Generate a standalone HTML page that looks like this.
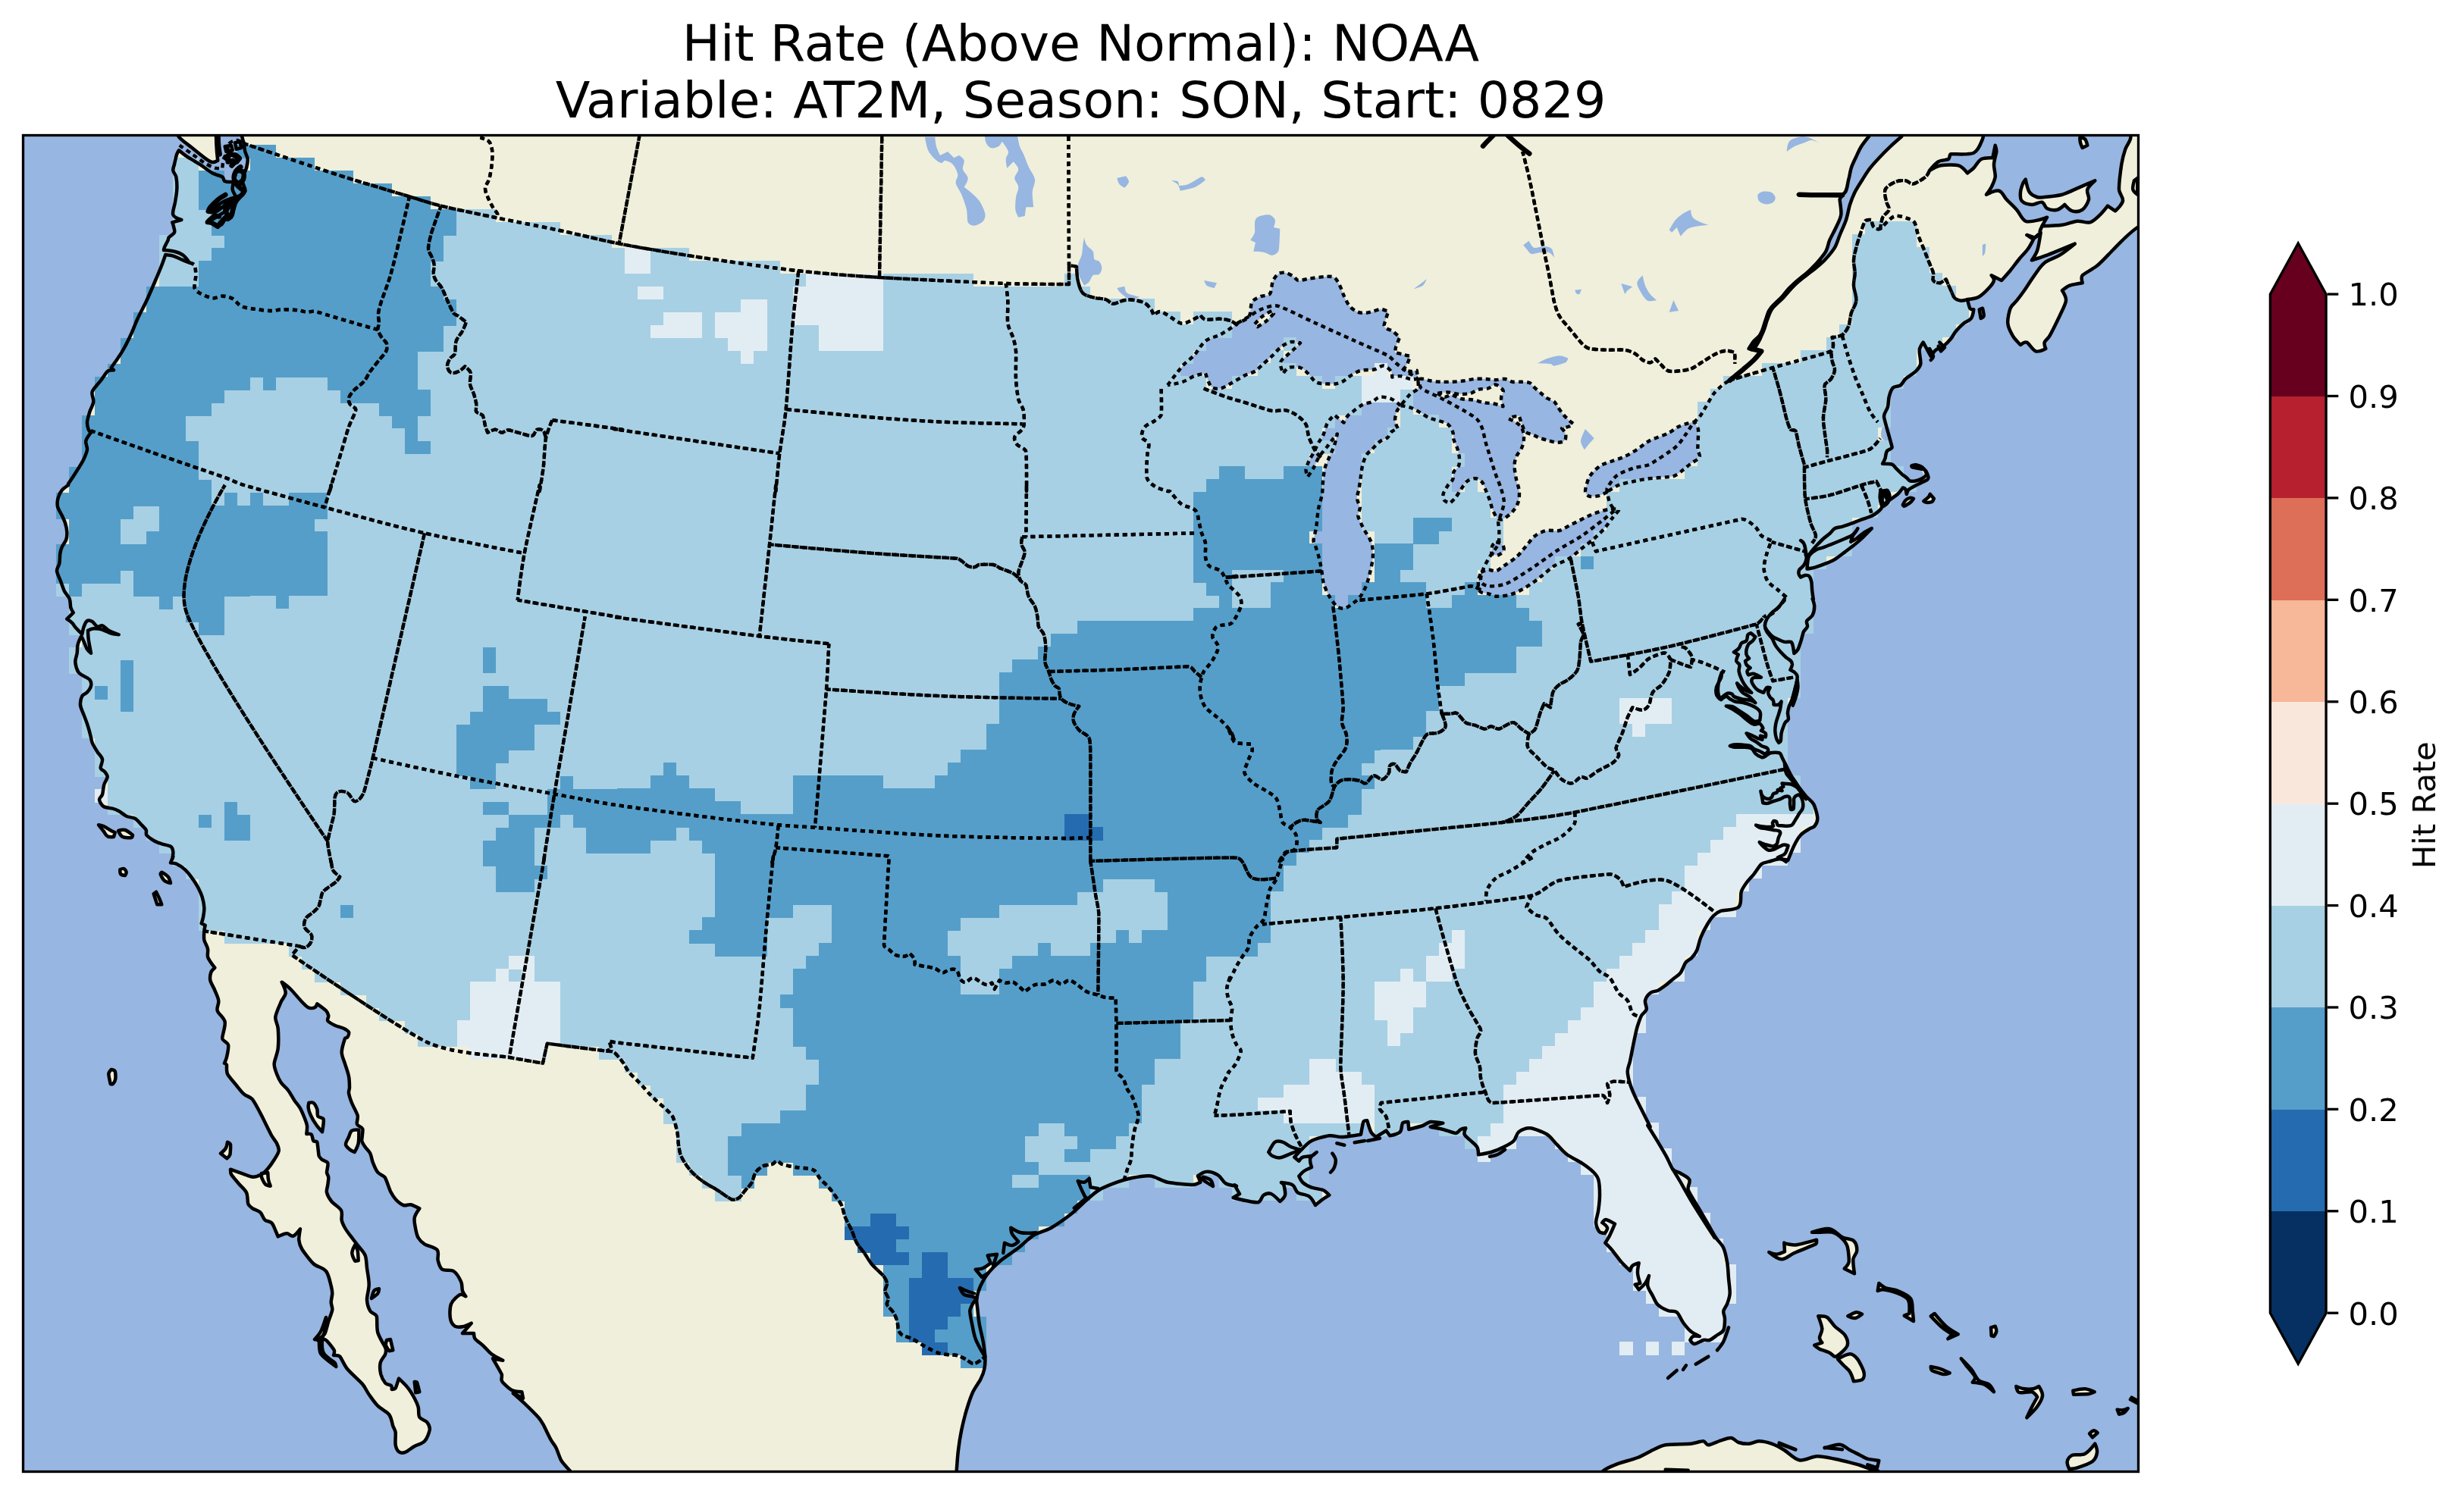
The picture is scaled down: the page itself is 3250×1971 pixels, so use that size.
<!DOCTYPE html>
<html><head><meta charset="utf-8"><title>Hit Rate (Above Normal): NOAA</title>
<style>html,body{margin:0;padding:0;background:#fff}svg{display:block}</style></head>
<body>
<svg xmlns="http://www.w3.org/2000/svg" width="3250" height="1971" viewBox="0 0 3250 1971">
<rect width="3250" height="1971" fill="#fff"/>
<g font-family="'DejaVu Sans','Liberation Sans',sans-serif" font-size="66.667" text-anchor="middle" fill="#000" opacity="0.999"><text x="1425.5" y="80.4">Hit Rate (Above Normal): NOAA</text><text x="1425.5" y="154.6">Variable: AT2M, Season: SON, Start: 0829</text></g>
<clipPath id="axclip"><rect x="30.5" y="178.5" width="2790.0" height="1763.0"/></clipPath>
<g clip-path="url(#axclip)">
<rect x="25.5" y="173.5" width="2800.0" height="1773.0" fill="#97b6e1"/>
<g fill="#efefdb" stroke="none">
<path d="M316.7 170.0C316.7 170.0 319.5 181.3 320.0 183.3C320.5 185.3 321.3 187.3 321.7 189.3C322.1 191.4 322.5 196.6 323.3 200.0C324.2 203.4 326.4 206.5 326.7 210.0C326.9 213.5 325.7 218.8 325.0 221.7C324.3 224.6 322.5 227.1 321.7 230.0C320.9 232.9 319.7 236.7 320.0 240.0C320.3 243.3 323.3 247.5 323.3 250.0C323.3 252.5 321.4 254.6 320.0 256.7C318.6 258.7 313.4 263.6 311.7 266.7C309.9 269.7 309.4 273.3 308.3 276.7C307.2 280.0 306.9 284.4 305.0 286.7C303.1 288.9 298.9 288.3 296.7 290.0C294.4 291.7 293.9 295.6 291.7 296.7C289.4 297.8 285.8 297.5 283.3 296.7C280.8 295.8 276.7 291.7 276.7 291.7C276.7 291.7 286.6 285.5 290.0 283.3C293.4 281.2 297.5 279.4 300.0 276.7C302.5 273.9 305.0 266.7 305.0 266.7L301.7 265.0C301.7 265.0 296.4 270.8 293.3 273.3C290.3 275.8 286.1 279.3 283.3 280.0C280.6 280.7 275.0 278.3 275.0 278.3C275.0 278.3 278.3 276.0 280.0 275.0C281.7 274.0 291.9 267.3 296.7 265.0C301.4 262.7 311.7 260.0 311.7 260.0C311.7 260.0 307.2 253.3 306.7 250.0C306.1 246.7 308.3 240.0 308.3 240.0C308.3 240.0 306.1 240.1 305.0 240.0C303.9 239.9 298.6 240.4 296.7 239.3C294.7 238.2 295.2 234.6 293.3 233.3C291.4 232.1 284.1 230.6 280.0 228.3C275.9 226.0 268.8 220.2 263.3 216.7C257.9 213.1 250.4 209.2 246.7 206.7C242.9 204.2 236.0 198.3 236.0 198.3C236.0 198.3 233.9 201.5 233.3 203.3C232.7 205.1 230.6 213.9 230.0 216.7C229.4 219.4 227.9 222.2 228.3 225.0C228.7 227.8 231.7 230.3 232.3 233.3C232.9 236.4 233.6 244.4 233.3 250.0C233.1 255.6 231.8 261.1 231.0 266.7C230.2 272.2 226.9 279.4 228.3 283.3C229.7 287.2 239.3 290.0 239.3 290.0L227.3 293.3C227.3 293.3 228.9 297.8 229.3 300.0C229.8 302.2 231.0 304.7 230.0 306.7C229.0 308.7 223.4 312.4 222.7 313.3C221.9 314.2 222.1 315.6 221.7 316.7C221.2 317.7 217.1 325.6 216.7 326.7C216.2 327.7 216.0 330.0 216.0 330.0C216.0 330.0 225.9 330.6 230.0 331.7C234.1 332.7 238.3 334.2 241.7 336.7C245.0 339.2 250.0 346.7 250.0 346.7C250.0 346.7 243.3 344.0 240.0 342.7C236.7 341.3 231.6 338.7 228.3 337.7C225.1 336.7 218.3 336.0 218.3 336.0C218.3 336.0 215.1 345.4 213.3 350.0C211.5 354.6 207.8 363.4 205.0 370.0C202.2 376.6 197.0 388.8 193.3 396.7C189.7 404.5 184.7 413.4 181.7 420.0C178.6 426.6 176.3 433.4 173.3 440.0C170.3 446.6 165.9 455.4 163.3 460.0C160.8 464.6 157.7 469.4 155.0 473.3C152.3 477.3 146.7 485.0 146.7 485.0L150.0 488.3C150.0 488.3 143.9 488.2 141.7 490.0C139.5 491.8 136.2 497.8 133.3 501.7C130.5 505.5 123.2 512.4 121.7 516.7C120.2 520.9 123.9 525.6 123.3 530.0C122.8 534.4 119.7 539.0 118.3 543.3C117.0 547.7 115.2 553.3 115.0 556.7C114.8 560.0 116.1 565.0 116.7 566.7C117.3 568.3 120.0 570.7 120.0 570.7C120.0 570.7 114.2 577.9 113.3 581.7C112.5 585.4 115.5 589.4 115.0 593.3C114.5 597.2 112.1 602.4 110.0 606.7C107.9 610.9 103.2 618.3 100.0 623.3C96.8 628.4 90.3 637.9 90.0 638.3C89.7 638.8 90.4 639.6 90.0 640.0C89.6 640.4 83.9 643.9 81.7 646.7C79.4 649.4 77.6 653.1 76.7 656.7C75.7 660.3 75.2 664.5 76.0 668.3C76.8 672.1 80.1 676.7 81.7 680.0C83.2 683.3 84.9 686.5 86.0 690.0C87.1 693.5 88.1 698.3 88.3 701.7C88.5 705.0 88.4 708.5 87.3 711.7C86.3 714.8 82.8 719.0 81.7 721.7C80.5 724.3 79.8 727.1 79.3 730.0C78.9 732.9 79.0 739.9 78.3 743.3C77.7 746.8 74.7 749.8 75.0 753.3C75.3 756.8 78.3 762.2 80.0 766.7C81.7 771.1 83.2 776.4 85.0 780.0C86.8 783.6 90.3 786.4 91.7 790.0C93.1 793.6 92.7 799.3 93.3 801.7C94.0 804.1 96.7 808.3 96.7 808.3L88.3 816.7C88.3 816.7 93.1 819.7 95.0 821.7C96.9 823.6 98.2 826.3 100.0 828.3C101.8 830.4 108.3 836.7 108.3 836.7C108.3 836.7 109.6 829.4 110.7 826.7C111.7 823.9 113.2 820.1 115.0 819.0C116.8 817.9 119.7 818.9 121.7 820.0C123.6 821.1 126.2 825.8 128.3 826.7C130.4 827.5 132.9 824.6 135.0 825.3C137.1 826.0 140.3 830.0 143.3 831.7C146.4 833.4 156.7 837.3 156.7 837.3C156.7 837.3 149.9 836.7 146.7 835.7C143.4 834.7 138.8 831.7 135.0 830.7C131.2 829.6 125.9 829.2 123.3 829.3C120.8 829.5 116.0 831.7 116.0 831.7C116.0 831.7 116.2 839.5 116.7 843.3C117.2 847.2 120.0 861.7 120.0 861.7C120.0 861.7 116.2 858.7 115.0 856.7C113.8 854.6 110.8 846.9 110.0 845.0C109.2 843.1 107.3 839.3 107.3 839.3C107.3 839.3 103.6 846.3 102.7 850.0C101.7 853.7 102.2 857.8 101.7 861.7C101.1 865.5 99.1 869.4 99.3 873.3C99.6 877.3 101.9 884.3 103.3 886.7C104.7 889.1 107.7 890.1 110.0 891.7C112.3 893.2 116.7 894.4 118.3 896.7C120.0 898.9 120.6 902.2 120.0 905.0C119.4 907.8 116.8 911.2 115.0 913.3C113.2 915.4 109.7 915.9 108.3 918.3C107.0 920.8 105.7 926.1 106.0 930.0C106.3 933.9 108.6 937.8 110.0 941.7C111.4 945.5 113.5 950.5 115.0 955.0C116.5 959.5 118.5 966.7 119.3 970.0C120.2 973.3 120.4 976.8 121.7 980.0C123.0 983.2 126.2 988.3 128.3 991.7C130.4 995.1 134.3 998.1 135.0 1001.7C135.7 1005.3 132.2 1010.9 132.7 1013.3C133.2 1015.8 136.8 1016.4 138.3 1018.3C139.8 1020.3 141.8 1022.5 141.7 1025.0C141.5 1027.5 138.3 1031.5 137.3 1035.0C136.3 1038.5 135.8 1045.9 135.0 1048.3C134.2 1050.8 130.7 1052.4 131.0 1055.0C131.3 1057.6 133.8 1062.1 136.7 1064.0C139.6 1065.9 145.5 1065.8 148.3 1066.7C151.2 1067.5 154.0 1068.6 156.7 1070.0C159.3 1071.4 163.1 1075.0 166.7 1076.7C170.3 1078.3 175.0 1078.1 178.3 1080.0C181.7 1081.9 184.6 1086.2 186.7 1088.3C188.7 1090.5 191.7 1093.0 192.7 1095.0C193.7 1097.0 192.0 1099.9 193.3 1101.7C194.7 1103.5 200.2 1107.5 203.3 1109.3C206.4 1111.1 209.9 1112.2 213.3 1113.3C216.7 1114.5 222.9 1115.3 225.0 1116.7C227.1 1118.0 228.0 1120.9 228.3 1123.3C228.7 1125.8 227.3 1133.3 227.3 1133.3L228.3 1130.0L225.0 1138.3C225.0 1138.3 230.8 1138.8 233.3 1140.0C235.9 1141.2 240.4 1144.0 243.3 1146.7C246.3 1149.4 250.3 1154.2 253.3 1158.3C256.4 1162.5 259.7 1167.9 261.7 1171.7C263.7 1175.4 265.4 1179.3 266.7 1183.3C267.9 1187.4 269.1 1192.8 269.3 1196.7C269.6 1200.6 268.9 1204.9 268.3 1208.3C267.8 1211.7 265.7 1218.3 265.7 1218.3L270.7 1220.7C270.7 1220.7 269.5 1225.7 269.3 1228.3C269.2 1230.9 268.6 1236.2 269.3 1240.0C270.1 1243.8 273.2 1247.9 274.0 1251.7C274.8 1255.5 273.0 1259.7 274.3 1263.3C275.7 1267.0 283.3 1276.7 283.3 1276.7C283.3 1276.7 279.2 1280.2 278.3 1282.7C277.5 1285.1 276.7 1289.8 277.3 1293.3C278.0 1296.8 281.0 1301.0 282.7 1305.0C284.3 1309.0 287.7 1315.6 288.3 1320.0C289.0 1324.4 285.4 1329.0 286.7 1333.3C287.9 1337.6 295.6 1342.4 296.7 1348.3C297.7 1354.2 292.8 1366.3 293.3 1370.0C293.9 1373.7 300.1 1374.7 301.0 1378.3C301.9 1382.0 300.0 1390.1 299.3 1393.3C298.7 1396.6 296.0 1402.7 296.0 1402.7C296.0 1402.7 298.7 1403.8 299.0 1405.0C299.3 1406.2 298.3 1413.1 300.0 1416.7C301.7 1420.2 308.4 1427.7 311.7 1431.7C314.9 1435.6 318.4 1440.5 321.7 1443.3C324.9 1446.2 329.9 1446.8 332.7 1450.0C335.5 1453.2 340.9 1464.0 343.3 1468.3C345.7 1472.7 347.8 1477.2 350.0 1481.7C352.2 1486.1 356.4 1494.8 358.3 1498.3C360.3 1501.8 363.5 1505.2 365.0 1508.3C366.5 1511.5 368.2 1514.9 367.7 1518.3C367.1 1521.7 364.0 1526.3 361.7 1530.0C359.4 1533.7 355.8 1538.8 353.3 1541.7C350.9 1544.5 348.3 1547.5 345.0 1549.3C341.7 1551.2 337.4 1552.8 333.3 1552.7C329.3 1552.5 324.4 1549.8 320.0 1548.3C315.6 1546.8 304.0 1542.7 304.0 1542.7C304.0 1542.7 303.9 1547.4 305.0 1549.3C306.1 1551.3 311.7 1557.7 315.0 1561.7C318.3 1565.6 322.9 1568.9 325.0 1573.3C327.1 1577.8 326.3 1585.7 327.3 1588.3C328.4 1591.0 331.0 1592.7 333.3 1594.3C335.7 1595.9 340.7 1596.8 343.3 1599.3C346.0 1601.8 346.9 1607.1 349.3 1609.3C351.7 1611.6 356.0 1611.0 358.3 1613.3C360.7 1615.7 362.1 1620.7 363.3 1623.3C364.5 1626.0 366.7 1631.3 366.7 1631.3C366.7 1631.3 375.3 1627.4 378.3 1627.3C381.3 1627.2 383.8 1631.6 386.7 1630.7C389.5 1629.7 396.0 1621.3 396.0 1621.3C396.0 1621.3 394.0 1632.2 394.3 1636.3C394.7 1640.4 396.2 1644.5 398.3 1648.0C400.5 1651.5 408.6 1662.6 413.3 1667.0C418.1 1671.4 426.1 1672.1 430.0 1677.0C433.9 1681.9 435.7 1693.1 436.7 1696.3C437.6 1699.6 438.3 1703.0 438.3 1706.3C438.3 1709.7 436.7 1714.6 436.7 1718.0C436.7 1721.4 438.8 1724.7 438.3 1728.0C437.9 1731.3 434.9 1738.0 433.3 1743.0C431.7 1748.0 430.1 1756.6 428.3 1759.7C426.6 1762.8 420.0 1766.3 420.0 1766.3C420.0 1766.3 427.3 1766.0 430.0 1768.0C432.7 1770.0 439.7 1779.3 440.7 1781.3C441.7 1783.3 440.0 1788.0 440.0 1788.0C440.0 1788.0 446.3 1787.7 448.3 1789.7C450.3 1791.7 454.2 1801.3 458.3 1806.3C462.4 1811.3 474.9 1822.3 478.3 1826.3C481.7 1830.3 483.6 1835.4 486.7 1839.7C489.7 1843.9 493.9 1850.2 498.3 1854.7C502.8 1859.1 510.2 1862.1 513.3 1866.3C516.5 1870.5 517.3 1878.5 518.3 1881.3C519.3 1884.2 521.3 1886.7 521.7 1889.7C522.1 1892.6 521.0 1902.9 521.7 1906.3C522.3 1909.8 524.4 1914.1 526.7 1915.7C528.9 1917.2 532.4 1916.7 535.0 1915.7C537.6 1914.7 542.6 1910.3 546.7 1908.0C550.7 1905.7 556.7 1904.9 560.0 1901.3C563.3 1897.7 566.2 1889.8 566.7 1886.3C567.1 1882.9 565.5 1879.1 563.3 1876.3C561.1 1873.6 555.3 1873.0 553.3 1869.7C551.4 1866.3 552.8 1860.4 551.7 1856.3C550.6 1852.2 548.7 1848.4 546.7 1844.7C544.7 1840.9 541.6 1835.4 538.3 1831.3C535.1 1827.2 526.0 1818.7 526.0 1818.7C526.0 1818.7 522.6 1829.9 521.7 1831.3C520.7 1832.8 516.7 1833.0 516.7 1833.0C516.7 1833.0 517.2 1829.2 516.0 1828.0C514.8 1826.8 510.2 1826.7 508.3 1824.7C506.5 1822.6 503.4 1817.2 502.3 1813.0C501.3 1808.8 500.7 1802.4 501.7 1798.0C502.6 1793.6 507.5 1789.0 508.3 1786.3C509.2 1783.7 509.3 1780.6 508.3 1778.0C507.4 1775.4 500.3 1764.9 498.3 1758.0C496.4 1751.1 497.9 1739.7 496.7 1736.3C495.5 1733.0 490.1 1732.7 488.3 1729.7C486.5 1726.6 484.2 1719.9 484.0 1714.7C483.8 1709.5 486.7 1701.4 486.7 1694.7C486.7 1687.9 484.7 1678.6 484.0 1673.0C483.3 1667.4 483.4 1660.8 481.7 1656.3C480.0 1651.9 476.2 1648.5 473.3 1644.7C470.5 1640.8 464.0 1632.8 461.7 1629.7C459.3 1626.5 456.8 1623.2 455.0 1620.0C453.2 1616.8 451.4 1613.6 450.7 1610.0C449.9 1606.4 452.1 1600.6 450.0 1596.7C447.9 1592.7 440.1 1588.4 437.3 1585.0C434.5 1581.6 431.8 1576.6 431.0 1573.3C430.2 1570.1 431.9 1566.7 432.3 1563.3C432.7 1560.0 433.5 1555.7 433.3 1553.3C433.1 1551.0 431.1 1549.0 431.0 1546.7C430.9 1544.3 433.3 1537.0 432.3 1534.3C431.4 1531.7 426.7 1531.4 425.0 1530.0C423.3 1528.6 421.3 1527.1 420.7 1525.0C420.1 1522.9 418.9 1508.3 418.3 1506.7C417.7 1505.0 414.4 1506.4 413.3 1505.0C412.3 1503.6 412.2 1498.2 410.7 1496.7C409.2 1495.2 404.3 1496.0 404.3 1496.0C404.3 1496.0 405.4 1488.5 405.0 1485.0C404.6 1481.5 403.0 1478.3 401.7 1475.0C400.4 1471.7 397.7 1465.3 395.7 1461.7C393.6 1458.1 390.6 1455.1 388.3 1451.7C386.0 1448.2 382.8 1442.0 380.0 1438.3C377.2 1434.7 373.1 1431.9 370.7 1428.3C368.2 1424.8 366.5 1420.7 365.0 1416.7C363.5 1412.6 361.4 1407.9 361.7 1403.3C361.9 1398.8 365.9 1390.2 366.7 1383.3C367.4 1376.5 367.1 1361.8 366.7 1356.7C366.3 1351.6 362.8 1346.8 363.3 1341.7C363.9 1336.6 369.0 1325.7 370.7 1321.7C372.4 1317.6 376.5 1314.3 376.7 1310.0C376.8 1305.7 371.7 1295.7 371.7 1295.7C371.7 1295.7 379.8 1301.5 383.3 1305.0C386.9 1308.5 393.5 1316.7 396.7 1320.0C399.8 1323.3 404.2 1328.1 406.7 1329.3C409.1 1330.6 413.2 1330.1 415.0 1329.3C416.8 1328.5 418.3 1324.3 418.3 1324.3C418.3 1324.3 428.3 1331.5 430.0 1333.3C431.7 1335.1 432.9 1337.8 433.3 1340.0C433.7 1342.2 431.1 1344.8 432.3 1346.7C433.6 1348.5 438.3 1351.1 441.7 1352.7C445.0 1354.3 450.8 1355.4 453.3 1356.7C455.8 1357.9 459.2 1359.7 460.0 1361.7C460.8 1363.6 459.0 1367.3 458.3 1368.3C457.7 1369.4 455.4 1368.8 455.0 1370.0C454.6 1371.2 450.7 1383.1 450.7 1388.3C450.7 1393.5 453.5 1398.3 455.0 1403.3C456.5 1408.3 459.1 1415.1 460.0 1420.0C460.9 1424.9 461.0 1432.8 461.0 1435.0C461.0 1437.2 459.7 1439.4 460.0 1441.7C460.3 1443.9 462.3 1450.7 464.0 1455.0C465.7 1459.3 470.7 1467.9 471.7 1471.7C472.6 1475.4 469.9 1480.4 471.0 1483.3C472.1 1486.3 477.4 1486.3 478.3 1489.3C479.2 1492.4 476.9 1501.9 477.3 1505.0C477.8 1508.1 479.9 1510.7 481.7 1513.3C483.4 1515.9 486.7 1518.5 488.3 1521.7C489.9 1524.8 490.2 1529.6 491.7 1533.3C493.2 1537.1 495.9 1543.7 498.3 1546.7C500.7 1549.7 505.5 1550.2 507.7 1553.3C509.8 1556.5 513.0 1567.7 515.0 1571.7C517.0 1575.6 519.5 1579.7 522.3 1582.7C525.2 1585.7 529.4 1589.0 532.3 1590.0C535.3 1591.0 538.6 1588.7 541.7 1589.3C544.7 1590.0 553.3 1594.3 553.3 1594.3C553.3 1594.3 547.5 1602.1 546.7 1606.7C545.8 1611.2 547.6 1617.8 548.3 1621.7C549.1 1625.5 549.7 1629.7 551.7 1633.0C553.6 1636.3 556.7 1639.2 560.0 1641.3C563.3 1643.5 573.7 1645.4 576.7 1649.0C579.6 1652.6 576.6 1658.8 577.7 1663.0C578.8 1667.2 579.9 1672.3 583.3 1674.7C586.8 1677.0 594.2 1674.2 598.3 1677.0C602.5 1679.8 606.7 1687.7 608.3 1691.3C609.9 1694.9 609.1 1700.3 610.0 1703.0C610.9 1705.7 614.3 1710.3 614.3 1710.3C614.3 1710.3 609.0 1706.8 606.7 1708.0C604.3 1709.2 597.1 1715.1 595.0 1720.3C592.9 1725.6 593.3 1735.8 594.0 1739.7C594.7 1743.5 597.3 1747.9 600.0 1749.7C602.7 1751.4 606.7 1750.9 610.0 1750.3C613.3 1749.7 621.7 1745.7 621.7 1745.7L610.0 1759.0L625.0 1759.0C625.0 1759.0 625.1 1764.3 626.7 1766.3C628.2 1768.3 634.9 1773.1 638.3 1776.3C641.8 1779.5 644.5 1783.5 648.3 1786.3C652.1 1789.1 663.3 1794.7 663.3 1794.7L650.0 1792.3C650.0 1792.3 660.6 1810.4 661.7 1813.0C662.7 1815.6 660.8 1818.9 661.7 1821.3C662.5 1823.7 664.7 1825.6 666.7 1827.3C668.6 1829.1 673.1 1833.2 676.7 1834.7C680.3 1836.2 688.3 1836.3 688.3 1836.3L690.0 1844.7L676.7 1838.0C676.7 1838.0 686.8 1846.7 691.7 1851.3C696.5 1855.9 707.3 1866.7 710.0 1869.7C712.7 1872.7 714.7 1876.2 716.7 1879.7C718.6 1883.2 724.7 1896.2 726.7 1899.7C728.6 1903.2 731.5 1906.1 733.3 1909.7C735.1 1913.2 738.3 1923.2 740.0 1926.3C741.7 1929.5 745.1 1932.7 746.7 1934.7C748.3 1936.6 750.1 1938.4 751.7 1940.3C753.2 1942.3 765.5 1951.6 766.7 1959.7C767.8 1967.7 760.0 2000.0 760.0 2000.0L1258.0 2000.0C1258.0 2000.0 1259.6 1966.1 1260.0 1959.7C1260.4 1953.2 1261.1 1946.8 1261.7 1940.3C1262.2 1933.9 1262.9 1921.9 1264.0 1913.0C1265.1 1904.1 1266.5 1895.2 1268.3 1886.3C1270.2 1877.5 1272.6 1867.6 1275.0 1859.7C1277.4 1851.8 1280.6 1842.2 1283.3 1836.3C1286.0 1830.4 1291.2 1823.9 1293.3 1819.7C1295.5 1815.4 1297.4 1811.0 1298.3 1806.3C1299.3 1801.7 1299.6 1795.2 1299.3 1789.7C1299.1 1784.1 1297.8 1776.3 1296.7 1769.7C1295.5 1763.0 1292.8 1753.0 1291.7 1746.3C1290.5 1739.7 1289.8 1730.8 1289.3 1726.3C1288.9 1721.9 1287.7 1717.4 1288.3 1713.0C1288.9 1708.6 1291.0 1701.6 1293.3 1696.3C1295.7 1691.0 1299.3 1684.7 1303.3 1679.7C1307.4 1674.6 1314.0 1668.0 1320.0 1663.0C1326.0 1658.0 1336.5 1651.6 1343.3 1646.3C1350.2 1641.0 1356.1 1634.1 1363.3 1629.7C1370.5 1625.2 1379.3 1623.8 1386.7 1619.7C1394.0 1615.5 1406.2 1606.9 1413.3 1601.3C1420.4 1595.7 1427.9 1587.7 1433.3 1583.0C1438.7 1578.3 1443.9 1573.3 1450.0 1569.7C1456.1 1566.1 1467.9 1561.7 1473.3 1559.7C1478.8 1557.6 1484.3 1555.8 1490.0 1554.7C1495.7 1553.6 1508.4 1550.5 1516.7 1551.3C1524.9 1552.2 1531.9 1558.0 1540.0 1559.7C1548.1 1561.3 1569.8 1563.0 1573.3 1563.0C1576.8 1563.0 1583.3 1559.7 1583.3 1559.7L1580.0 1551.3C1580.0 1551.3 1587.3 1545.8 1591.7 1545.7C1596.0 1545.5 1602.5 1547.7 1606.7 1550.3C1610.8 1552.9 1612.6 1558.9 1616.7 1561.3C1620.7 1563.7 1631.0 1564.7 1631.0 1564.7L1628.3 1563.3L1635.0 1575.0L1626.7 1580.0C1626.7 1580.0 1637.8 1583.0 1643.3 1584.0C1648.8 1585.0 1656.4 1587.1 1660.0 1586.0C1663.6 1584.9 1663.9 1578.5 1666.7 1576.7C1669.4 1574.8 1673.5 1573.8 1676.7 1575.0C1679.8 1576.2 1688.3 1585.0 1688.3 1585.0C1688.3 1585.0 1694.2 1580.1 1695.0 1576.7C1695.8 1573.2 1693.8 1564.8 1693.3 1563.3C1692.9 1561.8 1690.0 1560.0 1690.0 1560.0C1690.0 1560.0 1701.6 1561.2 1705.0 1563.3C1708.4 1565.4 1708.4 1571.1 1711.7 1573.3C1715.0 1575.6 1722.8 1575.6 1726.7 1578.3C1730.6 1581.1 1735.0 1590.0 1735.0 1590.0C1735.0 1590.0 1740.5 1585.4 1743.3 1583.3C1746.2 1581.2 1753.3 1576.7 1753.3 1576.7C1753.3 1576.7 1748.3 1571.4 1745.0 1570.0C1741.7 1568.6 1734.2 1568.2 1730.0 1566.7C1725.8 1565.1 1720.7 1562.2 1718.3 1560.0C1715.9 1557.8 1713.3 1551.7 1713.3 1551.7C1713.3 1551.7 1717.4 1546.8 1720.0 1545.0C1722.6 1543.2 1730.0 1540.0 1730.0 1540.0C1730.0 1540.0 1727.2 1531.7 1728.3 1528.3C1729.4 1525.0 1736.7 1520.0 1736.7 1520.0C1736.7 1520.0 1732.6 1524.1 1730.0 1525.0C1727.4 1525.9 1720.5 1525.8 1718.3 1526.7C1716.1 1527.5 1713.3 1531.7 1713.3 1531.7L1707.3 1526.7C1707.3 1526.7 1713.4 1519.8 1716.7 1516.7C1720.0 1513.5 1724.7 1507.6 1730.0 1505.0C1735.3 1502.4 1747.8 1499.0 1753.3 1498.3C1758.9 1497.6 1764.4 1500.2 1770.0 1500.0C1775.6 1499.8 1795.0 1496.7 1795.0 1496.7C1795.0 1496.7 1797.6 1481.6 1798.3 1480.0C1799.1 1478.4 1803.3 1478.3 1803.3 1478.3C1803.3 1478.3 1806.8 1490.6 1808.3 1493.3C1809.8 1496.1 1815.0 1500.0 1815.0 1500.0L1828.3 1491.7L1833.3 1498.3C1833.3 1498.3 1843.9 1496.1 1846.7 1493.3C1849.4 1490.6 1848.4 1483.6 1850.0 1481.7C1851.6 1479.7 1857.3 1480.0 1857.3 1480.0L1858.3 1490.0C1858.3 1490.0 1873.2 1486.2 1876.7 1485.0C1880.2 1483.8 1883.0 1480.5 1886.7 1480.0C1890.4 1479.5 1903.3 1481.7 1903.3 1481.7L1886.7 1486.7C1886.7 1486.7 1897.8 1488.6 1903.3 1490.0C1908.8 1491.4 1917.2 1495.0 1920.0 1495.0C1922.8 1495.0 1924.6 1491.0 1926.7 1490.0C1928.7 1489.0 1933.3 1488.3 1933.3 1488.3C1933.3 1488.3 1930.6 1494.0 1931.7 1496.7C1932.7 1499.3 1937.2 1502.2 1940.0 1505.0C1942.8 1507.8 1946.7 1510.4 1948.3 1513.3C1950.0 1516.3 1950.0 1523.3 1950.0 1523.3C1950.0 1523.3 1961.2 1521.6 1966.7 1520.0C1972.1 1518.4 1978.6 1515.7 1983.3 1513.3C1988.0 1511.0 1993.5 1508.2 1996.7 1505.0C1999.8 1501.8 1999.8 1496.1 2003.3 1493.3C2006.9 1490.6 2013.1 1487.9 2018.3 1488.3C2023.6 1488.8 2034.6 1493.1 2040.0 1496.3C2045.4 1499.6 2048.9 1505.2 2053.3 1509.7C2057.8 1514.1 2061.6 1519.2 2066.7 1523.0C2071.7 1526.8 2081.4 1531.2 2086.7 1534.7C2091.9 1538.2 2098.8 1543.5 2101.7 1546.3C2104.5 1549.2 2107.3 1552.5 2108.3 1556.3C2109.4 1560.2 2110.0 1569.7 2110.0 1576.3C2110.0 1583.0 2109.1 1590.7 2108.3 1596.3C2107.6 1601.9 2104.9 1608.9 2105.0 1613.0C2105.1 1617.1 2107.7 1622.7 2109.3 1624.7C2111.0 1626.6 2116.7 1627.0 2116.7 1627.0C2116.7 1627.0 2120.6 1622.0 2120.0 1619.7C2119.4 1617.3 2113.3 1613.0 2113.3 1613.0C2113.3 1613.0 2116.2 1608.8 2118.3 1609.0C2120.5 1609.2 2130.0 1614.7 2130.0 1614.7C2130.0 1614.7 2125.1 1626.2 2123.3 1629.7C2121.6 1633.1 2117.3 1639.7 2117.3 1639.7C2117.3 1639.7 2123.7 1646.2 2126.7 1649.7C2129.6 1653.2 2134.7 1660.5 2138.3 1664.7C2142.0 1668.8 2150.0 1676.3 2150.0 1676.3C2150.0 1676.3 2151.4 1671.3 2153.3 1669.7C2155.2 1668.0 2161.7 1666.3 2161.7 1666.3C2161.7 1666.3 2159.7 1675.2 2160.0 1679.7C2160.3 1684.1 2163.3 1693.0 2163.3 1693.0L2156.7 1694.7L2161.7 1701.3C2161.7 1701.3 2167.8 1696.0 2170.0 1693.0C2172.2 1690.0 2175.0 1683.0 2175.0 1683.0C2175.0 1683.0 2172.5 1691.9 2173.3 1696.3C2174.2 1700.7 2177.9 1705.7 2180.0 1709.7C2182.1 1713.6 2183.4 1718.2 2186.7 1721.3C2189.9 1724.4 2196.3 1727.5 2200.0 1729.0C2203.7 1730.5 2208.5 1728.9 2211.7 1731.3C2214.8 1733.8 2217.0 1740.5 2220.0 1744.7C2223.0 1748.8 2226.6 1753.4 2230.0 1756.3C2233.4 1759.2 2241.7 1763.0 2241.7 1763.0C2241.7 1763.0 2235.3 1762.2 2233.3 1763.0C2231.4 1763.8 2229.3 1768.0 2229.3 1768.0C2229.3 1768.0 2232.5 1773.0 2235.0 1773.0C2237.5 1773.0 2244.0 1768.7 2246.7 1768.0C2249.4 1767.3 2252.4 1768.9 2255.0 1768.0C2257.6 1767.1 2262.1 1763.4 2265.0 1761.3C2267.9 1759.2 2271.8 1757.9 2273.3 1754.7C2274.8 1751.4 2275.0 1743.0 2275.0 1739.7C2275.0 1736.3 2272.8 1733.0 2273.3 1729.7C2273.9 1726.3 2277.1 1723.2 2278.3 1719.7C2279.6 1716.2 2281.4 1710.9 2281.7 1706.3C2281.9 1701.8 2280.6 1693.0 2280.0 1686.3C2279.4 1679.7 2279.4 1672.9 2278.3 1666.3C2277.2 1659.7 2275.6 1651.4 2273.3 1646.3C2271.1 1641.3 2266.4 1637.7 2263.3 1633.0C2260.3 1628.3 2255.6 1619.7 2251.7 1613.0C2247.8 1606.3 2243.9 1599.7 2240.0 1593.0C2236.1 1586.3 2228.0 1573.9 2226.7 1569.7C2225.3 1565.4 2230.0 1559.9 2228.3 1556.3C2226.7 1552.7 2219.8 1550.0 2216.7 1548.0C2213.5 1546.0 2209.1 1545.8 2206.7 1543.0C2204.3 1540.2 2201.3 1531.8 2198.3 1526.3C2195.4 1520.9 2190.6 1513.0 2186.7 1506.3C2182.7 1499.7 2173.3 1484.7 2173.3 1484.7L2176.7 1486.7C2176.7 1486.7 2170.0 1473.3 2166.7 1466.7C2163.3 1460.0 2159.1 1452.1 2156.7 1446.7C2154.2 1441.2 2151.6 1435.4 2150.0 1430.0C2148.4 1424.6 2146.7 1417.9 2146.7 1413.3C2146.7 1408.8 2149.0 1404.5 2150.0 1400.0C2151.0 1395.5 2152.2 1388.9 2153.3 1383.3C2154.4 1377.8 2155.7 1371.1 2156.7 1366.7C2157.7 1362.2 2158.6 1357.7 2160.0 1353.3C2161.4 1349.0 2163.3 1343.1 2165.0 1340.0C2166.7 1336.9 2170.8 1335.0 2171.7 1331.7C2172.5 1328.3 2169.2 1323.6 2170.0 1320.0C2170.8 1316.4 2173.9 1312.2 2176.7 1310.0C2179.4 1307.8 2183.5 1308.2 2186.7 1306.7C2189.8 1305.1 2193.5 1302.4 2196.7 1300.0C2199.9 1297.6 2203.3 1294.4 2206.7 1291.7C2210.0 1288.9 2214.0 1286.8 2216.7 1283.3C2219.3 1279.9 2221.2 1272.8 2223.3 1270.0C2225.5 1267.2 2229.3 1266.0 2231.7 1263.3C2234.0 1260.7 2236.7 1257.0 2238.3 1253.3C2239.9 1249.7 2241.2 1242.1 2243.3 1236.7C2245.5 1231.3 2249.2 1224.1 2251.7 1220.0C2254.1 1215.9 2257.2 1211.2 2260.0 1208.3C2262.8 1205.5 2266.2 1203.0 2270.0 1201.7C2273.8 1200.3 2288.9 1200.8 2293.3 1196.7C2297.8 1192.5 2295.3 1180.9 2296.7 1176.7C2298.0 1172.4 2300.7 1168.6 2303.3 1165.0C2305.9 1161.4 2310.1 1157.3 2313.3 1153.3C2316.5 1149.3 2320.6 1142.2 2323.3 1140.0C2326.0 1137.8 2330.0 1137.6 2333.3 1136.7C2336.7 1135.7 2342.7 1133.6 2346.7 1133.3C2350.6 1133.1 2358.3 1135.0 2358.3 1135.0C2358.3 1135.0 2364.3 1119.7 2366.7 1115.0C2369.0 1110.3 2371.8 1105.2 2375.0 1101.7C2378.2 1098.2 2384.6 1094.7 2386.7 1093.3C2388.8 1092.0 2391.8 1091.9 2393.3 1090.0C2394.9 1088.1 2397.3 1083.6 2397.3 1080.0C2397.3 1076.4 2395.9 1068.3 2393.3 1063.3C2390.7 1058.3 2385.3 1054.7 2381.7 1050.0C2378.0 1045.3 2373.5 1038.8 2370.0 1033.3C2366.5 1027.9 2363.0 1022.1 2360.0 1016.7C2357.0 1011.2 2354.0 1005.8 2351.7 1000.0C2349.4 994.2 2345.2 980.7 2345.0 979.3C2344.8 977.9 2348.0 978.0 2348.3 976.7C2348.7 975.3 2348.8 963.8 2350.0 960.0C2351.2 956.2 2355.1 953.1 2356.7 950.0C2358.2 946.9 2359.0 943.4 2360.0 940.0C2361.0 936.6 2362.2 931.1 2363.3 926.7C2364.4 922.2 2365.6 917.8 2366.7 913.3C2367.8 908.9 2369.8 903.4 2370.0 900.0C2370.2 896.6 2369.0 893.3 2368.3 890.0C2367.6 886.7 2365.0 881.2 2365.0 876.7C2365.0 872.1 2367.2 863.6 2368.3 860.0C2369.4 856.4 2372.1 853.5 2373.3 850.0C2374.6 846.5 2375.3 839.1 2376.7 836.7C2378.0 834.2 2382.5 833.9 2383.3 831.7C2384.2 829.4 2380.8 825.6 2381.7 823.3C2382.5 821.1 2386.7 820.6 2388.3 818.3C2389.9 816.1 2392.7 810.8 2393.3 806.7C2394.0 802.5 2392.9 795.6 2392.7 790.0C2392.4 784.4 2392.1 777.8 2391.7 773.3C2391.3 768.9 2391.5 762.6 2390.0 760.0C2388.5 757.4 2384.4 756.7 2381.7 756.7C2378.9 756.7 2373.3 760.0 2373.3 760.0C2373.3 760.0 2375.5 753.3 2376.7 750.0C2377.8 746.7 2379.5 740.9 2381.7 736.7C2383.8 732.4 2387.1 727.0 2390.0 723.3C2392.9 719.6 2396.4 716.4 2400.0 713.3C2403.6 710.3 2411.0 705.2 2413.3 703.3C2415.7 701.5 2417.3 698.5 2420.0 697.3C2422.7 696.1 2435.4 693.2 2440.0 691.7C2444.6 690.1 2448.9 687.9 2453.3 686.0C2457.8 684.1 2462.2 682.0 2466.7 680.0C2471.1 678.0 2479.4 674.9 2481.7 673.3C2484.0 671.8 2486.7 666.7 2486.7 666.7L2483.3 666.7C2483.3 666.7 2481.1 659.7 2481.7 656.7C2482.2 653.6 2486.7 648.3 2486.7 648.3L2493.3 658.3C2493.3 658.3 2499.4 656.9 2501.7 655.0C2504.0 653.1 2511.7 643.3 2511.7 643.3L2516.7 650.0C2516.7 650.0 2524.3 644.3 2528.3 641.7C2532.3 639.1 2543.3 632.7 2543.3 632.7C2543.3 632.7 2539.6 622.8 2537.3 620.0C2535.1 617.2 2530.3 614.5 2528.3 614.0C2526.4 613.5 2522.7 616.0 2522.7 616.0C2522.7 616.0 2530.7 617.3 2533.3 619.3C2535.9 621.4 2538.3 628.3 2538.3 628.3C2538.3 628.3 2532.7 636.2 2528.3 637.3C2524.0 638.4 2516.1 637.3 2511.7 635.0C2507.2 632.7 2504.3 626.2 2501.7 623.3C2499.0 620.4 2496.3 616.7 2493.3 615.0C2490.4 613.3 2483.3 612.7 2483.3 612.7C2483.3 612.7 2486.6 601.9 2488.3 598.3C2490.1 594.7 2495.0 588.3 2495.0 588.3C2495.0 588.3 2483.6 581.4 2481.7 576.7C2479.7 571.9 2482.9 563.4 2483.3 560.0C2483.8 556.6 2484.1 553.2 2485.0 550.0C2485.9 546.8 2488.9 541.0 2490.0 536.7C2491.1 532.3 2490.6 527.4 2491.7 523.3C2492.8 519.2 2494.2 514.2 2496.7 511.7C2499.2 509.2 2503.9 510.3 2506.7 508.3C2509.4 506.4 2510.7 502.4 2513.3 500.0C2516.0 497.6 2523.8 492.8 2526.7 490.0C2529.5 487.2 2532.6 483.9 2533.3 480.0C2534.0 476.1 2531.2 465.4 2531.7 461.7C2532.1 458.0 2536.7 451.7 2536.7 451.7L2546.7 470.0C2546.7 470.0 2550.6 463.9 2553.3 461.7C2556.1 459.4 2560.4 458.9 2563.3 456.7C2566.3 454.4 2570.8 449.7 2573.3 446.7C2575.9 443.6 2577.4 439.7 2580.0 436.7C2582.6 433.6 2586.9 429.2 2590.0 426.7C2593.1 424.1 2597.8 423.1 2600.0 420.0C2602.2 416.9 2603.3 408.3 2603.3 408.3C2603.3 408.3 2599.3 408.2 2598.3 406.7C2597.4 405.2 2595.0 395.0 2595.0 395.0C2595.0 395.0 2605.5 394.1 2610.0 391.7C2614.5 389.3 2620.6 382.9 2623.3 380.0C2626.1 377.1 2629.5 372.4 2630.0 370.0C2630.5 367.6 2626.7 363.3 2626.7 363.3L2640.0 370.0C2640.0 370.0 2647.9 361.2 2651.7 356.7C2655.4 352.1 2659.6 346.2 2663.3 341.7C2667.1 337.1 2671.7 333.0 2675.0 328.3C2678.3 323.7 2683.3 313.3 2683.3 313.3L2673.3 310.0L2681.7 315.7L2691.7 306.7C2691.7 306.7 2688.9 325.2 2687.3 330.0C2685.8 334.8 2680.0 343.3 2680.0 343.3C2680.0 343.3 2693.4 339.2 2700.0 336.7C2706.6 334.2 2736.7 321.7 2736.7 321.7C2736.7 321.7 2723.0 332.7 2716.7 336.7C2710.3 340.6 2702.2 342.2 2696.7 346.7C2691.1 351.1 2687.5 357.6 2683.3 363.3C2679.1 369.1 2673.2 378.8 2670.0 383.3C2666.8 387.9 2662.7 393.3 2660.0 396.7C2657.3 400.1 2653.2 402.6 2651.7 406.7C2650.1 410.7 2647.8 420.7 2648.3 426.7C2648.9 432.6 2652.4 438.9 2655.0 443.3C2657.6 447.7 2665.0 455.0 2665.0 455.0C2665.0 455.0 2670.6 450.5 2673.3 451.7C2676.1 452.8 2680.8 461.9 2685.0 463.3C2689.2 464.7 2698.3 460.0 2698.3 460.0C2698.3 460.0 2695.9 454.4 2696.7 451.7C2697.5 449.0 2701.6 446.4 2703.3 443.3C2705.1 440.2 2713.6 423.2 2716.7 416.7C2719.7 410.1 2724.5 401.4 2725.0 396.7C2725.5 391.9 2720.0 383.3 2720.0 383.3C2720.0 383.3 2726.2 378.1 2730.0 376.7C2733.8 375.3 2746.7 373.3 2746.7 373.3C2746.7 373.3 2744.5 365.9 2746.7 363.3C2748.8 360.8 2760.5 355.1 2766.7 350.0C2772.8 344.9 2781.1 335.6 2786.7 330.0C2792.2 324.4 2798.2 318.0 2803.3 313.3C2808.4 308.6 2815.0 302.9 2819.3 300.0C2823.6 297.1 2832.8 298.5 2833.3 293.3C2833.9 288.2 2833.3 170.0 2833.3 170.0L2810.0 170.0C2810.0 170.0 2811.1 179.0 2810.0 183.3C2808.9 187.6 2805.0 192.0 2803.3 196.7C2801.7 201.4 2799.4 209.9 2798.3 216.7C2797.3 223.5 2794.8 244.7 2795.0 250.0C2795.2 255.3 2800.8 260.3 2800.0 265.0C2799.2 269.7 2790.0 278.3 2790.0 278.3L2780.0 271.7C2780.0 271.7 2773.8 279.8 2770.0 283.3C2766.2 286.8 2761.7 291.9 2756.7 293.3C2751.7 294.7 2745.6 291.2 2740.0 291.7C2734.4 292.2 2726.8 295.7 2720.0 296.7C2713.2 297.6 2693.3 298.3 2693.3 298.3L2700.0 286.7C2700.0 286.7 2693.5 289.4 2690.0 290.0C2686.5 290.6 2676.7 293.9 2671.7 291.7C2666.7 289.4 2664.2 281.4 2660.0 276.7C2655.8 272.0 2650.2 267.1 2646.7 263.3C2643.2 259.6 2641.1 252.8 2636.7 251.7C2632.2 250.6 2620.0 256.7 2620.0 256.7C2620.0 256.7 2624.9 250.2 2626.7 246.7C2628.5 243.1 2631.1 238.1 2631.7 233.3C2632.2 228.6 2629.7 222.2 2630.0 216.7C2630.3 211.1 2633.1 202.8 2633.3 200.0C2633.5 197.2 2631.7 191.7 2631.7 191.7L2628.3 208.3C2628.3 208.3 2617.5 207.8 2613.3 210.0C2609.2 212.2 2605.8 219.2 2603.3 221.7C2600.8 224.2 2595.0 228.3 2595.0 228.3C2595.0 228.3 2588.3 219.7 2583.3 218.3C2578.4 216.9 2565.4 217.4 2560.0 218.3C2554.6 219.3 2545.0 225.0 2545.0 225.0C2545.0 225.0 2552.7 215.7 2556.7 213.3C2560.6 211.0 2567.9 211.3 2570.0 210.0C2572.1 208.7 2570.9 203.9 2573.3 203.3C2575.7 202.7 2596.8 204.8 2603.3 201.7C2609.9 198.5 2613.3 187.5 2615.0 183.3C2616.7 179.2 2616.7 170.0 2616.7 170.0L316.7 170.0Z"/>
<path d="M235.0 163.3C235.0 163.3 232.3 174.7 235.0 179.3C237.7 183.9 247.9 190.5 253.3 195.0C258.8 199.5 266.9 206.1 270.0 208.3C273.1 210.6 277.5 213.5 280.0 214.0C282.5 214.5 287.3 211.7 287.3 211.7C287.3 211.7 286.3 203.9 286.0 200.0C285.7 196.1 285.1 184.7 285.0 179.3C284.9 174.0 285.0 163.3 285.0 163.3L235.0 163.3Z"/>
<path d="M158.3 1147.3C158.3 1147.3 161.9 1145.4 163.3 1146.0C164.7 1146.6 166.4 1149.2 166.7 1150.7C166.9 1152.2 165.0 1155.0 165.0 1155.0C165.0 1155.0 160.4 1154.6 159.3 1153.3C158.2 1152.1 158.3 1147.3 158.3 1147.3Z"/>
<path d="M213.3 1150.7C213.3 1150.7 219.8 1154.3 221.7 1156.7C223.6 1159.0 225.0 1165.0 225.0 1165.0C225.0 1165.0 218.9 1163.6 216.7 1161.7C214.4 1159.7 212.0 1154.3 211.7 1153.3C211.4 1152.3 213.3 1150.7 213.3 1150.7Z"/>
<path d="M206.0 1176.7C206.0 1176.7 208.8 1182.3 210.0 1185.0C211.2 1187.7 213.3 1193.3 213.3 1193.3L207.3 1193.3L202.7 1179.3L206.0 1176.7Z"/>
<path d="M130.0 1088.3C130.0 1088.3 134.6 1089.1 136.7 1090.0C138.8 1090.9 142.8 1093.8 145.0 1095.0C147.2 1096.2 151.7 1098.3 151.7 1098.3L150.0 1104.0C150.0 1104.0 143.9 1104.6 141.7 1103.3C139.4 1102.1 138.4 1098.9 136.7 1096.7C135.0 1094.5 130.0 1088.3 130.0 1088.3Z"/>
<path d="M156.0 1096.0C156.0 1096.0 162.1 1094.1 165.0 1095.0C167.9 1095.9 175.0 1101.7 175.0 1101.7C175.0 1101.7 174.6 1104.8 173.3 1105.0C172.1 1105.2 164.6 1105.5 161.7 1104.0C158.8 1102.5 156.0 1096.0 156.0 1096.0Z"/>
<path d="M146.7 1411.0C146.7 1411.0 150.9 1411.7 151.7 1413.3C152.4 1415.0 152.7 1420.9 152.3 1423.3C151.9 1425.8 149.8 1429.2 149.0 1430.0C148.2 1430.8 145.7 1430.0 145.7 1430.0C145.7 1430.0 143.2 1418.9 143.3 1416.7C143.4 1414.5 146.7 1411.0 146.7 1411.0Z"/>
<path d="M300.0 1506.7C300.0 1506.7 303.7 1508.3 304.0 1510.0C304.3 1511.7 303.9 1521.3 303.3 1523.3C302.8 1525.4 299.3 1528.3 299.3 1528.3L291.0 1521.7C291.0 1521.7 296.2 1517.5 297.7 1515.0C299.2 1512.5 300.0 1506.7 300.0 1506.7Z"/>
<path d="M407.3 1455.0C407.3 1455.0 411.7 1453.8 413.3 1455.0C414.9 1456.2 417.3 1460.4 418.3 1463.3C419.3 1466.3 417.9 1470.4 419.3 1472.7C420.7 1474.9 425.9 1474.0 426.7 1476.7C427.4 1479.4 425.0 1493.3 425.0 1493.3C425.0 1493.3 419.1 1486.9 416.7 1483.3C414.2 1479.8 411.5 1474.9 410.0 1471.7C408.5 1468.5 407.0 1463.9 406.7 1461.7C406.3 1459.5 407.3 1455.0 407.3 1455.0Z"/>
<path d="M464.0 1491.7C466.2 1490.1 473.3 1490.7 473.3 1490.7C473.3 1490.7 473.5 1504.2 472.7 1508.3C471.9 1512.5 467.7 1520.0 467.7 1520.0C467.7 1520.0 463.4 1518.2 461.7 1516.7C459.9 1515.2 456.3 1512.8 456.0 1510.0C455.7 1507.2 458.8 1502.8 460.0 1500.0C461.2 1497.2 461.8 1493.2 464.0 1491.7Z"/>
<path d="M468.3 1642.3C468.3 1642.3 471.1 1647.0 471.7 1649.7C472.2 1652.3 472.7 1663.0 472.7 1663.0L468.3 1663.7C468.3 1663.7 464.3 1656.6 464.3 1653.0C464.3 1649.4 468.3 1642.3 468.3 1642.3Z"/>
<path d="M490.0 1713.0C490.0 1713.0 491.9 1704.9 493.3 1703.0C494.8 1701.1 500.0 1700.3 500.0 1700.3C500.0 1700.3 499.6 1704.7 498.3 1706.3C497.0 1708.0 490.0 1713.0 490.0 1713.0Z"/>
<path d="M510.0 1768.0L515.0 1767.0L518.3 1781.3L513.3 1782.3C513.3 1782.3 509.5 1776.9 509.0 1774.7C508.5 1772.5 510.0 1768.0 510.0 1768.0Z"/>
<path d="M546.7 1823.0C546.7 1823.0 549.5 1822.7 550.0 1823.7C550.5 1824.7 553.3 1836.3 553.3 1836.3L548.3 1837.3L546.7 1823.0Z"/>
<path d="M430.0 1738.0C430.0 1738.0 425.4 1752.3 423.3 1756.3C421.3 1760.3 415.0 1767.0 415.0 1767.0C415.0 1767.0 419.8 1767.7 420.7 1769.7C421.5 1771.6 420.2 1781.7 423.3 1786.3C426.5 1791.0 443.3 1803.0 443.3 1803.0C443.3 1803.0 442.8 1799.3 441.7 1798.0C440.5 1796.7 429.4 1789.9 426.7 1784.7C423.9 1779.4 424.8 1769.8 425.0 1766.3C425.2 1762.8 427.7 1759.8 428.3 1756.3C428.9 1752.9 430.0 1738.0 430.0 1738.0Z"/>
<path d="M2100.0 1959.7C2100.0 1959.7 2109.8 1944.7 2115.0 1940.3C2120.2 1935.9 2127.0 1933.8 2133.3 1931.3C2139.7 1928.9 2153.1 1925.7 2160.0 1923.0C2166.9 1920.3 2174.6 1915.5 2180.0 1913.0C2185.4 1910.5 2190.8 1907.3 2196.7 1906.3C2202.6 1905.3 2224.4 1905.2 2230.0 1904.7C2235.6 1904.1 2243.9 1901.1 2246.7 1901.3C2249.4 1901.5 2250.6 1906.5 2253.3 1906.3C2256.1 1906.2 2265.6 1901.7 2270.0 1900.3C2274.4 1899.0 2279.5 1896.6 2283.3 1897.0C2287.2 1897.4 2289.6 1901.8 2293.3 1903.0C2297.0 1904.2 2302.2 1904.9 2306.7 1904.7C2311.1 1904.4 2315.4 1901.3 2320.0 1901.3C2324.6 1901.3 2331.3 1902.8 2336.7 1904.7C2342.0 1906.5 2348.0 1909.8 2353.3 1913.0C2358.7 1916.2 2366.1 1924.9 2373.3 1926.3C2380.6 1927.7 2388.9 1921.6 2396.7 1921.3C2404.4 1921.1 2412.9 1923.3 2420.0 1924.7C2427.1 1926.0 2436.9 1928.6 2441.0 1929.7C2445.1 1930.7 2449.3 1931.7 2453.3 1933.0C2457.4 1934.3 2463.4 1937.0 2466.7 1938.0C2469.9 1939.0 2474.0 1938.2 2476.7 1940.3C2479.3 1942.5 2493.3 1959.7 2493.3 1959.7L2100.0 1959.7Z"/>
<path d="M2333.3 1652.0C2333.3 1652.0 2344.4 1661.2 2350.0 1661.3C2355.6 1661.5 2361.0 1655.5 2366.7 1653.0C2372.3 1650.5 2393.3 1642.3 2395.0 1641.3C2396.7 1640.4 2396.0 1635.7 2396.0 1635.7C2396.0 1635.7 2373.9 1641.8 2370.0 1642.3C2366.1 1642.9 2360.1 1641.6 2358.3 1641.3C2356.6 1641.1 2353.3 1639.7 2353.3 1639.7L2354.0 1651.3C2354.0 1651.3 2346.8 1654.6 2343.3 1654.7C2339.9 1654.8 2333.3 1652.0 2333.3 1652.0Z"/>
<path d="M2390.0 1625.7C2390.0 1625.7 2406.8 1620.2 2413.3 1621.3C2419.9 1622.4 2425.3 1630.0 2430.0 1632.3C2434.7 1634.7 2441.8 1634.1 2445.0 1637.0C2448.2 1639.9 2449.4 1645.6 2449.3 1649.7C2449.2 1653.7 2444.8 1657.1 2444.3 1661.3C2443.9 1665.5 2446.0 1680.3 2446.0 1680.3L2432.7 1673.7C2432.7 1673.7 2438.2 1668.2 2438.7 1664.7C2439.2 1661.1 2437.9 1648.9 2436.7 1644.7C2435.4 1640.4 2432.5 1636.7 2429.3 1633.7C2426.1 1630.6 2421.5 1627.0 2416.7 1625.7C2411.8 1624.4 2403.3 1625.7 2400.0 1625.7C2396.7 1625.7 2390.0 1625.7 2390.0 1625.7Z"/>
<path d="M2398.3 1736.3C2398.3 1736.3 2406.7 1735.9 2410.0 1738.0C2413.3 1740.1 2416.4 1746.0 2420.0 1749.7C2423.6 1753.3 2430.8 1757.5 2433.3 1761.3C2435.9 1765.1 2437.8 1770.5 2436.7 1774.7C2435.6 1778.8 2428.5 1784.7 2426.7 1786.3C2424.8 1788.0 2422.2 1789.9 2420.0 1789.7C2417.8 1789.4 2415.8 1785.9 2413.3 1784.7C2410.8 1783.4 2402.5 1780.9 2400.0 1779.7C2397.5 1778.4 2393.3 1774.7 2393.3 1774.7L2403.3 1771.3C2403.3 1771.3 2400.0 1767.2 2400.0 1764.7C2400.0 1762.2 2403.6 1757.0 2403.3 1753.0C2403.1 1749.0 2398.3 1736.3 2398.3 1736.3Z"/>
<path d="M2424.0 1793.0C2424.0 1793.0 2436.0 1786.3 2440.0 1786.3C2444.0 1786.3 2447.5 1789.8 2450.0 1793.0C2452.5 1796.2 2457.5 1806.4 2458.3 1809.7C2459.2 1812.9 2458.9 1817.6 2456.7 1819.7C2454.4 1821.8 2445.0 1822.3 2445.0 1822.3C2445.0 1822.3 2442.1 1813.0 2440.0 1809.7C2437.9 1806.4 2434.3 1804.1 2431.7 1801.3C2429.1 1798.6 2424.0 1793.0 2424.0 1793.0Z"/>
<path d="M2437.3 1736.3C2437.3 1736.3 2445.7 1731.7 2448.3 1731.3C2451.0 1731.0 2456.0 1733.7 2456.0 1733.7C2456.0 1733.7 2449.8 1738.6 2446.7 1739.0C2443.6 1739.4 2437.3 1736.3 2437.3 1736.3Z"/>
<path d="M2476.7 1703.0L2478.3 1693.0C2478.3 1693.0 2483.5 1697.7 2486.7 1699.0C2489.8 1700.3 2498.1 1700.8 2503.3 1703.0C2508.6 1705.2 2516.8 1708.6 2520.0 1713.0C2523.2 1717.4 2522.1 1725.2 2522.7 1729.7C2523.3 1734.1 2524.0 1743.0 2524.0 1743.0L2511.7 1735.7L2518.3 1733.0C2518.3 1733.0 2519.4 1719.2 2516.7 1714.7C2513.9 1710.1 2507.1 1707.8 2501.7 1705.7C2496.3 1703.5 2485.6 1701.6 2483.3 1701.3C2481.1 1701.1 2476.7 1703.0 2476.7 1703.0Z"/>
<path d="M2546.7 1736.3L2551.7 1733.0C2551.7 1733.0 2561.9 1745.4 2566.7 1749.7C2571.5 1753.9 2582.7 1760.3 2582.7 1760.3L2569.3 1766.3L2575.0 1760.3C2575.0 1760.3 2565.8 1754.8 2561.7 1751.3C2557.6 1747.9 2548.9 1738.6 2548.3 1738.0C2547.8 1737.4 2546.7 1736.3 2546.7 1736.3Z"/>
<path d="M2626.0 1751.3L2631.7 1749.7C2631.7 1749.7 2633.6 1754.1 2633.3 1756.3C2633.1 1758.6 2630.0 1763.0 2630.0 1763.0L2626.7 1762.3L2626.0 1751.3Z"/>
<path d="M2546.7 1803.0C2546.7 1803.0 2554.5 1804.4 2558.3 1805.7C2562.1 1806.9 2571.7 1811.3 2571.7 1811.3C2571.7 1811.3 2566.1 1813.4 2563.3 1813.0C2560.5 1812.6 2549.8 1808.9 2548.3 1808.0C2546.8 1807.1 2546.7 1803.0 2546.7 1803.0Z"/>
<path d="M2586.7 1792.3C2586.7 1792.3 2596.2 1801.7 2600.0 1806.3C2603.8 1811.0 2606.4 1818.2 2610.0 1821.3C2613.6 1824.4 2620.1 1823.9 2623.3 1826.3C2626.5 1828.7 2630.0 1836.3 2630.0 1836.3C2630.0 1836.3 2621.3 1828.4 2616.7 1826.3C2612.0 1824.3 2601.7 1823.7 2601.7 1823.7C2601.7 1823.7 2605.9 1818.8 2605.0 1816.3C2604.1 1813.8 2595.6 1804.3 2593.3 1801.3C2591.1 1798.4 2586.7 1792.3 2586.7 1792.3Z"/>
<path d="M2659.3 1829.0C2659.3 1829.0 2666.3 1831.8 2670.0 1832.3C2673.7 1832.9 2678.9 1832.8 2681.7 1832.3C2684.4 1831.9 2689.3 1829.0 2689.3 1829.0C2689.3 1829.0 2694.4 1837.0 2694.0 1841.3C2693.6 1845.7 2689.9 1851.8 2686.7 1856.3C2683.4 1860.9 2673.3 1870.3 2673.3 1870.3C2673.3 1870.3 2677.7 1860.8 2680.0 1856.3C2682.3 1851.8 2687.3 1843.0 2687.3 1843.0C2687.3 1843.0 2683.2 1837.1 2680.0 1836.3C2676.8 1835.5 2666.1 1838.0 2663.3 1837.0C2660.5 1836.0 2659.3 1829.0 2659.3 1829.0Z"/>
<path d="M2734.3 1834.7C2734.3 1834.7 2745.6 1832.1 2750.0 1832.3C2754.4 1832.6 2762.7 1836.3 2762.7 1836.3C2762.7 1836.3 2757.7 1838.7 2755.0 1839.0C2752.3 1839.3 2735.0 1839.7 2735.0 1839.7L2734.3 1834.7Z"/>
<path d="M2726.7 1928.0C2727.3 1924.9 2730.1 1921.1 2733.3 1919.7C2736.6 1918.3 2745.0 1920.5 2750.0 1918.0C2755.0 1915.5 2763.3 1904.7 2763.3 1904.7C2763.3 1904.7 2766.6 1912.4 2766.0 1916.3C2765.4 1920.2 2763.5 1925.3 2760.0 1928.0C2756.5 1930.7 2743.4 1935.2 2740.0 1936.3C2736.6 1937.4 2729.3 1938.0 2729.3 1938.0C2729.3 1938.0 2726.0 1931.1 2726.7 1928.0Z"/>
<path d="M2756.0 1891.3C2756.0 1891.3 2759.9 1887.5 2761.7 1887.3C2763.4 1887.2 2766.7 1890.3 2766.7 1890.3L2760.0 1896.3L2756.0 1891.3Z"/>
<path d="M2792.7 1859.7C2792.7 1859.7 2797.7 1860.6 2800.0 1860.3C2802.3 1860.1 2806.7 1858.0 2806.7 1858.0C2806.7 1858.0 2803.6 1862.4 2801.7 1863.7C2799.7 1864.9 2795.0 1865.7 2795.0 1865.7L2792.7 1859.7Z"/>
<path d="M2810.0 1846.3L2819.3 1851.3C2819.3 1851.3 2820.1 1848.8 2819.3 1848.0C2818.5 1847.2 2811.7 1843.7 2811.7 1843.7L2810.0 1846.3Z"/>
<path d="M2671.7 236.7C2671.7 236.7 2674.5 250.0 2676.7 253.3C2678.8 256.7 2683.5 258.9 2686.7 260.0C2689.8 261.1 2693.3 260.3 2696.7 260.0C2700.0 259.7 2713.0 258.5 2720.0 256.7C2727.0 254.8 2733.3 251.1 2740.0 248.3C2746.7 245.5 2763.3 238.3 2763.3 238.3C2763.3 238.3 2754.7 245.8 2753.3 250.0C2751.9 254.2 2756.1 259.0 2755.0 263.3C2753.9 267.7 2750.3 274.2 2746.7 276.7C2743.1 279.2 2737.2 279.4 2733.3 278.3C2729.4 277.2 2723.3 270.0 2723.3 270.0C2723.3 270.0 2717.2 275.8 2713.3 276.7C2709.4 277.5 2703.2 276.6 2700.0 275.0C2696.8 273.4 2696.7 267.5 2693.3 266.7C2690.0 265.8 2684.4 270.3 2680.0 270.0C2675.6 269.7 2669.2 267.8 2666.7 265.0C2664.2 262.2 2664.7 257.2 2665.0 253.3C2665.3 249.4 2667.6 243.5 2668.3 241.7C2669.1 239.8 2671.7 236.7 2671.7 236.7Z"/>
<path d="M2386.0 733.9C2387.7 730.2 2392.2 727.4 2395.2 725.5C2398.2 723.7 2402.4 723.2 2405.2 722.2C2408.0 721.2 2410.8 720.0 2413.6 718.8C2416.4 717.7 2420.3 716.1 2423.6 714.7C2427.0 713.3 2430.4 712.0 2433.7 710.5C2437.0 709.0 2440.9 707.7 2443.7 705.5C2446.5 703.2 2450.4 697.1 2450.4 697.1C2450.4 697.1 2448.8 699.9 2447.9 701.3C2447.0 702.6 2444.8 705.0 2443.7 707.1C2442.6 709.3 2441.2 714.7 2441.2 714.7C2441.2 714.7 2446.4 712.1 2448.7 710.5C2451.1 708.9 2454.1 705.8 2457.1 703.8C2460.1 701.8 2468.8 697.1 2468.8 697.1C2468.8 697.1 2465.5 700.4 2463.8 702.1C2462.1 703.8 2457.0 709.2 2453.7 712.2C2450.5 715.1 2447.0 717.9 2443.7 720.5C2440.4 723.1 2437.0 725.5 2433.7 728.1C2430.3 730.6 2425.8 734.1 2423.6 735.6C2421.5 737.1 2419.3 738.6 2416.9 739.8C2414.6 740.9 2410.3 742.6 2406.9 743.9C2403.5 745.3 2397.4 747.4 2395.2 748.1C2393.0 748.8 2390.1 749.5 2388.5 749.8C2386.8 750.2 2383.5 750.6 2383.5 750.6C2383.5 750.6 2384.2 737.7 2386.0 733.9Z"/>
<path d="M2509.8 666.1C2509.8 666.1 2511.6 661.8 2513.2 660.3C2514.7 658.7 2517.4 657.3 2519.0 656.9C2520.7 656.6 2524.0 657.8 2524.0 657.8C2524.0 657.8 2522.0 660.8 2520.7 662.0C2519.4 663.2 2515.9 665.5 2514.8 666.1C2513.8 666.8 2511.5 667.8 2511.5 667.8L2509.8 666.1Z"/>
<path d="M2537.4 661.1C2537.4 661.1 2543.3 656.2 2544.1 655.3C2544.9 654.3 2545.8 651.9 2545.8 651.9L2550.8 657.8C2550.8 657.8 2549.7 661.2 2548.3 662.0C2546.8 662.7 2542.0 662.9 2540.8 662.8C2539.5 662.7 2537.4 661.1 2537.4 661.1Z"/>
<path d="M2610.7 408.3L2615.0 406.7C2615.0 406.7 2617.0 415.0 2616.7 416.7C2616.4 418.4 2612.7 420.0 2612.7 420.0L2610.7 408.3Z"/>
<path d="M2743.3 181.7C2743.3 181.7 2748.4 181.7 2750.0 183.3C2751.6 185.0 2753.3 191.7 2753.3 191.7L2746.7 195.0C2746.7 195.0 2744.5 190.5 2744.0 188.3C2743.5 186.2 2743.3 181.7 2743.3 181.7Z"/>
</g>
<g fill="#97b6e1" stroke="none">
<path d="M1540.0 508.2C1540.0 508.2 1555.5 487.6 1560.0 482.5C1564.5 477.4 1570.4 473.7 1575.0 468.8C1579.6 463.8 1584.3 454.5 1590.0 450.0C1595.7 445.5 1603.9 444.5 1610.0 441.2C1616.1 438.0 1625.8 431.2 1627.5 430.0C1629.2 428.8 1630.7 427.4 1632.5 426.2C1634.3 425.1 1644.4 422.1 1647.5 417.5C1650.6 412.9 1649.0 402.7 1651.2 398.8C1653.5 394.8 1658.6 393.1 1662.5 391.2C1666.4 389.4 1672.3 390.8 1675.0 387.5C1677.7 384.2 1677.1 375.1 1678.8 371.2C1680.4 367.4 1683.4 363.1 1686.2 361.2C1689.1 359.4 1692.9 359.4 1696.2 360.0C1699.6 360.6 1704.0 363.6 1706.2 365.0C1708.5 366.4 1709.9 369.7 1712.5 370.0C1715.1 370.3 1722.5 368.2 1727.5 367.5C1732.5 366.8 1743.3 365.2 1747.5 365.0C1751.7 364.8 1756.7 364.2 1760.0 366.2C1763.3 368.3 1765.4 373.5 1767.5 377.5C1769.6 381.5 1770.6 385.9 1772.5 390.0C1774.4 394.1 1777.4 400.5 1780.0 403.8C1782.6 407.0 1786.9 409.8 1790.0 411.2C1793.1 412.7 1796.7 413.0 1800.0 413.0C1803.3 413.0 1806.7 412.0 1810.0 411.2C1813.3 410.5 1817.7 408.0 1821.2 408.0C1824.8 408.0 1831.2 411.2 1831.2 411.2C1831.2 411.2 1828.2 419.6 1827.5 422.5C1826.8 425.4 1824.6 428.8 1826.2 431.2C1827.9 433.7 1834.3 435.3 1837.5 437.5C1840.7 439.7 1846.2 445.0 1846.2 445.0C1846.2 445.0 1842.0 455.1 1841.2 457.5C1840.5 459.9 1840.0 465.0 1840.0 465.0C1840.0 465.0 1846.7 466.7 1850.0 467.5C1853.3 468.3 1860.0 470.0 1860.0 470.0C1860.0 470.0 1857.6 477.3 1856.2 480.0C1854.9 482.7 1851.2 487.5 1851.2 487.5C1851.2 487.5 1857.1 489.8 1860.0 490.0C1862.9 490.2 1868.8 488.8 1868.8 488.8L1870.0 500.0C1870.0 500.0 1863.3 500.5 1860.0 500.0C1856.7 499.5 1851.3 496.6 1847.5 496.2C1843.7 495.9 1836.2 497.5 1836.2 497.5C1836.2 497.5 1836.5 492.0 1835.0 490.0C1833.5 488.0 1828.8 482.9 1825.0 482.5C1821.2 482.1 1816.9 486.6 1812.5 487.5C1808.1 488.4 1799.5 487.6 1795.0 488.8C1790.5 489.9 1786.1 492.8 1782.5 495.0C1778.9 497.2 1775.6 500.8 1772.5 502.5C1769.4 504.2 1766.0 505.8 1762.5 506.2C1759.0 506.7 1748.4 506.6 1745.0 506.2C1741.6 505.9 1737.8 505.7 1735.0 503.8C1732.2 501.8 1728.0 495.3 1725.0 492.5C1722.0 489.7 1719.0 486.2 1715.0 485.0C1711.0 483.8 1703.4 483.9 1700.0 485.0C1696.6 486.1 1692.5 492.5 1692.5 492.5C1692.5 492.5 1688.1 482.5 1688.8 478.8C1689.4 475.0 1693.5 472.7 1696.2 470.0C1699.0 467.3 1704.9 462.4 1707.5 460.0C1710.1 457.6 1715.0 452.5 1715.0 452.5C1715.0 452.5 1706.6 450.4 1702.5 451.2C1698.4 452.1 1693.7 454.7 1690.0 457.5C1686.3 460.3 1681.6 466.1 1677.5 470.0C1673.4 473.9 1668.3 478.3 1665.0 481.2C1661.7 484.2 1658.8 487.7 1655.0 490.0C1651.2 492.3 1646.5 493.0 1642.5 495.0C1638.5 497.0 1629.9 502.3 1625.0 505.0C1620.1 507.7 1614.2 511.7 1610.0 512.5C1605.8 513.3 1600.5 513.0 1597.5 510.0C1594.5 507.0 1590.0 492.5 1590.0 492.5C1590.0 492.5 1579.8 494.4 1575.0 496.2C1570.2 498.1 1565.3 501.9 1560.0 503.8C1554.7 505.6 1540.0 508.2 1540.0 508.2Z"/>
<path d="M1847.5 535.0C1847.5 535.0 1839.6 528.1 1835.0 526.2C1830.4 524.4 1823.9 523.2 1820.0 523.8C1816.1 524.3 1813.6 528.4 1810.0 530.0C1806.4 531.6 1801.4 531.8 1797.5 533.8C1793.6 535.7 1787.6 540.5 1785.0 542.5C1782.4 544.5 1779.6 546.2 1777.5 548.8C1775.4 551.2 1772.5 557.5 1772.5 557.5L1760.0 547.5C1760.0 547.5 1756.5 550.7 1755.0 552.5C1753.5 554.3 1751.2 557.3 1750.0 560.0C1748.8 562.7 1746.2 572.3 1745.0 575.0C1743.8 577.7 1741.5 579.9 1740.0 582.5C1738.5 585.1 1734.5 593.7 1732.5 597.5C1730.5 601.3 1727.9 605.1 1726.2 608.8C1724.6 612.4 1722.7 617.0 1722.5 620.0C1722.3 623.0 1725.0 628.8 1725.0 628.8C1725.0 628.8 1730.3 621.4 1732.5 617.5C1734.7 613.6 1737.1 607.0 1740.0 602.5C1742.9 598.0 1747.4 593.3 1750.0 590.0C1752.6 586.7 1755.5 582.6 1757.5 580.0C1759.5 577.4 1763.8 572.5 1763.8 572.5C1763.8 572.5 1761.7 582.6 1760.0 587.5C1758.3 592.4 1754.2 600.9 1752.5 605.0C1750.8 609.1 1748.6 613.1 1747.5 617.5C1746.4 621.9 1745.6 629.2 1745.0 635.0C1744.4 640.8 1744.7 646.7 1743.8 652.5C1742.8 658.3 1739.9 665.7 1738.8 672.5C1737.6 679.3 1737.2 688.9 1736.2 695.0C1735.3 701.1 1732.6 710.5 1732.5 713.0C1732.4 715.5 1734.3 717.6 1735.0 720.0C1735.7 722.4 1738.6 731.2 1740.0 736.7C1741.4 742.2 1742.3 747.8 1743.3 753.3C1744.3 758.9 1744.4 764.6 1746.0 770.0C1747.6 775.4 1750.6 781.9 1753.3 786.7C1756.1 791.5 1760.6 797.8 1763.3 800.0C1766.0 802.2 1770.0 803.2 1773.3 802.7C1776.7 802.1 1780.2 798.9 1783.3 796.7C1786.5 794.4 1790.7 791.7 1793.3 788.3C1796.0 784.9 1799.4 778.6 1801.7 773.3C1803.9 768.1 1805.3 762.3 1806.7 756.7C1808.0 751.0 1810.2 742.2 1810.7 736.7C1811.2 731.1 1810.6 723.5 1810.0 720.0C1809.4 716.5 1807.8 713.2 1806.2 710.0C1804.7 706.8 1801.8 703.2 1800.0 700.0C1798.2 696.8 1796.4 693.3 1795.0 690.0C1793.6 686.7 1791.5 683.3 1791.2 680.0C1791.0 676.7 1793.9 673.4 1793.8 670.0C1793.6 666.6 1790.2 661.7 1790.0 657.5C1789.8 653.3 1791.8 649.2 1792.5 645.0C1793.2 640.8 1794.2 632.5 1795.0 627.5C1795.8 622.5 1796.3 616.8 1797.5 612.5C1798.7 608.2 1800.6 603.0 1802.5 600.0C1804.4 597.0 1807.5 595.0 1810.0 592.5C1812.5 590.0 1817.0 584.7 1820.0 582.5C1823.0 580.3 1827.7 579.4 1830.0 577.5C1832.3 575.6 1832.8 572.0 1835.0 570.0C1837.2 568.0 1843.8 565.0 1843.8 565.0C1843.8 565.0 1840.2 558.6 1840.0 555.0C1839.8 551.4 1841.4 545.3 1842.5 542.5C1843.6 539.7 1847.5 535.0 1847.5 535.0Z"/>
<path d="M1847.5 535.0C1847.5 535.0 1856.0 536.1 1860.0 537.5C1864.0 538.9 1868.4 541.5 1872.5 543.8C1876.6 546.0 1881.0 549.5 1885.0 551.2C1889.0 553.0 1893.4 553.6 1897.5 555.0C1901.6 556.4 1906.9 557.5 1910.0 560.0C1913.1 562.5 1915.1 566.9 1916.2 570.0C1917.4 573.1 1916.6 576.8 1917.5 580.0C1918.4 583.2 1921.3 588.4 1922.5 592.5C1923.7 596.6 1924.8 601.6 1925.0 605.0C1925.2 608.4 1925.0 612.1 1923.8 615.0C1922.5 617.9 1918.8 619.6 1917.5 622.5C1916.2 625.4 1917.5 629.6 1916.2 632.5C1915.0 635.4 1911.8 637.3 1910.0 640.0C1908.2 642.7 1904.5 648.4 1903.8 651.2C1903.0 654.1 1903.5 657.9 1905.0 660.0C1906.5 662.1 1912.5 663.8 1912.5 663.8C1912.5 663.8 1917.8 659.0 1920.0 656.2C1922.2 653.5 1925.1 648.4 1927.5 645.0C1929.9 641.6 1931.9 637.3 1935.0 635.0C1938.1 632.7 1942.9 631.0 1946.2 631.2C1949.6 631.5 1952.8 633.7 1955.0 636.2C1957.2 638.8 1958.4 643.7 1960.0 647.5C1961.6 651.3 1963.6 655.9 1965.0 660.0C1966.4 664.1 1967.1 668.5 1968.8 672.5C1970.4 676.5 1973.1 682.0 1975.0 683.8C1976.9 685.5 1980.2 686.0 1982.5 685.0C1984.8 684.0 1991.8 678.6 1995.0 675.0C1998.2 671.4 2001.0 667.1 2002.5 662.5C2004.0 657.9 2004.2 652.5 2003.8 647.5C2003.3 642.5 2001.0 637.6 2000.0 632.5C1999.0 627.4 1997.5 619.2 1997.5 615.0C1997.5 610.8 1998.4 606.4 2000.0 602.5C2001.6 598.6 2005.9 593.9 2007.5 590.0C2009.1 586.1 2010.0 581.7 2010.0 577.5C2010.0 573.3 2009.1 568.2 2007.5 565.0C2005.9 561.8 2002.9 559.6 2000.0 557.5C1997.1 555.4 1990.0 552.5 1990.0 552.5C1990.0 552.5 1993.2 550.5 1995.0 550.0C1996.8 549.5 2003.8 548.8 2003.8 548.8C2003.8 548.8 2006.1 556.6 2007.5 560.0C2008.9 563.4 2010.0 567.7 2012.5 570.0C2015.0 572.3 2019.9 572.6 2022.5 573.8C2025.1 574.9 2027.4 576.5 2030.0 577.5C2032.6 578.5 2038.4 580.2 2042.5 581.2C2046.6 582.3 2052.0 583.8 2055.0 583.8C2058.0 583.8 2062.1 583.1 2063.8 581.2C2065.4 579.4 2065.6 575.2 2065.0 572.5C2064.4 569.8 2060.0 565.0 2060.0 565.0C2060.0 565.0 2068.1 563.3 2070.0 562.5C2071.9 561.7 2075.0 558.8 2075.0 558.8C2075.0 558.8 2071.5 556.4 2070.0 555.0C2068.5 553.6 2064.8 550.2 2062.5 547.5C2060.2 544.8 2056.7 539.9 2055.0 537.5C2053.3 535.1 2052.3 531.9 2050.0 530.0C2047.7 528.1 2042.7 526.8 2040.0 525.0C2037.3 523.2 2035.0 520.9 2032.5 518.8C2030.0 516.6 2024.2 511.6 2022.5 510.0C2020.8 508.4 2019.7 505.9 2017.5 505.0C2015.3 504.1 2010.9 503.9 2007.5 503.8C2004.1 503.6 1998.5 504.3 1995.0 503.8C1991.5 503.2 1988.5 500.4 1985.0 500.0C1981.5 499.6 1976.7 501.2 1972.5 501.2C1968.3 501.2 1964.2 500.2 1960.0 500.0C1955.8 499.8 1950.0 499.6 1945.0 500.0C1940.0 500.4 1935.0 501.9 1930.0 502.5C1925.0 503.1 1920.0 503.5 1915.0 503.8C1910.0 504.0 1904.2 503.9 1900.0 503.8C1895.8 503.6 1890.9 503.1 1887.5 502.5C1884.1 501.9 1880.0 500.4 1877.5 500.0C1875.0 499.6 1870.0 500.0 1870.0 500.0C1870.0 500.0 1871.7 509.2 1870.0 512.5C1868.3 515.8 1862.9 517.1 1860.0 520.0C1857.1 522.9 1847.5 535.0 1847.5 535.0Z"/>
<path d="M1973.3 715.0C1975.6 714.7 1980.0 716.4 1981.7 718.3C1983.3 720.3 1984.4 724.3 1983.3 726.7C1982.2 729.1 1977.6 732.1 1975.0 732.7C1972.4 733.2 1967.3 730.0 1967.3 730.0C1967.3 730.0 1967.5 722.2 1968.3 720.0C1969.2 717.8 1971.1 715.3 1973.3 715.0Z"/>
<path d="M1953.3 755.0C1955.6 752.5 1960.0 751.9 1963.3 751.7C1966.7 751.4 1970.1 754.2 1973.3 753.3C1976.6 752.5 1980.0 748.9 1983.3 746.7C1986.6 744.4 1995.0 739.4 2000.0 735.0C2005.0 730.6 2009.4 724.4 2013.3 720.0C2017.2 715.6 2020.6 709.9 2025.0 706.7C2029.4 703.4 2034.7 701.1 2040.0 700.0C2045.3 698.9 2051.8 701.1 2056.7 700.0C2061.5 698.9 2065.6 695.6 2070.0 693.3C2074.4 691.1 2078.9 688.9 2083.3 686.7C2087.8 684.4 2092.3 681.9 2096.7 680.0C2101.0 678.1 2105.6 676.4 2110.0 675.0C2114.4 673.6 2119.5 672.2 2123.3 671.7C2127.2 671.2 2135.0 671.7 2135.0 671.7C2135.0 671.7 2135.3 672.9 2135.0 673.3C2134.7 673.8 2129.3 679.9 2126.7 683.3C2124.0 686.7 2120.3 692.5 2116.7 696.7C2113.0 700.8 2108.0 705.8 2103.3 710.0C2098.6 714.2 2092.2 718.9 2086.7 723.3C2081.1 727.8 2076.0 732.8 2070.0 736.7C2064.0 740.5 2056.0 742.8 2050.0 746.7C2044.0 750.5 2037.7 756.6 2033.3 760.0C2028.9 763.4 2024.6 766.9 2020.0 770.0C2015.4 773.1 2007.6 777.9 2003.3 780.0C1999.1 782.1 1994.6 784.0 1990.0 785.0C1985.4 786.0 1976.8 786.9 1973.3 786.7C1969.8 786.4 1966.7 784.4 1963.3 783.3C1960.0 782.3 1953.9 782.8 1951.7 780.0C1949.4 777.2 1949.7 770.7 1950.0 766.7C1950.3 762.6 1951.1 757.5 1953.3 755.0Z"/>
<path d="M2120.0 648.8C2116.7 650.5 2113.6 652.8 2110.0 653.8C2106.4 654.7 2100.1 655.5 2097.5 655.0C2094.9 654.5 2092.1 652.5 2091.2 650.0C2090.4 647.5 2091.6 643.2 2092.5 640.0C2093.4 636.8 2094.9 631.2 2097.5 627.5C2100.1 623.8 2105.5 618.1 2110.0 615.0C2114.5 611.9 2119.9 610.7 2125.0 608.8C2130.1 606.8 2136.9 605.1 2142.5 602.5C2148.1 599.9 2154.5 596.0 2160.0 592.5C2165.5 589.0 2170.2 584.3 2176.0 581.2C2181.8 578.2 2195.3 573.9 2200.0 571.7C2204.7 569.4 2209.1 565.5 2213.3 563.3C2217.6 561.2 2224.0 559.2 2226.7 558.3C2229.4 557.5 2235.0 556.7 2235.0 556.7C2235.0 556.7 2239.6 563.0 2240.0 566.7C2240.4 570.4 2239.2 589.9 2239.3 593.3C2239.5 596.8 2243.2 600.3 2241.7 603.3C2240.1 606.4 2233.4 609.0 2230.0 611.7C2226.6 614.3 2223.5 617.5 2220.0 620.0C2216.5 622.5 2211.7 627.0 2206.7 628.3C2201.6 629.6 2183.1 630.3 2176.0 631.2C2168.9 632.2 2161.7 633.6 2155.0 635.0C2148.3 636.4 2140.4 637.9 2135.0 640.0C2129.6 642.1 2123.3 647.0 2120.0 648.8Z"/>
<path d="M1220.0 180.7L1233.3 180.7C1233.3 180.7 1233.9 189.3 1235.0 193.3C1236.1 197.4 1240.0 205.0 1240.0 205.0L1250.0 200.0L1258.3 208.3L1265.0 205.0C1265.0 205.0 1270.8 208.6 1271.7 211.7C1272.5 214.7 1269.2 219.5 1270.0 223.3C1270.8 227.2 1276.4 231.1 1276.7 235.0C1276.9 238.9 1271.7 246.7 1271.7 246.7C1271.7 246.7 1277.4 250.9 1280.0 253.3C1282.6 255.7 1288.6 260.5 1291.7 265.0C1294.8 269.5 1298.7 278.3 1299.3 281.7C1300.0 285.1 1299.0 289.1 1296.7 291.7C1294.4 294.2 1288.1 297.4 1285.0 297.7C1281.9 297.9 1278.0 296.2 1276.7 293.3C1275.3 290.5 1276.2 282.1 1275.0 276.7C1273.8 271.2 1270.5 261.9 1268.3 256.7C1266.2 251.5 1261.4 245.6 1260.7 241.7C1259.9 237.7 1264.0 233.9 1263.3 230.0C1262.7 226.1 1259.2 219.4 1256.7 216.7C1254.2 213.9 1248.7 211.9 1246.7 211.7C1244.7 211.4 1243.7 215.2 1241.7 215.0C1239.7 214.8 1235.7 212.2 1233.3 210.0C1230.9 207.8 1226.8 203.0 1225.0 200.0C1223.2 197.0 1222.5 193.1 1221.7 190.0C1220.9 186.9 1220.0 180.7 1220.0 180.7Z"/>
<path d="M1298.3 170.0L1340.0 170.0C1340.0 170.0 1343.9 189.8 1345.0 193.3C1346.1 196.9 1348.5 199.9 1350.0 203.3C1351.5 206.7 1354.2 214.5 1356.7 220.0C1359.1 225.5 1364.2 231.1 1365.0 236.7C1365.8 242.2 1361.9 247.7 1361.7 253.3C1361.4 259.0 1363.3 273.3 1363.3 273.3L1353.3 273.3L1351.7 285.0L1343.3 286.7C1343.3 286.7 1339.8 280.2 1339.3 276.7C1338.9 273.1 1339.4 264.5 1340.0 260.0C1340.6 255.5 1343.6 250.8 1343.3 246.7C1343.1 242.5 1338.3 238.9 1338.3 235.0C1338.3 231.1 1343.6 226.9 1343.3 223.3C1343.1 219.7 1336.7 213.3 1336.7 213.3L1328.3 221.7C1328.3 221.7 1326.4 213.5 1326.7 210.0C1326.9 206.5 1330.7 203.4 1330.0 200.0C1329.3 196.6 1321.7 186.7 1321.7 186.7C1321.7 186.7 1319.1 192.0 1316.7 193.3C1314.2 194.7 1309.4 196.1 1306.7 195.0C1303.9 193.9 1301.1 190.0 1300.0 186.7C1298.9 183.3 1298.3 170.0 1298.3 170.0Z"/>
<path d="M1430.0 313.3C1430.0 313.3 1431.4 320.4 1433.3 323.3C1435.2 326.3 1440.0 328.7 1441.7 331.7C1443.3 334.6 1442.0 339.6 1443.3 341.7C1444.7 343.8 1448.4 343.1 1450.0 345.0C1451.6 346.9 1453.3 350.6 1453.3 353.3C1453.3 356.1 1451.9 360.0 1450.0 361.7C1448.1 363.3 1443.9 361.7 1441.7 363.3C1439.4 365.0 1438.5 369.6 1436.7 371.7C1434.8 373.8 1430.0 376.7 1430.0 376.7C1430.0 376.7 1424.7 367.6 1423.3 363.3C1422.0 359.1 1421.1 354.4 1421.7 350.0C1422.2 345.6 1425.6 341.0 1426.7 336.7C1427.8 332.3 1427.9 326.7 1428.3 323.3C1428.8 320.0 1430.0 313.3 1430.0 313.3Z"/>
<path d="M1473.3 235.0L1485.0 232.3C1485.0 232.3 1489.3 237.4 1489.0 240.0C1488.7 242.6 1483.3 247.7 1483.3 247.7C1483.3 247.7 1478.3 245.4 1476.7 243.3C1475.0 241.3 1473.3 235.0 1473.3 235.0Z"/>
<path d="M1545.0 238.3C1545.0 238.3 1551.7 238.2 1553.3 239.3C1555.0 240.4 1555.0 245.0 1555.0 245.0C1555.0 245.0 1563.0 244.8 1566.7 243.3C1570.3 241.9 1582.9 233.9 1585.0 233.3C1587.1 232.8 1590.0 237.3 1590.0 237.3C1590.0 237.3 1581.7 244.5 1576.7 246.7C1571.7 248.8 1556.7 251.7 1556.7 251.7C1556.7 251.7 1555.3 245.6 1553.3 243.3C1551.4 241.1 1545.0 238.3 1545.0 238.3Z"/>
<path d="M1473.3 380.0L1483.3 377.7C1483.3 377.7 1484.0 384.8 1486.7 386.7C1489.3 388.5 1503.3 391.7 1503.3 391.7C1503.3 391.7 1494.4 396.1 1490.0 395.0C1485.6 393.9 1478.2 386.3 1476.7 385.0C1475.2 383.7 1473.3 380.0 1473.3 380.0Z"/>
<path d="M1588.3 370.0L1605.0 373.3L1601.7 380.0C1601.7 380.0 1593.7 378.2 1591.7 376.7C1589.7 375.2 1588.3 370.0 1588.3 370.0Z"/>
<path d="M1656.7 288.3C1659.7 284.4 1669.8 283.1 1673.3 283.3C1676.9 283.6 1680.6 287.2 1681.7 290.0C1682.8 292.8 1680.0 300.0 1680.0 300.0L1688.3 301.7C1688.3 301.7 1687.6 326.6 1686.7 330.0C1685.7 333.4 1681.7 336.2 1678.3 336.7C1675.0 337.1 1670.7 333.5 1666.7 332.7C1662.6 331.9 1653.3 331.7 1653.3 331.7L1656.0 320.0L1649.3 316.7C1649.3 316.7 1654.0 310.4 1655.0 306.7C1656.0 303.0 1653.6 292.2 1656.7 288.3Z"/>
<path d="M2009.3 323.3L2016.7 317.7C2016.7 317.7 2020.0 325.4 2023.3 326.7C2026.7 327.9 2033.2 324.7 2036.7 325.0C2040.2 325.3 2044.4 325.8 2046.7 328.3C2048.9 330.8 2050.0 340.0 2050.0 340.0C2050.0 340.0 2046.3 334.3 2043.3 333.3C2040.4 332.3 2033.4 333.1 2030.0 333.3C2026.6 333.6 2022.8 335.8 2020.0 335.0C2017.2 334.2 2014.8 329.9 2013.3 328.3C2011.9 326.8 2009.3 323.3 2009.3 323.3Z"/>
<path d="M2201.7 303.3C2201.7 303.3 2207.2 293.3 2210.0 290.0C2212.8 286.7 2216.9 283.7 2220.0 281.7C2223.1 279.6 2230.0 276.7 2230.0 276.7C2230.0 276.7 2230.5 284.0 2232.7 286.7C2234.8 289.4 2240.2 291.8 2243.3 293.3C2246.5 294.9 2253.3 296.7 2253.3 296.7C2253.3 296.7 2244.4 297.5 2240.0 298.3C2235.6 299.2 2230.6 299.4 2226.7 301.7C2222.8 303.9 2216.7 311.7 2216.7 311.7L2211.7 300.0L2205.0 306.7L2201.7 303.3Z"/>
<path d="M2318.3 256.7C2318.3 256.7 2322.4 253.0 2325.0 252.7C2327.6 252.3 2334.2 252.8 2336.7 254.0C2339.2 255.2 2341.4 258.4 2341.7 260.7C2341.9 262.9 2340.4 266.0 2338.3 267.3C2336.3 268.7 2331.4 269.7 2328.3 269.3C2325.3 268.9 2321.7 267.1 2320.0 265.0C2318.3 262.9 2318.3 256.7 2318.3 256.7Z"/>
<path d="M2028.3 479.3C2028.3 479.3 2035.9 474.8 2040.0 473.3C2044.1 471.9 2052.6 469.4 2056.7 469.3C2060.7 469.2 2068.3 472.7 2068.3 472.7C2068.3 472.7 2066.9 477.3 2065.0 478.3C2063.1 479.4 2051.9 482.5 2050.0 482.7C2048.1 482.8 2046.9 480.3 2045.0 480.0C2043.1 479.7 2028.3 479.3 2028.3 479.3Z"/>
<path d="M2091.0 566.0L2102.7 578.3C2102.7 578.3 2096.8 584.5 2095.0 586.7C2093.2 588.8 2090.0 593.3 2090.0 593.3C2090.0 593.3 2084.8 585.9 2085.0 581.7C2085.2 577.4 2091.0 566.0 2091.0 566.0Z"/>
<path d="M2166.7 363.3C2166.7 363.3 2168.3 372.5 2170.0 376.7C2171.7 380.8 2174.4 385.4 2176.7 388.3C2179.0 391.3 2185.0 396.0 2185.0 396.0C2185.0 396.0 2176.7 398.2 2173.3 396.7C2170.0 395.1 2167.2 390.4 2165.0 386.7C2162.8 382.9 2159.1 377.2 2159.3 373.3C2159.6 369.4 2166.7 363.3 2166.7 363.3Z"/>
<path d="M2138.3 374.0L2153.3 378.3C2153.3 378.3 2148.1 381.9 2146.7 383.3C2145.3 384.7 2143.3 388.3 2143.3 388.3L2138.3 374.0Z"/>
<path d="M2207.3 396.0L2214.0 410.0L2201.7 411.7L2207.3 396.0Z"/>
<path d="M2077.3 382.7L2086.0 381.7L2083.3 388.3C2083.3 388.3 2080.3 388.3 2079.3 387.3C2078.3 386.4 2077.3 382.7 2077.3 382.7Z"/>
<path d="M1865.0 381.0L1881.7 368.3C1881.7 368.3 1879.2 374.7 1876.7 376.7C1874.1 378.6 1865.0 381.0 1865.0 381.0Z"/>
<path d="M2356.7 200.0C2356.7 200.0 2357.2 189.9 2360.0 186.7C2362.8 183.4 2369.0 181.5 2373.3 180.7C2377.7 179.8 2382.4 180.3 2386.7 181.7C2390.9 183.1 2401.7 190.0 2401.7 190.0C2401.7 190.0 2393.5 185.3 2390.0 185.0C2386.5 184.7 2383.3 187.2 2380.0 188.3C2376.7 189.5 2370.2 191.5 2366.7 193.3C2363.1 195.1 2356.7 200.0 2356.7 200.0Z"/>
<path d="M2615.0 323.3C2615.4 321.8 2619.3 321.7 2619.3 321.7C2619.3 321.7 2618.8 331.4 2618.3 333.3C2617.8 335.3 2615.0 338.3 2615.0 338.3C2615.0 338.3 2614.6 324.8 2615.0 323.3Z"/>
<path d="M2465.0 163.3C2465.0 163.3 2466.7 175.0 2465.0 180.0C2463.3 185.0 2457.6 189.1 2455.0 193.3C2452.4 197.5 2450.4 202.2 2448.3 206.7C2446.2 211.2 2443.3 216.8 2441.7 221.7C2440.0 226.5 2440.0 231.8 2438.3 236.7C2436.7 241.5 2431.0 254.4 2430.0 256.7C2429.0 258.9 2426.8 260.9 2426.7 263.3C2426.5 265.8 2429.1 277.4 2428.3 283.3C2427.5 289.3 2424.1 294.5 2421.7 300.0C2419.2 305.5 2415.4 311.8 2413.3 316.7C2411.3 321.5 2410.6 326.9 2408.3 331.7C2406.1 336.4 2400.0 345.0 2400.0 345.0C2400.0 345.0 2405.0 344.9 2406.7 343.3C2408.4 341.8 2416.9 331.8 2420.0 326.7C2423.1 321.5 2424.4 315.5 2426.7 310.0C2428.9 304.5 2432.8 296.5 2435.0 290.0C2437.2 283.5 2438.2 275.7 2440.0 270.0C2441.8 264.3 2444.0 258.7 2446.7 253.3C2449.3 248.0 2453.5 241.7 2456.7 236.7C2459.9 231.6 2463.0 226.4 2466.7 221.7C2470.4 216.9 2475.7 211.2 2480.0 206.7C2484.3 202.1 2488.8 197.6 2493.3 193.3C2497.9 189.0 2505.8 185.0 2508.3 180.0C2510.8 175.0 2508.3 163.3 2508.3 163.3L2465.0 163.3Z"/>
</g>
<g fill="#efefdb" stroke="none">
<path d="M1896.2 518.8C1896.2 518.8 1905.4 517.3 1910.0 517.5C1914.6 517.7 1920.0 519.8 1925.0 520.0C1930.0 520.2 1936.4 519.7 1940.0 518.8C1943.6 517.8 1946.4 514.7 1950.0 513.8C1953.6 512.8 1958.9 513.5 1962.5 512.5C1966.1 511.5 1969.2 507.1 1972.5 507.5C1975.8 507.9 1981.2 512.1 1982.5 515.0C1983.8 517.9 1980.0 521.6 1980.0 525.0C1980.0 528.4 1982.5 536.2 1982.5 536.2C1982.5 536.2 1974.1 533.3 1970.0 532.5C1965.9 531.7 1961.6 532.0 1957.5 531.2C1953.4 530.5 1947.4 528.3 1942.5 527.5C1937.6 526.7 1931.9 527.2 1927.5 526.2C1923.1 525.3 1918.4 521.6 1915.0 521.2C1911.6 520.9 1908.1 524.2 1905.0 523.8C1901.9 523.3 1896.2 518.8 1896.2 518.8Z"/>
<path d="M1655.0 427.5C1655.0 427.5 1661.3 420.4 1665.0 417.5C1668.7 414.6 1677.5 410.0 1677.5 410.0L1680.0 413.8C1680.0 413.8 1673.5 420.9 1670.0 423.8C1666.5 426.6 1658.8 431.2 1658.8 431.2L1655.0 427.5Z"/>
</g>
<g shape-rendering="crispEdges" stroke="none" transform="matrix(1 -0.0006 8e-05 1 0 0)">
<path fill="#a7d0e4" d="M227.5 208.4H261.6V226.0H227.5ZM227.5 225.4H261.6V243.0H227.5ZM227.5 242.4H261.6V260.0H227.5ZM227.5 259.4H261.6V277.0H227.5ZM227.5 276.4H278.6V294.0H227.5ZM602.4 276.4H653.6V294.0H602.4ZM227.5 293.4H278.6V311.0H227.5ZM602.4 293.4H738.8V311.0H602.4ZM2460.2 293.4H2528.3V311.0H2460.2ZM210.4 310.4H295.6V328.0H210.4ZM585.4 310.4H806.9V328.0H585.4ZM2443.1 310.4H2528.3V328.0H2443.1ZM210.4 327.4H278.6V345.0H210.4ZM585.4 327.4H824.0V345.0H585.4ZM858.1 327.4H909.2V345.0H858.1ZM2443.1 327.4H2545.4V345.0H2443.1ZM210.4 344.4H261.6V362.0H210.4ZM568.3 344.4H824.0V362.0H568.3ZM858.1 344.4H1028.5V362.0H858.1ZM2443.1 344.4H2545.4V362.0H2443.1ZM210.4 361.4H261.6V379.0H210.4ZM568.3 361.4H1062.6V379.0H568.3ZM1164.9 361.4H1284.2V379.0H1164.9ZM1403.5 361.4H1420.5V379.0H1403.5ZM2443.1 361.4H2562.4V379.0H2443.1ZM585.4 378.4H841.0V395.9H585.4ZM875.1 378.4H1045.6V395.9H875.1ZM1164.9 378.4H1437.5V395.9H1164.9ZM2443.1 378.4H2579.5V395.9H2443.1ZM602.4 395.3H977.4V412.9H602.4ZM1011.5 395.3H1045.6V412.9H1011.5ZM1164.9 395.3H1522.8V412.9H1164.9ZM2443.1 395.3H2596.5V412.9H2443.1ZM602.4 412.3H875.1V429.9H602.4ZM926.2 412.3H943.3V429.9H926.2ZM1011.5 412.3H1045.6V429.9H1011.5ZM1164.9 412.3H1556.9V429.9H1164.9ZM1573.9 412.3H1625.0V429.9H1573.9ZM2443.1 412.3H2596.5V429.9H2443.1ZM585.4 429.3H858.1V446.9H585.4ZM926.2 429.3H943.3V446.9H926.2ZM1011.5 429.3H1079.6V446.9H1011.5ZM1164.9 429.3H1625.0V446.9H1164.9ZM2426.1 429.3H2579.5V446.9H2426.1ZM585.4 446.3H960.3V463.9H585.4ZM1011.5 446.3H1079.6V463.9H1011.5ZM1164.9 446.3H1590.9V463.9H1164.9ZM1693.2 446.3H1710.2V463.9H1693.2ZM2409.0 446.3H2562.4V463.9H2409.0ZM551.3 463.3H977.4V480.9H551.3ZM994.4 463.3H1573.9V480.9H994.4ZM1676.2 463.3H1693.2V480.9H1676.2ZM2374.9 463.3H2528.3V480.9H2374.9ZM551.3 480.3H1556.9V497.9H551.3ZM1659.1 480.3H1710.2V497.9H1659.1ZM2323.8 480.3H2528.3V497.9H2323.8ZM329.7 497.3H346.8V514.9H329.7ZM363.8 497.3H432.0V514.9H363.8ZM551.3 497.3H1590.9V514.9H551.3ZM1625.0 497.3H1744.3V514.9H1625.0ZM1761.4 497.3H1795.5V514.9H1761.4ZM2272.7 497.3H2511.3V514.9H2272.7ZM295.6 514.3H449.0V531.9H295.6ZM568.3 514.3H1795.5V531.9H568.3ZM1846.6 514.3H1863.6V531.9H1846.6ZM2255.6 514.3H2494.2V531.9H2255.6ZM278.6 531.3H500.2V548.9H278.6ZM568.3 531.3H1795.5V548.9H568.3ZM1846.6 531.3H1863.6V548.9H1846.6ZM2238.6 531.3H2494.2V548.9H2238.6ZM244.5 548.3H517.2V565.8H244.5ZM551.3 548.3H1761.4V565.8H551.3ZM1846.6 548.3H1897.7V565.8H1846.6ZM2238.6 548.3H2494.2V565.8H2238.6ZM244.5 565.2H534.2V582.8H244.5ZM551.3 565.2H1744.3V582.8H551.3ZM1829.5 565.2H1914.8V582.8H1829.5ZM2238.6 565.2H2477.2V582.8H2238.6ZM261.6 582.2H534.2V599.8H261.6ZM568.3 582.2H1761.4V599.8H568.3ZM1812.5 582.2H1914.8V599.8H1812.5ZM2238.6 582.2H2494.2V599.8H2238.6ZM261.6 599.2H1727.3V616.8H261.6ZM1795.5 599.2H1931.8V616.8H1795.5ZM2238.6 599.2H2494.2V616.8H2238.6ZM261.6 616.2H1608.0V633.8H261.6ZM1642.1 616.2H1693.2V633.8H1642.1ZM1795.5 616.2H1914.8V633.8H1795.5ZM2221.5 616.2H2511.3V633.8H2221.5ZM278.6 633.2H1590.9V650.8H278.6ZM1795.5 633.2H1914.8V650.8H1795.5ZM1931.8 633.2H1948.9V650.8H1931.8ZM2136.3 633.2H2528.3V650.8H2136.3ZM278.6 650.2H295.6V667.8H278.6ZM312.7 650.2H329.7V667.8H312.7ZM346.8 650.2H380.9V667.8H346.8ZM432.0 650.2H1573.9V667.8H432.0ZM1795.5 650.2H1965.9V667.8H1795.5ZM2119.3 650.2H2494.2V667.8H2119.3ZM176.3 667.2H210.4V684.8H176.3ZM432.0 667.2H1573.9V684.8H432.0ZM1795.5 667.2H1965.9V684.8H1795.5ZM2119.3 667.2H2477.2V684.8H2119.3ZM159.3 684.2H210.4V701.8H159.3ZM414.9 684.2H1573.9V701.8H414.9ZM1795.5 684.2H1863.6V701.8H1795.5ZM1914.8 684.2H1982.9V701.8H1914.8ZM2119.3 684.2H2443.1V701.8H2119.3ZM159.3 701.2H193.4V718.8H159.3ZM432.0 701.2H1573.9V718.8H432.0ZM1812.5 701.2H1863.6V718.8H1812.5ZM1897.7 701.2H1982.9V718.8H1897.7ZM2102.2 701.2H2443.1V718.8H2102.2ZM432.0 718.2H1573.9V735.8H432.0ZM1863.6 718.2H1965.9V735.8H1863.6ZM2085.2 718.2H2443.1V735.8H2085.2ZM432.0 735.2H1573.9V752.7H432.0ZM1863.6 735.2H1965.9V752.7H1863.6ZM2051.1 735.2H2085.2V752.7H2051.1ZM2102.2 735.2H2409.0V752.7H2102.2ZM159.3 752.1H176.3V769.7H159.3ZM432.0 752.1H1573.9V769.7H432.0ZM1625.0 752.1H1693.2V769.7H1625.0ZM1846.6 752.1H1948.9V769.7H1846.6ZM2034.1 752.1H2392.0V769.7H2034.1ZM74.1 769.1H91.1V786.7H74.1ZM108.2 769.1H176.3V786.7H108.2ZM432.0 769.1H1590.9V786.7H432.0ZM1625.0 769.1H1676.2V786.7H1625.0ZM1880.7 769.1H1931.8V786.7H1880.7ZM2017.0 769.1H2392.0V786.7H2017.0ZM91.1 786.1H210.4V803.7H91.1ZM227.5 786.1H244.5V803.7H227.5ZM295.6 786.1H363.8V803.7H295.6ZM380.9 786.1H1608.0V803.7H380.9ZM1625.0 786.1H1676.2V803.7H1625.0ZM1880.7 786.1H1914.8V803.7H1880.7ZM2000.0 786.1H2392.0V803.7H2000.0ZM91.1 803.1H244.5V820.7H91.1ZM295.6 803.1H1573.9V820.7H295.6ZM2017.0 803.1H2392.0V820.7H2017.0ZM91.1 820.1H261.6V837.7H91.1ZM295.6 820.1H1420.5V837.7H295.6ZM2034.1 820.1H2392.0V837.7H2034.1ZM108.2 837.1H1386.4V854.7H108.2ZM2034.1 837.1H2374.9V854.7H2034.1ZM91.1 854.1H636.5V871.7H91.1ZM653.6 854.1H1369.4V871.7H653.6ZM2000.0 854.1H2374.9V871.7H2000.0ZM91.1 871.1H159.3V888.7H91.1ZM176.3 871.1H636.5V888.7H176.3ZM653.6 871.1H1335.3V888.7H653.6ZM2000.0 871.1H2374.9V888.7H2000.0ZM108.2 888.1H159.3V905.7H108.2ZM176.3 888.1H1318.2V905.7H176.3ZM1931.8 888.1H2374.9V905.7H1931.8ZM108.2 905.1H125.2V922.6H108.2ZM142.3 905.1H159.3V922.6H142.3ZM176.3 905.1H636.5V922.6H176.3ZM670.6 905.1H1318.2V922.6H670.6ZM1897.7 905.1H2374.9V922.6H1897.7ZM108.2 922.0H159.3V939.6H108.2ZM176.3 922.0H636.5V939.6H176.3ZM721.7 922.0H1318.2V939.6H721.7ZM1897.7 922.0H2136.3V939.6H1897.7ZM2204.5 922.0H2357.9V939.6H2204.5ZM108.2 939.0H619.5V956.6H108.2ZM738.8 939.0H1318.2V956.6H738.8ZM1880.7 939.0H2136.3V956.6H1880.7ZM2204.5 939.0H2357.9V956.6H2204.5ZM108.2 956.0H602.4V973.6H108.2ZM704.7 956.0H1301.2V973.6H704.7ZM1880.7 956.0H2153.4V973.6H1880.7ZM2170.4 956.0H2357.9V973.6H2170.4ZM125.2 973.0H602.4V990.6H125.2ZM704.7 973.0H1301.2V990.6H704.7ZM1863.6 973.0H2357.9V990.6H1863.6ZM125.2 990.0H602.4V1007.6H125.2ZM670.6 990.0H1267.1V1007.6H670.6ZM1812.5 990.0H2357.9V1007.6H1812.5ZM125.2 1007.0H602.4V1024.6H125.2ZM653.6 1007.0H875.1V1024.6H653.6ZM892.2 1007.0H1250.1V1024.6H892.2ZM1795.5 1007.0H2357.9V1024.6H1795.5ZM142.3 1024.0H619.5V1041.6H142.3ZM653.6 1024.0H738.8V1041.6H653.6ZM755.8 1024.0H858.1V1041.6H755.8ZM909.2 1024.0H1045.6V1041.6H909.2ZM1164.9 1024.0H1233.0V1041.6H1164.9ZM1812.5 1024.0H2374.9V1041.6H1812.5ZM142.3 1041.0H721.7V1058.6H142.3ZM943.3 1041.0H1045.6V1058.6H943.3ZM1795.5 1041.0H2374.9V1058.6H1795.5ZM142.3 1058.0H295.6V1075.6H142.3ZM312.7 1058.0H636.5V1075.6H312.7ZM670.6 1058.0H721.7V1075.6H670.6ZM977.4 1058.0H1045.6V1075.6H977.4ZM1795.5 1058.0H2392.0V1075.6H1795.5ZM176.3 1075.0H261.6V1092.6H176.3ZM278.6 1075.0H295.6V1092.6H278.6ZM329.7 1075.0H670.6V1092.6H329.7ZM738.8 1075.0H755.8V1092.6H738.8ZM1778.4 1075.0H2289.7V1092.6H1778.4ZM193.4 1092.0H295.6V1109.5H193.4ZM329.7 1092.0H653.6V1109.5H329.7ZM704.7 1092.0H772.9V1109.5H704.7ZM892.2 1092.0H909.2V1109.5H892.2ZM1744.3 1092.0H2272.7V1109.5H1744.3ZM210.4 1108.9H636.5V1126.5H210.4ZM704.7 1108.9H772.9V1126.5H704.7ZM858.1 1108.9H926.2V1126.5H858.1ZM1727.3 1108.9H2255.6V1126.5H1727.3ZM227.5 1125.9H636.5V1143.5H227.5ZM704.7 1125.9H943.3V1143.5H704.7ZM1710.2 1125.9H2238.6V1143.5H1710.2ZM244.5 1142.9H653.6V1160.5H244.5ZM721.7 1142.9H943.3V1160.5H721.7ZM1693.2 1142.9H2221.5V1160.5H1693.2ZM261.6 1159.9H653.6V1177.5H261.6ZM704.7 1159.9H943.3V1177.5H704.7ZM1454.6 1159.9H1522.8V1177.5H1454.6ZM1693.2 1159.9H2221.5V1177.5H1693.2ZM261.6 1176.9H943.3V1194.5H261.6ZM1420.5 1176.9H1539.8V1194.5H1420.5ZM1676.2 1176.9H2204.5V1194.5H1676.2ZM261.6 1193.9H449.0V1211.5H261.6ZM466.1 1193.9H943.3V1211.5H466.1ZM1045.6 1193.9H1096.7V1211.5H1045.6ZM1318.2 1193.9H1539.8V1211.5H1318.2ZM1676.2 1193.9H2187.5V1211.5H1676.2ZM261.6 1210.9H926.2V1228.5H261.6ZM1011.5 1210.9H1096.7V1228.5H1011.5ZM1267.1 1210.9H1539.8V1228.5H1267.1ZM1676.2 1210.9H2187.5V1228.5H1676.2ZM295.6 1227.9H909.2V1245.5H295.6ZM1011.5 1227.9H1096.7V1245.5H1011.5ZM1250.1 1227.9H1471.6V1245.5H1250.1ZM1488.7 1227.9H1505.7V1245.5H1488.7ZM1676.2 1227.9H1914.8V1245.5H1676.2ZM1931.8 1227.9H2170.4V1245.5H1931.8ZM380.9 1244.9H943.3V1262.5H380.9ZM1011.5 1244.9H1079.6V1262.5H1011.5ZM1250.1 1244.9H1369.4V1262.5H1250.1ZM1386.4 1244.9H1437.5V1262.5H1386.4ZM1659.1 1244.9H1897.7V1262.5H1659.1ZM1931.8 1244.9H2153.4V1262.5H1931.8ZM397.9 1261.9H670.6V1279.4H397.9ZM704.7 1261.9H1062.6V1279.4H704.7ZM1267.1 1261.9H1335.3V1279.4H1267.1ZM1590.9 1261.9H1880.7V1279.4H1590.9ZM1931.8 1261.9H2136.3V1279.4H1931.8ZM414.9 1278.8H653.6V1296.4H414.9ZM670.6 1278.8H687.6V1296.4H670.6ZM704.7 1278.8H1045.6V1296.4H704.7ZM1267.1 1278.8H1318.2V1296.4H1267.1ZM1590.9 1278.8H1846.6V1296.4H1590.9ZM1863.6 1278.8H1880.7V1296.4H1863.6ZM1914.8 1278.8H2119.3V1296.4H1914.8ZM449.0 1295.8H619.5V1313.4H449.0ZM738.8 1295.8H1045.6V1313.4H738.8ZM1267.1 1295.8H1318.2V1313.4H1267.1ZM1573.9 1295.8H1812.5V1313.4H1573.9ZM1880.7 1295.8H2102.2V1313.4H1880.7ZM483.1 1312.8H619.5V1330.4H483.1ZM738.8 1312.8H1028.5V1330.4H738.8ZM1573.9 1312.8H1812.5V1330.4H1573.9ZM1880.7 1312.8H2102.2V1330.4H1880.7ZM500.2 1329.8H619.5V1347.4H500.2ZM738.8 1329.8H1045.6V1347.4H738.8ZM1573.9 1329.8H1812.5V1347.4H1573.9ZM1863.6 1329.8H2085.2V1347.4H1863.6ZM534.2 1346.8H602.4V1364.4H534.2ZM738.8 1346.8H1045.6V1364.4H738.8ZM1556.9 1346.8H1829.5V1364.4H1556.9ZM1863.6 1346.8H2068.2V1364.4H1863.6ZM551.3 1363.8H602.4V1381.4H551.3ZM738.8 1363.8H1045.6V1381.4H738.8ZM1556.9 1363.8H1829.5V1381.4H1556.9ZM1846.6 1363.8H2051.1V1381.4H1846.6ZM789.9 1380.8H1062.6V1398.4H789.9ZM1556.9 1380.8H2034.1V1398.4H1556.9ZM824.0 1397.8H1079.6V1415.4H824.0ZM1522.8 1397.8H1727.3V1415.4H1522.8ZM1761.4 1397.8H2017.0V1415.4H1761.4ZM841.0 1414.8H1079.6V1432.4H841.0ZM1522.8 1414.8H1727.3V1432.4H1522.8ZM1795.5 1414.8H2000.0V1432.4H1795.5ZM858.1 1431.8H1062.6V1449.4H858.1ZM1505.7 1431.8H1693.2V1449.4H1505.7ZM1812.5 1431.8H1982.9V1449.4H1812.5ZM875.1 1448.8H1062.6V1466.3H875.1ZM1505.7 1448.8H1659.1V1466.3H1505.7ZM1812.5 1448.8H1982.9V1466.3H1812.5ZM875.1 1465.7H1028.5V1483.3H875.1ZM1505.7 1465.7H1693.2V1483.3H1505.7ZM1812.5 1465.7H1982.9V1483.3H1812.5ZM892.2 1482.7H977.4V1500.3H892.2ZM1369.4 1482.7H1403.5V1500.3H1369.4ZM1488.7 1482.7H1795.5V1500.3H1488.7ZM1812.5 1482.7H1846.6V1500.3H1812.5ZM1897.7 1482.7H1965.9V1500.3H1897.7ZM892.2 1499.7H960.3V1517.3H892.2ZM1352.3 1499.7H1420.5V1517.3H1352.3ZM1471.6 1499.7H1727.3V1517.3H1471.6ZM1931.8 1499.7H1948.9V1517.3H1931.8ZM892.2 1516.7H960.3V1534.3H892.2ZM1352.3 1516.7H1403.5V1534.3H1352.3ZM1437.5 1516.7H1727.3V1534.3H1437.5ZM909.2 1533.7H960.3V1551.3H909.2ZM1369.4 1533.7H1727.3V1551.3H1369.4ZM926.2 1550.7H977.4V1568.3H926.2ZM1335.3 1550.7H1369.4V1568.3H1335.3ZM1437.5 1550.7H1488.7V1568.3H1437.5ZM1522.8 1550.7H1573.9V1568.3H1522.8ZM1608.0 1550.7H1727.3V1568.3H1608.0ZM943.3 1567.7H977.4V1585.3H943.3ZM1437.5 1567.7H1454.6V1585.3H1437.5ZM1625.0 1567.7H1693.2V1585.3H1625.0ZM1710.2 1567.7H1744.3V1585.3H1710.2Z"/>
<path fill="#559ec9" d="M312.7 191.5H363.8V209.0H312.7ZM329.7 208.4H414.9V226.0H329.7ZM261.6 225.4H295.6V243.0H261.6ZM312.7 225.4H466.1V243.0H312.7ZM261.6 242.4H517.2V260.0H261.6ZM261.6 259.4H568.3V277.0H261.6ZM278.6 276.4H602.4V294.0H278.6ZM278.6 293.4H602.4V311.0H278.6ZM295.6 310.4H585.4V328.0H295.6ZM278.6 327.4H585.4V345.0H278.6ZM261.6 344.4H568.3V362.0H261.6ZM261.6 361.4H568.3V379.0H261.6ZM193.4 378.4H585.4V395.9H193.4ZM193.4 395.3H602.4V412.9H193.4ZM176.3 412.3H602.4V429.9H176.3ZM176.3 429.3H585.4V446.9H176.3ZM159.3 446.3H585.4V463.9H159.3ZM159.3 463.3H551.3V480.9H159.3ZM142.3 480.3H551.3V497.9H142.3ZM125.2 497.3H329.7V514.9H125.2ZM346.8 497.3H363.8V514.9H346.8ZM432.0 497.3H551.3V514.9H432.0ZM125.2 514.3H295.6V531.9H125.2ZM449.0 514.3H568.3V531.9H449.0ZM125.2 531.3H278.6V548.9H125.2ZM500.2 531.3H568.3V548.9H500.2ZM108.2 548.3H244.5V565.8H108.2ZM517.2 548.3H551.3V565.8H517.2ZM108.2 565.2H244.5V582.8H108.2ZM534.2 565.2H551.3V582.8H534.2ZM108.2 582.2H261.6V599.8H108.2ZM534.2 582.2H568.3V599.8H534.2ZM108.2 599.2H261.6V616.8H108.2ZM91.1 616.2H261.6V633.8H91.1ZM1608.0 616.2H1642.1V633.8H1608.0ZM1693.2 616.2H1744.3V633.8H1693.2ZM91.1 633.2H278.6V650.8H91.1ZM1590.9 633.2H1744.3V650.8H1590.9ZM74.1 650.2H278.6V667.8H74.1ZM295.6 650.2H312.7V667.8H295.6ZM329.7 650.2H346.8V667.8H329.7ZM380.9 650.2H432.0V667.8H380.9ZM1573.9 650.2H1744.3V667.8H1573.9ZM74.1 667.2H176.3V684.8H74.1ZM210.4 667.2H432.0V684.8H210.4ZM1573.9 667.2H1744.3V684.8H1573.9ZM91.1 684.2H159.3V701.8H91.1ZM210.4 684.2H414.9V701.8H210.4ZM1573.9 684.2H1744.3V701.8H1573.9ZM1863.6 684.2H1914.8V701.8H1863.6ZM91.1 701.2H159.3V718.8H91.1ZM193.4 701.2H432.0V718.8H193.4ZM1573.9 701.2H1727.3V718.8H1573.9ZM1863.6 701.2H1897.7V718.8H1863.6ZM74.1 718.2H432.0V735.8H74.1ZM1573.9 718.2H1744.3V735.8H1573.9ZM1812.5 718.2H1863.6V735.8H1812.5ZM74.1 735.2H432.0V752.7H74.1ZM1573.9 735.2H1744.3V752.7H1573.9ZM1812.5 735.2H1863.6V752.7H1812.5ZM2085.2 735.2H2102.2V752.7H2085.2ZM74.1 752.1H159.3V769.7H74.1ZM176.3 752.1H432.0V769.7H176.3ZM1573.9 752.1H1625.0V769.7H1573.9ZM1693.2 752.1H1744.3V769.7H1693.2ZM1812.5 752.1H1846.6V769.7H1812.5ZM91.1 769.1H108.2V786.7H91.1ZM176.3 769.1H432.0V786.7H176.3ZM1590.9 769.1H1625.0V786.7H1590.9ZM1676.2 769.1H1744.3V786.7H1676.2ZM1795.5 769.1H1880.7V786.7H1795.5ZM1931.8 769.1H1948.9V786.7H1931.8ZM210.4 786.1H227.5V803.7H210.4ZM244.5 786.1H295.6V803.7H244.5ZM363.8 786.1H380.9V803.7H363.8ZM1608.0 786.1H1625.0V803.7H1608.0ZM1676.2 786.1H1761.4V803.7H1676.2ZM1778.4 786.1H1880.7V803.7H1778.4ZM1914.8 786.1H2000.0V803.7H1914.8ZM244.5 803.1H295.6V820.7H244.5ZM1573.9 803.1H2017.0V820.7H1573.9ZM261.6 820.1H295.6V837.7H261.6ZM1420.5 820.1H2034.1V837.7H1420.5ZM1386.4 837.1H2034.1V854.7H1386.4ZM636.5 854.1H653.6V871.7H636.5ZM1369.4 854.1H2000.0V871.7H1369.4ZM159.3 871.1H176.3V888.7H159.3ZM636.5 871.1H653.6V888.7H636.5ZM1335.3 871.1H2000.0V888.7H1335.3ZM159.3 888.1H176.3V905.7H159.3ZM1318.2 888.1H1931.8V905.7H1318.2ZM125.2 905.1H142.3V922.6H125.2ZM159.3 905.1H176.3V922.6H159.3ZM636.5 905.1H670.6V922.6H636.5ZM1318.2 905.1H1897.7V922.6H1318.2ZM159.3 922.0H176.3V939.6H159.3ZM636.5 922.0H721.7V939.6H636.5ZM1318.2 922.0H1897.7V939.6H1318.2ZM619.5 939.0H738.8V956.6H619.5ZM1318.2 939.0H1880.7V956.6H1318.2ZM602.4 956.0H704.7V973.6H602.4ZM1301.2 956.0H1880.7V973.6H1301.2ZM602.4 973.0H704.7V990.6H602.4ZM1301.2 973.0H1863.6V990.6H1301.2ZM602.4 990.0H670.6V1007.6H602.4ZM1267.1 990.0H1812.5V1007.6H1267.1ZM602.4 1007.0H653.6V1024.6H602.4ZM875.1 1007.0H892.2V1024.6H875.1ZM1250.1 1007.0H1795.5V1024.6H1250.1ZM619.5 1024.0H653.6V1041.6H619.5ZM738.8 1024.0H755.8V1041.6H738.8ZM858.1 1024.0H909.2V1041.6H858.1ZM1045.6 1024.0H1164.9V1041.6H1045.6ZM1233.0 1024.0H1812.5V1041.6H1233.0ZM721.7 1041.0H943.3V1058.6H721.7ZM1045.6 1041.0H1795.5V1058.6H1045.6ZM295.6 1058.0H312.7V1075.6H295.6ZM636.5 1058.0H670.6V1075.6H636.5ZM721.7 1058.0H977.4V1075.6H721.7ZM1045.6 1058.0H1795.5V1075.6H1045.6ZM261.6 1075.0H278.6V1092.6H261.6ZM295.6 1075.0H329.7V1092.6H295.6ZM670.6 1075.0H738.8V1092.6H670.6ZM755.8 1075.0H1403.5V1092.6H755.8ZM1437.5 1075.0H1778.4V1092.6H1437.5ZM295.6 1092.0H329.7V1109.5H295.6ZM653.6 1092.0H704.7V1109.5H653.6ZM772.9 1092.0H892.2V1109.5H772.9ZM909.2 1092.0H1403.5V1109.5H909.2ZM1454.6 1092.0H1744.3V1109.5H1454.6ZM636.5 1108.9H704.7V1126.5H636.5ZM772.9 1108.9H858.1V1126.5H772.9ZM926.2 1108.9H1727.3V1126.5H926.2ZM636.5 1125.9H704.7V1143.5H636.5ZM943.3 1125.9H1710.2V1143.5H943.3ZM653.6 1142.9H721.7V1160.5H653.6ZM943.3 1142.9H1693.2V1160.5H943.3ZM653.6 1159.9H704.7V1177.5H653.6ZM943.3 1159.9H1454.6V1177.5H943.3ZM1522.8 1159.9H1693.2V1177.5H1522.8ZM943.3 1176.9H1420.5V1194.5H943.3ZM1539.8 1176.9H1676.2V1194.5H1539.8ZM449.0 1193.9H466.1V1211.5H449.0ZM943.3 1193.9H1045.6V1211.5H943.3ZM1096.7 1193.9H1318.2V1211.5H1096.7ZM1539.8 1193.9H1676.2V1211.5H1539.8ZM926.2 1210.9H1011.5V1228.5H926.2ZM1096.7 1210.9H1267.1V1228.5H1096.7ZM1539.8 1210.9H1676.2V1228.5H1539.8ZM909.2 1227.9H1011.5V1245.5H909.2ZM1096.7 1227.9H1250.1V1245.5H1096.7ZM1471.6 1227.9H1488.7V1245.5H1471.6ZM1505.7 1227.9H1676.2V1245.5H1505.7ZM943.3 1244.9H1011.5V1262.5H943.3ZM1079.6 1244.9H1250.1V1262.5H1079.6ZM1369.4 1244.9H1386.4V1262.5H1369.4ZM1437.5 1244.9H1659.1V1262.5H1437.5ZM1062.6 1261.9H1267.1V1279.4H1062.6ZM1335.3 1261.9H1590.9V1279.4H1335.3ZM1045.6 1278.8H1267.1V1296.4H1045.6ZM1318.2 1278.8H1590.9V1296.4H1318.2ZM1045.6 1295.8H1267.1V1313.4H1045.6ZM1318.2 1295.8H1573.9V1313.4H1318.2ZM1028.5 1312.8H1573.9V1330.4H1028.5ZM1045.6 1329.8H1573.9V1347.4H1045.6ZM1045.6 1346.8H1556.9V1364.4H1045.6ZM1045.6 1363.8H1556.9V1381.4H1045.6ZM1062.6 1380.8H1556.9V1398.4H1062.6ZM1079.6 1397.8H1522.8V1415.4H1079.6ZM1079.6 1414.8H1522.8V1432.4H1079.6ZM1062.6 1431.8H1505.7V1449.4H1062.6ZM1062.6 1448.8H1505.7V1466.3H1062.6ZM1028.5 1465.7H1505.7V1483.3H1028.5ZM977.4 1482.7H1369.4V1500.3H977.4ZM1403.5 1482.7H1488.7V1500.3H1403.5ZM960.3 1499.7H1352.3V1517.3H960.3ZM1420.5 1499.7H1471.6V1517.3H1420.5ZM960.3 1516.7H1352.3V1534.3H960.3ZM1403.5 1516.7H1437.5V1534.3H1403.5ZM960.3 1533.7H1011.5V1551.3H960.3ZM1045.6 1533.7H1369.4V1551.3H1045.6ZM977.4 1550.7H994.4V1568.3H977.4ZM1079.6 1550.7H1335.3V1568.3H1079.6ZM1369.4 1550.7H1437.5V1568.3H1369.4ZM1096.7 1567.7H1437.5V1585.3H1096.7ZM1113.7 1584.7H1420.5V1602.3H1113.7ZM1113.7 1601.7H1147.8V1619.3H1113.7ZM1181.9 1601.7H1403.5V1619.3H1181.9ZM1198.9 1618.7H1369.4V1636.2H1198.9ZM1181.9 1635.6H1352.3V1653.2H1181.9ZM1198.9 1652.6H1216.0V1670.2H1198.9ZM1250.1 1652.6H1335.3V1670.2H1250.1ZM1164.9 1669.6H1216.0V1687.2H1164.9ZM1250.1 1669.6H1301.2V1687.2H1250.1ZM1164.9 1686.6H1198.9V1704.2H1164.9ZM1284.2 1686.6H1301.2V1704.2H1284.2ZM1164.9 1703.6H1198.9V1721.2H1164.9ZM1164.9 1720.6H1198.9V1738.2H1164.9ZM1267.1 1720.6H1284.2V1738.2H1267.1ZM1181.9 1737.6H1198.9V1755.2H1181.9ZM1250.1 1737.6H1301.2V1755.2H1250.1ZM1181.9 1754.6H1198.9V1772.2H1181.9ZM1233.0 1754.6H1301.2V1772.2H1233.0ZM1250.1 1771.6H1301.2V1789.2H1250.1ZM1267.1 1788.6H1301.2V1806.2H1267.1Z"/>
<path fill="#e2edf3" d="M824.0 327.4H858.1V345.0H824.0ZM824.0 344.4H858.1V362.0H824.0ZM1062.6 361.4H1164.9V379.0H1062.6ZM841.0 378.4H875.1V395.9H841.0ZM1045.6 378.4H1164.9V395.9H1045.6ZM977.4 395.3H1011.5V412.9H977.4ZM1045.6 395.3H1164.9V412.9H1045.6ZM875.1 412.3H926.2V429.9H875.1ZM943.3 412.3H1011.5V429.9H943.3ZM1045.6 412.3H1164.9V429.9H1045.6ZM858.1 429.3H926.2V446.9H858.1ZM943.3 429.3H1011.5V446.9H943.3ZM1079.6 429.3H1164.9V446.9H1079.6ZM960.3 446.3H1011.5V463.9H960.3ZM1079.6 446.3H1164.9V463.9H1079.6ZM977.4 463.3H994.4V480.9H977.4ZM1812.5 480.3H1829.5V497.9H1812.5ZM1795.5 497.3H1863.6V514.9H1795.5ZM1795.5 514.3H1846.6V531.9H1795.5ZM2136.3 922.0H2204.5V939.6H2136.3ZM2136.3 939.0H2204.5V956.6H2136.3ZM2153.4 956.0H2170.4V973.6H2153.4ZM125.2 1041.0H142.3V1058.6H125.2ZM2289.7 1075.0H2392.0V1092.6H2289.7ZM2272.7 1092.0H2374.9V1109.5H2272.7ZM2255.6 1108.9H2374.9V1126.5H2255.6ZM2238.6 1125.9H2357.9V1143.5H2238.6ZM2221.5 1142.9H2323.8V1160.5H2221.5ZM2221.5 1159.9H2306.8V1177.5H2221.5ZM2204.5 1176.9H2289.7V1194.5H2204.5ZM2187.5 1193.9H2289.7V1211.5H2187.5ZM2187.5 1210.9H2255.6V1228.5H2187.5ZM1914.8 1227.9H1931.8V1245.5H1914.8ZM2170.4 1227.9H2238.6V1245.5H2170.4ZM1897.7 1244.9H1931.8V1262.5H1897.7ZM2153.4 1244.9H2238.6V1262.5H2153.4ZM670.6 1261.9H704.7V1279.4H670.6ZM1880.7 1261.9H1931.8V1279.4H1880.7ZM2136.3 1261.9H2221.5V1279.4H2136.3ZM653.6 1278.8H670.6V1296.4H653.6ZM687.6 1278.8H704.7V1296.4H687.6ZM1846.6 1278.8H1863.6V1296.4H1846.6ZM1880.7 1278.8H1914.8V1296.4H1880.7ZM2119.3 1278.8H2221.5V1296.4H2119.3ZM619.5 1295.8H738.8V1313.4H619.5ZM1812.5 1295.8H1880.7V1313.4H1812.5ZM2102.2 1295.8H2187.5V1313.4H2102.2ZM619.5 1312.8H738.8V1330.4H619.5ZM1812.5 1312.8H1880.7V1330.4H1812.5ZM2102.2 1312.8H2170.4V1330.4H2102.2ZM619.5 1329.8H738.8V1347.4H619.5ZM1812.5 1329.8H1863.6V1347.4H1812.5ZM2085.2 1329.8H2170.4V1347.4H2085.2ZM602.4 1346.8H738.8V1364.4H602.4ZM1829.5 1346.8H1863.6V1364.4H1829.5ZM2068.2 1346.8H2170.4V1364.4H2068.2ZM602.4 1363.8H738.8V1381.4H602.4ZM1829.5 1363.8H1846.6V1381.4H1829.5ZM2051.1 1363.8H2153.4V1381.4H2051.1ZM619.5 1380.8H721.7V1398.4H619.5ZM2034.1 1380.8H2153.4V1398.4H2034.1ZM1727.3 1397.8H1761.4V1415.4H1727.3ZM2017.0 1397.8H2153.4V1415.4H2017.0ZM1727.3 1414.8H1795.5V1432.4H1727.3ZM2000.0 1414.8H2153.4V1432.4H2000.0ZM1693.2 1431.8H1812.5V1449.4H1693.2ZM1982.9 1431.8H2153.4V1449.4H1982.9ZM1659.1 1448.8H1812.5V1466.3H1659.1ZM1982.9 1448.8H2170.4V1466.3H1982.9ZM1693.2 1465.7H1812.5V1483.3H1693.2ZM1982.9 1465.7H2170.4V1483.3H1982.9ZM1965.9 1482.7H2187.5V1500.3H1965.9ZM1948.9 1499.7H2000.0V1517.3H1948.9ZM2051.1 1499.7H2187.5V1517.3H2051.1ZM1948.9 1516.7H1965.9V1534.3H1948.9ZM2068.2 1516.7H2204.5V1534.3H2068.2ZM2085.2 1533.7H2204.5V1551.3H2085.2ZM2102.2 1550.7H2221.5V1568.3H2102.2ZM2102.2 1567.7H2238.6V1585.3H2102.2ZM2102.2 1584.7H2238.6V1602.3H2102.2ZM2102.2 1601.7H2255.6V1619.3H2102.2ZM2119.3 1618.7H2255.6V1636.2H2119.3ZM2119.3 1635.6H2272.7V1653.2H2119.3ZM2136.3 1652.6H2272.7V1670.2H2136.3ZM2153.4 1669.6H2289.7V1687.2H2153.4ZM2153.4 1686.6H2289.7V1704.2H2153.4ZM2170.4 1703.6H2289.7V1721.2H2170.4ZM2187.5 1720.6H2272.7V1738.2H2187.5ZM2221.5 1737.6H2272.7V1755.2H2221.5ZM2221.5 1754.6H2272.7V1772.2H2221.5ZM2136.3 1771.6H2153.4V1789.2H2136.3ZM2170.4 1771.6H2187.5V1789.2H2170.4ZM2204.5 1771.6H2221.5V1789.2H2204.5Z"/>
<path fill="#256baf" d="M1403.5 1075.0H1437.5V1092.6H1403.5ZM1403.5 1092.0H1454.6V1109.5H1403.5ZM1147.8 1601.7H1181.9V1619.3H1147.8ZM1113.7 1618.7H1198.9V1636.2H1113.7ZM1130.8 1635.6H1181.9V1653.2H1130.8ZM1147.8 1652.6H1198.9V1670.2H1147.8ZM1216.0 1652.6H1250.1V1670.2H1216.0ZM1216.0 1669.6H1250.1V1687.2H1216.0ZM1198.9 1686.6H1284.2V1704.2H1198.9ZM1198.9 1703.6H1284.2V1721.2H1198.9ZM1198.9 1720.6H1267.1V1738.2H1198.9ZM1198.9 1737.6H1250.1V1755.2H1198.9ZM1198.9 1754.6H1233.0V1772.2H1198.9ZM1216.0 1771.6H1250.1V1789.2H1216.0Z"/>
</g>
<g fill="none" stroke="#000" stroke-width="4.5" stroke-linejoin="round" stroke-linecap="round">
<path d="M316.7 170.0C316.7 170.0 319.5 181.3 320.0 183.3C320.5 185.3 321.3 187.3 321.7 189.3C322.1 191.4 322.5 196.6 323.3 200.0C324.2 203.4 326.4 206.5 326.7 210.0C326.9 213.5 325.7 218.8 325.0 221.7C324.3 224.6 322.5 227.1 321.7 230.0C320.9 232.9 319.7 236.7 320.0 240.0C320.3 243.3 323.3 247.5 323.3 250.0C323.3 252.5 321.4 254.6 320.0 256.7C318.6 258.7 313.4 263.6 311.7 266.7C309.9 269.7 309.4 273.3 308.3 276.7C307.2 280.0 306.9 284.4 305.0 286.7C303.1 288.9 298.9 288.3 296.7 290.0C294.4 291.7 293.9 295.6 291.7 296.7C289.4 297.8 285.8 297.5 283.3 296.7C280.8 295.8 276.7 291.7 276.7 291.7C276.7 291.7 286.6 285.5 290.0 283.3C293.4 281.2 297.5 279.4 300.0 276.7C302.5 273.9 305.0 266.7 305.0 266.7L301.7 265.0C301.7 265.0 296.4 270.8 293.3 273.3C290.3 275.8 286.1 279.3 283.3 280.0C280.6 280.7 275.0 278.3 275.0 278.3C275.0 278.3 278.3 276.0 280.0 275.0C281.7 274.0 291.9 267.3 296.7 265.0C301.4 262.7 311.7 260.0 311.7 260.0C311.7 260.0 307.2 253.3 306.7 250.0C306.1 246.7 308.3 240.0 308.3 240.0C308.3 240.0 306.1 240.1 305.0 240.0C303.9 239.9 298.6 240.4 296.7 239.3C294.7 238.2 295.2 234.6 293.3 233.3C291.4 232.1 284.1 230.6 280.0 228.3C275.9 226.0 268.8 220.2 263.3 216.7C257.9 213.1 250.4 209.2 246.7 206.7C242.9 204.2 236.0 198.3 236.0 198.3C236.0 198.3 233.9 201.5 233.3 203.3C232.7 205.1 230.6 213.9 230.0 216.7C229.4 219.4 227.9 222.2 228.3 225.0C228.7 227.8 231.7 230.3 232.3 233.3C232.9 236.4 233.6 244.4 233.3 250.0C233.1 255.6 231.8 261.1 231.0 266.7C230.2 272.2 226.9 279.4 228.3 283.3C229.7 287.2 239.3 290.0 239.3 290.0L227.3 293.3C227.3 293.3 228.9 297.8 229.3 300.0C229.8 302.2 231.0 304.7 230.0 306.7C229.0 308.7 223.4 312.4 222.7 313.3C221.9 314.2 222.1 315.6 221.7 316.7C221.2 317.7 217.1 325.6 216.7 326.7C216.2 327.7 216.0 330.0 216.0 330.0C216.0 330.0 225.9 330.6 230.0 331.7C234.1 332.7 238.3 334.2 241.7 336.7C245.0 339.2 250.0 346.7 250.0 346.7C250.0 346.7 243.3 344.0 240.0 342.7C236.7 341.3 231.6 338.7 228.3 337.7C225.1 336.7 218.3 336.0 218.3 336.0C218.3 336.0 215.1 345.4 213.3 350.0C211.5 354.6 207.8 363.4 205.0 370.0C202.2 376.6 197.0 388.8 193.3 396.7C189.7 404.5 184.7 413.4 181.7 420.0C178.6 426.6 176.3 433.4 173.3 440.0C170.3 446.6 165.9 455.4 163.3 460.0C160.8 464.6 157.7 469.4 155.0 473.3C152.3 477.3 146.7 485.0 146.7 485.0L150.0 488.3C150.0 488.3 143.9 488.2 141.7 490.0C139.5 491.8 136.2 497.8 133.3 501.7C130.5 505.5 123.2 512.4 121.7 516.7C120.2 520.9 123.9 525.6 123.3 530.0C122.8 534.4 119.7 539.0 118.3 543.3C117.0 547.7 115.2 553.3 115.0 556.7C114.8 560.0 116.1 565.0 116.7 566.7C117.3 568.3 120.0 570.7 120.0 570.7C120.0 570.7 114.2 577.9 113.3 581.7C112.5 585.4 115.5 589.4 115.0 593.3C114.5 597.2 112.1 602.4 110.0 606.7C107.9 610.9 103.2 618.3 100.0 623.3C96.8 628.4 90.3 637.9 90.0 638.3C89.7 638.8 90.4 639.6 90.0 640.0C89.6 640.4 83.9 643.9 81.7 646.7C79.4 649.4 77.6 653.1 76.7 656.7C75.7 660.3 75.2 664.5 76.0 668.3C76.8 672.1 80.1 676.7 81.7 680.0C83.2 683.3 84.9 686.5 86.0 690.0C87.1 693.5 88.1 698.3 88.3 701.7C88.5 705.0 88.4 708.5 87.3 711.7C86.3 714.8 82.8 719.0 81.7 721.7C80.5 724.3 79.8 727.1 79.3 730.0C78.9 732.9 79.0 739.9 78.3 743.3C77.7 746.8 74.7 749.8 75.0 753.3C75.3 756.8 78.3 762.2 80.0 766.7C81.7 771.1 83.2 776.4 85.0 780.0C86.8 783.6 90.3 786.4 91.7 790.0C93.1 793.6 92.7 799.3 93.3 801.7C94.0 804.1 96.7 808.3 96.7 808.3L88.3 816.7C88.3 816.7 93.1 819.7 95.0 821.7C96.9 823.6 98.2 826.3 100.0 828.3C101.8 830.4 108.3 836.7 108.3 836.7C108.3 836.7 109.6 829.4 110.7 826.7C111.7 823.9 113.2 820.1 115.0 819.0C116.8 817.9 119.7 818.9 121.7 820.0C123.6 821.1 126.2 825.8 128.3 826.7C130.4 827.5 132.9 824.6 135.0 825.3C137.1 826.0 140.3 830.0 143.3 831.7C146.4 833.4 156.7 837.3 156.7 837.3C156.7 837.3 149.9 836.7 146.7 835.7C143.4 834.7 138.8 831.7 135.0 830.7C131.2 829.6 125.9 829.2 123.3 829.3C120.8 829.5 116.0 831.7 116.0 831.7C116.0 831.7 116.2 839.5 116.7 843.3C117.2 847.2 120.0 861.7 120.0 861.7C120.0 861.7 116.2 858.7 115.0 856.7C113.8 854.6 110.8 846.9 110.0 845.0C109.2 843.1 107.3 839.3 107.3 839.3C107.3 839.3 103.6 846.3 102.7 850.0C101.7 853.7 102.2 857.8 101.7 861.7C101.1 865.5 99.1 869.4 99.3 873.3C99.6 877.3 101.9 884.3 103.3 886.7C104.7 889.1 107.7 890.1 110.0 891.7C112.3 893.2 116.7 894.4 118.3 896.7C120.0 898.9 120.6 902.2 120.0 905.0C119.4 907.8 116.8 911.2 115.0 913.3C113.2 915.4 109.7 915.9 108.3 918.3C107.0 920.8 105.7 926.1 106.0 930.0C106.3 933.9 108.6 937.8 110.0 941.7C111.4 945.5 113.5 950.5 115.0 955.0C116.5 959.5 118.5 966.7 119.3 970.0C120.2 973.3 120.4 976.8 121.7 980.0C123.0 983.2 126.2 988.3 128.3 991.7C130.4 995.1 134.3 998.1 135.0 1001.7C135.7 1005.3 132.2 1010.9 132.7 1013.3C133.2 1015.8 136.8 1016.4 138.3 1018.3C139.8 1020.3 141.8 1022.5 141.7 1025.0C141.5 1027.5 138.3 1031.5 137.3 1035.0C136.3 1038.5 135.8 1045.9 135.0 1048.3C134.2 1050.8 130.7 1052.4 131.0 1055.0C131.3 1057.6 133.8 1062.1 136.7 1064.0C139.6 1065.9 145.5 1065.8 148.3 1066.7C151.2 1067.5 154.0 1068.6 156.7 1070.0C159.3 1071.4 163.1 1075.0 166.7 1076.7C170.3 1078.3 175.0 1078.1 178.3 1080.0C181.7 1081.9 184.6 1086.2 186.7 1088.3C188.7 1090.5 191.7 1093.0 192.7 1095.0C193.7 1097.0 192.0 1099.9 193.3 1101.7C194.7 1103.5 200.2 1107.5 203.3 1109.3C206.4 1111.1 209.9 1112.2 213.3 1113.3C216.7 1114.5 222.9 1115.3 225.0 1116.7C227.1 1118.0 228.0 1120.9 228.3 1123.3C228.7 1125.8 227.3 1133.3 227.3 1133.3L228.3 1130.0L225.0 1138.3C225.0 1138.3 230.8 1138.8 233.3 1140.0C235.9 1141.2 240.4 1144.0 243.3 1146.7C246.3 1149.4 250.3 1154.2 253.3 1158.3C256.4 1162.5 259.7 1167.9 261.7 1171.7C263.7 1175.4 265.4 1179.3 266.7 1183.3C267.9 1187.4 269.1 1192.8 269.3 1196.7C269.6 1200.6 268.9 1204.9 268.3 1208.3C267.8 1211.7 265.7 1218.3 265.7 1218.3L270.7 1220.7C270.7 1220.7 269.5 1225.7 269.3 1228.3C269.2 1230.9 268.6 1236.2 269.3 1240.0C270.1 1243.8 273.2 1247.9 274.0 1251.7C274.8 1255.5 273.0 1259.7 274.3 1263.3C275.7 1267.0 283.3 1276.7 283.3 1276.7C283.3 1276.7 279.2 1280.2 278.3 1282.7C277.5 1285.1 276.7 1289.8 277.3 1293.3C278.0 1296.8 281.0 1301.0 282.7 1305.0C284.3 1309.0 287.7 1315.6 288.3 1320.0C289.0 1324.4 285.4 1329.0 286.7 1333.3C287.9 1337.6 295.6 1342.4 296.7 1348.3C297.7 1354.2 292.8 1366.3 293.3 1370.0C293.9 1373.7 300.1 1374.7 301.0 1378.3C301.9 1382.0 300.0 1390.1 299.3 1393.3C298.7 1396.6 296.0 1402.7 296.0 1402.7C296.0 1402.7 298.7 1403.8 299.0 1405.0C299.3 1406.2 298.3 1413.1 300.0 1416.7C301.7 1420.2 308.4 1427.7 311.7 1431.7C314.9 1435.6 318.4 1440.5 321.7 1443.3C324.9 1446.2 329.9 1446.8 332.7 1450.0C335.5 1453.2 340.9 1464.0 343.3 1468.3C345.7 1472.7 347.8 1477.2 350.0 1481.7C352.2 1486.1 356.4 1494.8 358.3 1498.3C360.3 1501.8 363.5 1505.2 365.0 1508.3C366.5 1511.5 368.2 1514.9 367.7 1518.3C367.1 1521.7 364.0 1526.3 361.7 1530.0C359.4 1533.7 355.8 1538.8 353.3 1541.7C350.9 1544.5 348.3 1547.5 345.0 1549.3C341.7 1551.2 337.4 1552.8 333.3 1552.7C329.3 1552.5 324.4 1549.8 320.0 1548.3C315.6 1546.8 304.0 1542.7 304.0 1542.7C304.0 1542.7 303.9 1547.4 305.0 1549.3C306.1 1551.3 311.7 1557.7 315.0 1561.7C318.3 1565.6 322.9 1568.9 325.0 1573.3C327.1 1577.8 326.3 1585.7 327.3 1588.3C328.4 1591.0 331.0 1592.7 333.3 1594.3C335.7 1595.9 340.7 1596.8 343.3 1599.3C346.0 1601.8 346.9 1607.1 349.3 1609.3C351.7 1611.6 356.0 1611.0 358.3 1613.3C360.7 1615.7 362.1 1620.7 363.3 1623.3C364.5 1626.0 366.7 1631.3 366.7 1631.3C366.7 1631.3 375.3 1627.4 378.3 1627.3C381.3 1627.2 383.8 1631.6 386.7 1630.7C389.5 1629.7 396.0 1621.3 396.0 1621.3C396.0 1621.3 394.0 1632.2 394.3 1636.3C394.7 1640.4 396.2 1644.5 398.3 1648.0C400.5 1651.5 408.6 1662.6 413.3 1667.0C418.1 1671.4 426.1 1672.1 430.0 1677.0C433.9 1681.9 435.7 1693.1 436.7 1696.3C437.6 1699.6 438.3 1703.0 438.3 1706.3C438.3 1709.7 436.7 1714.6 436.7 1718.0C436.7 1721.4 438.8 1724.7 438.3 1728.0C437.9 1731.3 434.9 1738.0 433.3 1743.0C431.7 1748.0 430.1 1756.6 428.3 1759.7C426.6 1762.8 420.0 1766.3 420.0 1766.3C420.0 1766.3 427.3 1766.0 430.0 1768.0C432.7 1770.0 439.7 1779.3 440.7 1781.3C441.7 1783.3 440.0 1788.0 440.0 1788.0C440.0 1788.0 446.3 1787.7 448.3 1789.7C450.3 1791.7 454.2 1801.3 458.3 1806.3C462.4 1811.3 474.9 1822.3 478.3 1826.3C481.7 1830.3 483.6 1835.4 486.7 1839.7C489.7 1843.9 493.9 1850.2 498.3 1854.7C502.8 1859.1 510.2 1862.1 513.3 1866.3C516.5 1870.5 517.3 1878.5 518.3 1881.3C519.3 1884.2 521.3 1886.7 521.7 1889.7C522.1 1892.6 521.0 1902.9 521.7 1906.3C522.3 1909.8 524.4 1914.1 526.7 1915.7C528.9 1917.2 532.4 1916.7 535.0 1915.7C537.6 1914.7 542.6 1910.3 546.7 1908.0C550.7 1905.7 556.7 1904.9 560.0 1901.3C563.3 1897.7 566.2 1889.8 566.7 1886.3C567.1 1882.9 565.5 1879.1 563.3 1876.3C561.1 1873.6 555.3 1873.0 553.3 1869.7C551.4 1866.3 552.8 1860.4 551.7 1856.3C550.6 1852.2 548.7 1848.4 546.7 1844.7C544.7 1840.9 541.6 1835.4 538.3 1831.3C535.1 1827.2 526.0 1818.7 526.0 1818.7C526.0 1818.7 522.6 1829.9 521.7 1831.3C520.7 1832.8 516.7 1833.0 516.7 1833.0C516.7 1833.0 517.2 1829.2 516.0 1828.0C514.8 1826.8 510.2 1826.7 508.3 1824.7C506.5 1822.6 503.4 1817.2 502.3 1813.0C501.3 1808.8 500.7 1802.4 501.7 1798.0C502.6 1793.6 507.5 1789.0 508.3 1786.3C509.2 1783.7 509.3 1780.6 508.3 1778.0C507.4 1775.4 500.3 1764.9 498.3 1758.0C496.4 1751.1 497.9 1739.7 496.7 1736.3C495.5 1733.0 490.1 1732.7 488.3 1729.7C486.5 1726.6 484.2 1719.9 484.0 1714.7C483.8 1709.5 486.7 1701.4 486.7 1694.7C486.7 1687.9 484.7 1678.6 484.0 1673.0C483.3 1667.4 483.4 1660.8 481.7 1656.3C480.0 1651.9 476.2 1648.5 473.3 1644.7C470.5 1640.8 464.0 1632.8 461.7 1629.7C459.3 1626.5 456.8 1623.2 455.0 1620.0C453.2 1616.8 451.4 1613.6 450.7 1610.0C449.9 1606.4 452.1 1600.6 450.0 1596.7C447.9 1592.7 440.1 1588.4 437.3 1585.0C434.5 1581.6 431.8 1576.6 431.0 1573.3C430.2 1570.1 431.9 1566.7 432.3 1563.3C432.7 1560.0 433.5 1555.7 433.3 1553.3C433.1 1551.0 431.1 1549.0 431.0 1546.7C430.9 1544.3 433.3 1537.0 432.3 1534.3C431.4 1531.7 426.7 1531.4 425.0 1530.0C423.3 1528.6 421.3 1527.1 420.7 1525.0C420.1 1522.9 418.9 1508.3 418.3 1506.7C417.7 1505.0 414.4 1506.4 413.3 1505.0C412.3 1503.6 412.2 1498.2 410.7 1496.7C409.2 1495.2 404.3 1496.0 404.3 1496.0C404.3 1496.0 405.4 1488.5 405.0 1485.0C404.6 1481.5 403.0 1478.3 401.7 1475.0C400.4 1471.7 397.7 1465.3 395.7 1461.7C393.6 1458.1 390.6 1455.1 388.3 1451.7C386.0 1448.2 382.8 1442.0 380.0 1438.3C377.2 1434.7 373.1 1431.9 370.7 1428.3C368.2 1424.8 366.5 1420.7 365.0 1416.7C363.5 1412.6 361.4 1407.9 361.7 1403.3C361.9 1398.8 365.9 1390.2 366.7 1383.3C367.4 1376.5 367.1 1361.8 366.7 1356.7C366.3 1351.6 362.8 1346.8 363.3 1341.7C363.9 1336.6 369.0 1325.7 370.7 1321.7C372.4 1317.6 376.5 1314.3 376.7 1310.0C376.8 1305.7 371.7 1295.7 371.7 1295.7C371.7 1295.7 379.8 1301.5 383.3 1305.0C386.9 1308.5 393.5 1316.7 396.7 1320.0C399.8 1323.3 404.2 1328.1 406.7 1329.3C409.1 1330.6 413.2 1330.1 415.0 1329.3C416.8 1328.5 418.3 1324.3 418.3 1324.3C418.3 1324.3 428.3 1331.5 430.0 1333.3C431.7 1335.1 432.9 1337.8 433.3 1340.0C433.7 1342.2 431.1 1344.8 432.3 1346.7C433.6 1348.5 438.3 1351.1 441.7 1352.7C445.0 1354.3 450.8 1355.4 453.3 1356.7C455.8 1357.9 459.2 1359.7 460.0 1361.7C460.8 1363.6 459.0 1367.3 458.3 1368.3C457.7 1369.4 455.4 1368.8 455.0 1370.0C454.6 1371.2 450.7 1383.1 450.7 1388.3C450.7 1393.5 453.5 1398.3 455.0 1403.3C456.5 1408.3 459.1 1415.1 460.0 1420.0C460.9 1424.9 461.0 1432.8 461.0 1435.0C461.0 1437.2 459.7 1439.4 460.0 1441.7C460.3 1443.9 462.3 1450.7 464.0 1455.0C465.7 1459.3 470.7 1467.9 471.7 1471.7C472.6 1475.4 469.9 1480.4 471.0 1483.3C472.1 1486.3 477.4 1486.3 478.3 1489.3C479.2 1492.4 476.9 1501.9 477.3 1505.0C477.8 1508.1 479.9 1510.7 481.7 1513.3C483.4 1515.9 486.7 1518.5 488.3 1521.7C489.9 1524.8 490.2 1529.6 491.7 1533.3C493.2 1537.1 495.9 1543.7 498.3 1546.7C500.7 1549.7 505.5 1550.2 507.7 1553.3C509.8 1556.5 513.0 1567.7 515.0 1571.7C517.0 1575.6 519.5 1579.7 522.3 1582.7C525.2 1585.7 529.4 1589.0 532.3 1590.0C535.3 1591.0 538.6 1588.7 541.7 1589.3C544.7 1590.0 553.3 1594.3 553.3 1594.3C553.3 1594.3 547.5 1602.1 546.7 1606.7C545.8 1611.2 547.6 1617.8 548.3 1621.7C549.1 1625.5 549.7 1629.7 551.7 1633.0C553.6 1636.3 556.7 1639.2 560.0 1641.3C563.3 1643.5 573.7 1645.4 576.7 1649.0C579.6 1652.6 576.6 1658.8 577.7 1663.0C578.8 1667.2 579.9 1672.3 583.3 1674.7C586.8 1677.0 594.2 1674.2 598.3 1677.0C602.5 1679.8 606.7 1687.7 608.3 1691.3C609.9 1694.9 609.1 1700.3 610.0 1703.0C610.9 1705.7 614.3 1710.3 614.3 1710.3C614.3 1710.3 609.0 1706.8 606.7 1708.0C604.3 1709.2 597.1 1715.1 595.0 1720.3C592.9 1725.6 593.3 1735.8 594.0 1739.7C594.7 1743.5 597.3 1747.9 600.0 1749.7C602.7 1751.4 606.7 1750.9 610.0 1750.3C613.3 1749.7 621.7 1745.7 621.7 1745.7L610.0 1759.0L625.0 1759.0C625.0 1759.0 625.1 1764.3 626.7 1766.3C628.2 1768.3 634.9 1773.1 638.3 1776.3C641.8 1779.5 644.5 1783.5 648.3 1786.3C652.1 1789.1 663.3 1794.7 663.3 1794.7L650.0 1792.3C650.0 1792.3 660.6 1810.4 661.7 1813.0C662.7 1815.6 660.8 1818.9 661.7 1821.3C662.5 1823.7 664.7 1825.6 666.7 1827.3C668.6 1829.1 673.1 1833.2 676.7 1834.7C680.3 1836.2 688.3 1836.3 688.3 1836.3L690.0 1844.7L676.7 1838.0C676.7 1838.0 686.8 1846.7 691.7 1851.3C696.5 1855.9 707.3 1866.7 710.0 1869.7C712.7 1872.7 714.7 1876.2 716.7 1879.7C718.6 1883.2 724.7 1896.2 726.7 1899.7C728.6 1903.2 731.5 1906.1 733.3 1909.7C735.1 1913.2 738.3 1923.2 740.0 1926.3C741.7 1929.5 745.1 1932.7 746.7 1934.7C748.3 1936.6 750.1 1938.4 751.7 1940.3C753.2 1942.3 766.7 1959.7 766.7 1959.7"/>
<path d="M1260.0 1959.7C1260.0 1959.7 1261.1 1946.8 1261.7 1940.3C1262.2 1933.9 1262.9 1921.9 1264.0 1913.0C1265.1 1904.1 1266.5 1895.2 1268.3 1886.3C1270.2 1877.5 1272.6 1867.6 1275.0 1859.7C1277.4 1851.8 1280.6 1842.2 1283.3 1836.3C1286.0 1830.4 1291.2 1823.9 1293.3 1819.7C1295.5 1815.4 1297.4 1811.0 1298.3 1806.3C1299.3 1801.7 1299.6 1795.2 1299.3 1789.7C1299.1 1784.1 1297.8 1776.3 1296.7 1769.7C1295.5 1763.0 1292.8 1753.0 1291.7 1746.3C1290.5 1739.7 1289.8 1730.8 1289.3 1726.3C1288.9 1721.9 1287.7 1717.4 1288.3 1713.0C1288.9 1708.6 1291.0 1701.6 1293.3 1696.3C1295.7 1691.0 1299.3 1684.7 1303.3 1679.7C1307.4 1674.6 1314.0 1668.0 1320.0 1663.0C1326.0 1658.0 1336.5 1651.6 1343.3 1646.3C1350.2 1641.0 1356.1 1634.1 1363.3 1629.7C1370.5 1625.2 1379.3 1623.8 1386.7 1619.7C1394.0 1615.5 1406.2 1606.9 1413.3 1601.3C1420.4 1595.7 1427.9 1587.7 1433.3 1583.0C1438.7 1578.3 1443.9 1573.3 1450.0 1569.7C1456.1 1566.1 1467.9 1561.7 1473.3 1559.7C1478.8 1557.6 1484.3 1555.8 1490.0 1554.7C1495.7 1553.6 1508.4 1550.5 1516.7 1551.3C1524.9 1552.2 1531.9 1558.0 1540.0 1559.7C1548.1 1561.3 1569.8 1563.0 1573.3 1563.0C1576.8 1563.0 1583.3 1559.7 1583.3 1559.7L1580.0 1551.3C1580.0 1551.3 1587.3 1545.8 1591.7 1545.7C1596.0 1545.5 1602.5 1547.7 1606.7 1550.3C1610.8 1552.9 1612.6 1558.9 1616.7 1561.3C1620.7 1563.7 1631.0 1564.7 1631.0 1564.7L1628.3 1563.3L1635.0 1575.0L1626.7 1580.0C1626.7 1580.0 1637.8 1583.0 1643.3 1584.0C1648.8 1585.0 1656.4 1587.1 1660.0 1586.0C1663.6 1584.9 1663.9 1578.5 1666.7 1576.7C1669.4 1574.8 1673.5 1573.8 1676.7 1575.0C1679.8 1576.2 1688.3 1585.0 1688.3 1585.0C1688.3 1585.0 1694.2 1580.1 1695.0 1576.7C1695.8 1573.2 1693.8 1564.8 1693.3 1563.3C1692.9 1561.8 1690.0 1560.0 1690.0 1560.0C1690.0 1560.0 1701.6 1561.2 1705.0 1563.3C1708.4 1565.4 1708.4 1571.1 1711.7 1573.3C1715.0 1575.6 1722.8 1575.6 1726.7 1578.3C1730.6 1581.1 1735.0 1590.0 1735.0 1590.0C1735.0 1590.0 1740.5 1585.4 1743.3 1583.3C1746.2 1581.2 1753.3 1576.7 1753.3 1576.7C1753.3 1576.7 1748.3 1571.4 1745.0 1570.0C1741.7 1568.6 1734.2 1568.2 1730.0 1566.7C1725.8 1565.1 1720.7 1562.2 1718.3 1560.0C1715.9 1557.8 1713.3 1551.7 1713.3 1551.7C1713.3 1551.7 1717.4 1546.8 1720.0 1545.0C1722.6 1543.2 1730.0 1540.0 1730.0 1540.0C1730.0 1540.0 1727.2 1531.7 1728.3 1528.3C1729.4 1525.0 1736.7 1520.0 1736.7 1520.0C1736.7 1520.0 1732.6 1524.1 1730.0 1525.0C1727.4 1525.9 1720.5 1525.8 1718.3 1526.7C1716.1 1527.5 1713.3 1531.7 1713.3 1531.7L1707.3 1526.7C1707.3 1526.7 1713.4 1519.8 1716.7 1516.7C1720.0 1513.5 1724.7 1507.6 1730.0 1505.0C1735.3 1502.4 1747.8 1499.0 1753.3 1498.3C1758.9 1497.6 1764.4 1500.2 1770.0 1500.0C1775.6 1499.8 1795.0 1496.7 1795.0 1496.7C1795.0 1496.7 1797.6 1481.6 1798.3 1480.0C1799.1 1478.4 1803.3 1478.3 1803.3 1478.3C1803.3 1478.3 1806.8 1490.6 1808.3 1493.3C1809.8 1496.1 1815.0 1500.0 1815.0 1500.0L1828.3 1491.7L1833.3 1498.3C1833.3 1498.3 1843.9 1496.1 1846.7 1493.3C1849.4 1490.6 1848.4 1483.6 1850.0 1481.7C1851.6 1479.7 1857.3 1480.0 1857.3 1480.0L1858.3 1490.0C1858.3 1490.0 1873.2 1486.2 1876.7 1485.0C1880.2 1483.8 1883.0 1480.5 1886.7 1480.0C1890.4 1479.5 1903.3 1481.7 1903.3 1481.7L1886.7 1486.7C1886.7 1486.7 1897.8 1488.6 1903.3 1490.0C1908.8 1491.4 1917.2 1495.0 1920.0 1495.0C1922.8 1495.0 1924.6 1491.0 1926.7 1490.0C1928.7 1489.0 1933.3 1488.3 1933.3 1488.3C1933.3 1488.3 1930.6 1494.0 1931.7 1496.7C1932.7 1499.3 1937.2 1502.2 1940.0 1505.0C1942.8 1507.8 1946.7 1510.4 1948.3 1513.3C1950.0 1516.3 1950.0 1523.3 1950.0 1523.3C1950.0 1523.3 1961.2 1521.6 1966.7 1520.0C1972.1 1518.4 1978.6 1515.7 1983.3 1513.3C1988.0 1511.0 1993.5 1508.2 1996.7 1505.0C1999.8 1501.8 1999.8 1496.1 2003.3 1493.3C2006.9 1490.6 2013.1 1487.9 2018.3 1488.3C2023.6 1488.8 2034.6 1493.1 2040.0 1496.3C2045.4 1499.6 2048.9 1505.2 2053.3 1509.7C2057.8 1514.1 2061.6 1519.2 2066.7 1523.0C2071.7 1526.8 2081.4 1531.2 2086.7 1534.7C2091.9 1538.2 2098.8 1543.5 2101.7 1546.3C2104.5 1549.2 2107.3 1552.5 2108.3 1556.3C2109.4 1560.2 2110.0 1569.7 2110.0 1576.3C2110.0 1583.0 2109.1 1590.7 2108.3 1596.3C2107.6 1601.9 2104.9 1608.9 2105.0 1613.0C2105.1 1617.1 2107.7 1622.7 2109.3 1624.7C2111.0 1626.6 2116.7 1627.0 2116.7 1627.0C2116.7 1627.0 2120.6 1622.0 2120.0 1619.7C2119.4 1617.3 2113.3 1613.0 2113.3 1613.0C2113.3 1613.0 2116.2 1608.8 2118.3 1609.0C2120.5 1609.2 2130.0 1614.7 2130.0 1614.7C2130.0 1614.7 2125.1 1626.2 2123.3 1629.7C2121.6 1633.1 2117.3 1639.7 2117.3 1639.7C2117.3 1639.7 2123.7 1646.2 2126.7 1649.7C2129.6 1653.2 2134.7 1660.5 2138.3 1664.7C2142.0 1668.8 2150.0 1676.3 2150.0 1676.3C2150.0 1676.3 2151.4 1671.3 2153.3 1669.7C2155.2 1668.0 2161.7 1666.3 2161.7 1666.3C2161.7 1666.3 2159.7 1675.2 2160.0 1679.7C2160.3 1684.1 2163.3 1693.0 2163.3 1693.0L2156.7 1694.7L2161.7 1701.3C2161.7 1701.3 2167.8 1696.0 2170.0 1693.0C2172.2 1690.0 2175.0 1683.0 2175.0 1683.0C2175.0 1683.0 2172.5 1691.9 2173.3 1696.3C2174.2 1700.7 2177.9 1705.7 2180.0 1709.7C2182.1 1713.6 2183.4 1718.2 2186.7 1721.3C2189.9 1724.4 2196.3 1727.5 2200.0 1729.0C2203.7 1730.5 2208.5 1728.9 2211.7 1731.3C2214.8 1733.8 2217.0 1740.5 2220.0 1744.7C2223.0 1748.8 2226.6 1753.4 2230.0 1756.3C2233.4 1759.2 2241.7 1763.0 2241.7 1763.0C2241.7 1763.0 2235.3 1762.2 2233.3 1763.0C2231.4 1763.8 2229.3 1768.0 2229.3 1768.0C2229.3 1768.0 2232.5 1773.0 2235.0 1773.0C2237.5 1773.0 2244.0 1768.7 2246.7 1768.0C2249.4 1767.3 2252.4 1768.9 2255.0 1768.0C2257.6 1767.1 2262.1 1763.4 2265.0 1761.3C2267.9 1759.2 2271.8 1757.9 2273.3 1754.7C2274.8 1751.4 2275.0 1743.0 2275.0 1739.7C2275.0 1736.3 2272.8 1733.0 2273.3 1729.7C2273.9 1726.3 2277.1 1723.2 2278.3 1719.7C2279.6 1716.2 2281.4 1710.9 2281.7 1706.3C2281.9 1701.8 2280.6 1693.0 2280.0 1686.3C2279.4 1679.7 2279.4 1672.9 2278.3 1666.3C2277.2 1659.7 2275.6 1651.4 2273.3 1646.3C2271.1 1641.3 2266.4 1637.7 2263.3 1633.0C2260.3 1628.3 2255.6 1619.7 2251.7 1613.0C2247.8 1606.3 2243.9 1599.7 2240.0 1593.0C2236.1 1586.3 2228.0 1573.9 2226.7 1569.7C2225.3 1565.4 2230.0 1559.9 2228.3 1556.3C2226.7 1552.7 2219.8 1550.0 2216.7 1548.0C2213.5 1546.0 2209.1 1545.8 2206.7 1543.0C2204.3 1540.2 2201.3 1531.8 2198.3 1526.3C2195.4 1520.9 2190.6 1513.0 2186.7 1506.3C2182.7 1499.7 2173.3 1484.7 2173.3 1484.7L2176.7 1486.7C2176.7 1486.7 2170.0 1473.3 2166.7 1466.7C2163.3 1460.0 2159.1 1452.1 2156.7 1446.7C2154.2 1441.2 2151.6 1435.4 2150.0 1430.0C2148.4 1424.6 2146.7 1417.9 2146.7 1413.3C2146.7 1408.8 2149.0 1404.5 2150.0 1400.0C2151.0 1395.5 2152.2 1388.9 2153.3 1383.3C2154.4 1377.8 2155.7 1371.1 2156.7 1366.7C2157.7 1362.2 2158.6 1357.7 2160.0 1353.3C2161.4 1349.0 2163.3 1343.1 2165.0 1340.0C2166.7 1336.9 2170.8 1335.0 2171.7 1331.7C2172.5 1328.3 2169.2 1323.6 2170.0 1320.0C2170.8 1316.4 2173.9 1312.2 2176.7 1310.0C2179.4 1307.8 2183.5 1308.2 2186.7 1306.7C2189.8 1305.1 2193.5 1302.4 2196.7 1300.0C2199.9 1297.6 2203.3 1294.4 2206.7 1291.7C2210.0 1288.9 2214.0 1286.8 2216.7 1283.3C2219.3 1279.9 2221.2 1272.8 2223.3 1270.0C2225.5 1267.2 2229.3 1266.0 2231.7 1263.3C2234.0 1260.7 2236.7 1257.0 2238.3 1253.3C2239.9 1249.7 2241.2 1242.1 2243.3 1236.7C2245.5 1231.3 2249.2 1224.1 2251.7 1220.0C2254.1 1215.9 2257.2 1211.2 2260.0 1208.3C2262.8 1205.5 2266.2 1203.0 2270.0 1201.7C2273.8 1200.3 2288.9 1200.8 2293.3 1196.7C2297.8 1192.5 2295.3 1180.9 2296.7 1176.7C2298.0 1172.4 2300.7 1168.6 2303.3 1165.0C2305.9 1161.4 2310.1 1157.3 2313.3 1153.3C2316.5 1149.3 2320.6 1142.2 2323.3 1140.0C2326.0 1137.8 2330.0 1137.6 2333.3 1136.7C2336.7 1135.7 2342.7 1133.6 2346.7 1133.3C2350.6 1133.1 2358.3 1135.0 2358.3 1135.0C2358.3 1135.0 2364.3 1119.7 2366.7 1115.0C2369.0 1110.3 2371.8 1105.2 2375.0 1101.7C2378.2 1098.2 2384.6 1094.7 2386.7 1093.3C2388.8 1092.0 2391.8 1091.9 2393.3 1090.0C2394.9 1088.1 2397.3 1083.6 2397.3 1080.0C2397.3 1076.4 2394.0 1065.3 2393.3 1063.3C2392.7 1061.3 2391.4 1059.6 2390.0 1058.0C2388.6 1056.4 2384.2 1052.9 2381.7 1050.0C2379.1 1047.1 2375.7 1042.4 2373.9 1040.0C2372.1 1037.6 2370.5 1035.1 2368.9 1032.6C2367.2 1030.2 2364.2 1026.1 2362.2 1022.6C2360.2 1019.1 2356.1 1010.3 2354.7 1007.5C2353.3 1004.7 2351.5 1001.2 2350.5 999.2C2349.4 997.2 2349.2 994.1 2347.1 993.3C2345.0 992.5 2338.0 992.7 2335.4 993.3C2332.9 993.9 2330.3 996.7 2328.7 997.5C2327.2 998.3 2325.4 999.6 2323.7 999.2C2322.0 998.7 2317.4 996.0 2315.3 994.1C2313.2 992.3 2312.8 988.8 2310.3 987.5C2307.9 986.1 2303.7 986.0 2300.3 985.8C2296.9 985.5 2290.9 986.0 2288.6 985.8C2286.3 985.6 2281.9 984.1 2281.9 984.1C2281.9 984.1 2285.1 982.6 2286.9 982.4C2288.6 982.2 2293.6 982.2 2296.9 982.4C2300.3 982.7 2306.6 983.4 2308.6 984.1C2310.7 984.8 2311.8 987.2 2313.7 988.3C2315.6 989.4 2318.2 989.8 2320.4 990.8C2322.5 991.8 2327.9 995.0 2327.9 995.0C2327.9 995.0 2331.7 992.2 2332.1 990.8C2332.5 989.4 2331.6 987.6 2330.4 986.6C2329.2 985.7 2325.8 985.3 2323.7 984.1C2321.6 982.9 2319.3 980.6 2317.0 979.1C2314.7 977.5 2310.7 975.9 2308.6 974.1C2306.5 972.2 2303.6 967.4 2303.6 967.4C2303.6 967.4 2309.7 969.7 2312.0 970.7C2314.3 971.7 2316.8 973.3 2318.7 974.1C2320.6 974.8 2324.5 975.7 2324.5 975.7L2322.0 970.7L2328.7 972.4C2328.7 972.4 2329.7 968.7 2328.7 967.4C2327.8 966.0 2322.9 964.0 2322.9 964.0L2325.4 960.7C2325.4 960.7 2323.2 955.7 2321.2 954.8C2319.2 954.0 2316.1 956.3 2313.7 955.7C2311.2 955.0 2307.9 952.6 2305.3 950.6C2302.7 948.7 2298.5 944.7 2295.3 942.3C2292.0 939.9 2287.9 937.2 2285.2 935.6C2282.5 934.0 2276.9 931.4 2276.9 931.4C2276.9 931.4 2282.6 931.3 2285.2 932.2C2287.9 933.2 2290.8 935.5 2293.6 937.3C2296.3 939.0 2300.3 941.6 2303.6 943.9C2306.9 946.3 2311.3 950.6 2313.7 951.5C2316.0 952.4 2321.2 950.6 2321.2 950.6C2321.2 950.6 2322.4 942.6 2322.0 940.6C2321.7 938.6 2320.2 936.9 2318.7 935.6C2317.2 934.3 2313.3 931.9 2310.3 930.6C2307.4 929.2 2303.7 928.0 2300.3 927.2C2296.8 926.4 2291.0 926.2 2288.6 925.5C2286.2 924.9 2283.6 923.2 2281.9 922.2C2280.1 921.2 2278.8 918.7 2276.9 918.8C2274.9 919.0 2270.2 923.0 2270.2 923.0C2270.2 923.0 2267.4 919.3 2266.8 917.2C2266.2 915.0 2265.8 910.5 2266.0 907.1C2266.1 903.8 2266.8 900.4 2267.7 897.1C2268.5 893.8 2271.0 887.1 2271.0 887.1C2271.0 887.1 2270.9 891.6 2270.2 893.7C2269.4 895.9 2266.9 899.9 2266.0 902.1C2265.0 904.3 2263.7 906.4 2263.5 908.8C2263.2 911.2 2263.5 915.1 2264.3 917.2C2265.1 919.2 2268.5 922.2 2268.5 922.2C2268.5 922.2 2271.9 919.2 2273.5 918.0C2275.1 916.8 2276.7 915.1 2278.5 914.7C2280.3 914.2 2283.1 914.9 2284.4 915.5C2285.6 916.1 2285.7 918.2 2286.9 918.8C2288.1 919.5 2293.5 921.4 2296.9 922.2C2300.4 923.0 2306.2 923.2 2308.6 923.9C2311.1 924.5 2315.3 927.2 2315.3 927.2C2315.3 927.2 2309.5 920.9 2307.0 918.8C2304.4 916.8 2300.7 915.7 2298.6 913.8C2296.5 912.0 2294.7 909.0 2293.6 907.1C2292.5 905.3 2291.1 901.3 2291.1 901.3C2291.1 901.3 2293.8 904.2 2295.3 905.5C2296.8 906.7 2299.5 909.1 2302.0 910.5C2304.4 911.8 2310.3 913.8 2310.3 913.8C2310.3 913.8 2306.8 910.6 2305.3 908.8C2303.8 907.0 2301.7 904.5 2300.3 902.1C2298.8 899.7 2297.2 896.5 2296.1 893.7C2295.0 891.0 2293.9 888.2 2293.6 885.4C2293.3 882.6 2295.0 879.1 2294.4 877.0C2293.9 874.9 2290.5 874.2 2290.2 872.0C2290.0 869.8 2292.8 863.6 2292.8 863.6L2286.9 860.3C2286.9 860.3 2292.0 857.2 2293.6 855.3C2295.2 853.4 2295.3 850.2 2296.9 848.6C2298.6 846.9 2302.2 847.0 2303.6 845.2C2305.0 843.4 2304.5 839.1 2305.3 837.7C2306.1 836.3 2309.5 835.2 2309.5 835.2L2315.3 840.2C2315.3 840.2 2313.4 843.7 2312.0 845.2C2310.6 846.7 2307.5 848.3 2306.1 850.2C2304.8 852.2 2304.0 854.7 2303.6 856.9C2303.2 859.1 2303.1 861.7 2303.6 863.6C2304.2 865.6 2307.0 868.6 2307.0 868.6L2302.0 872.0C2302.0 872.0 2302.6 875.6 2303.6 877.0C2304.7 878.4 2308.6 881.2 2308.6 881.2C2308.6 881.2 2304.9 883.8 2304.5 885.4C2304.0 886.9 2306.1 890.4 2306.1 890.4C2306.1 890.4 2310.2 888.7 2312.0 888.7C2313.8 888.7 2315.4 889.7 2317.0 890.4C2318.6 891.1 2322.9 893.7 2322.9 893.7C2322.9 893.7 2318.7 893.6 2317.0 893.7C2315.3 893.9 2313.1 893.7 2312.0 894.6C2310.9 895.4 2310.1 897.3 2310.3 898.8C2310.5 900.3 2312.3 903.5 2313.7 905.5C2315.0 907.4 2316.7 909.2 2318.7 910.5C2320.7 911.8 2326.2 913.8 2326.2 913.8C2326.2 913.8 2329.3 908.0 2330.4 907.1C2331.5 906.3 2334.6 907.1 2334.6 907.1C2334.6 907.1 2332.1 911.7 2332.1 913.8C2332.1 915.9 2333.5 918.0 2334.6 919.7C2335.7 921.3 2337.9 922.2 2338.8 923.9C2339.6 925.5 2339.6 929.7 2339.6 929.7C2339.6 929.7 2343.8 930.4 2345.5 929.7C2347.1 929.0 2349.6 925.5 2349.6 925.5C2349.6 925.5 2348.6 932.7 2348.0 935.6C2347.3 938.4 2346.3 941.2 2345.5 943.9C2344.6 946.7 2343.1 950.7 2342.4 954.0C2341.8 957.3 2341.2 960.7 2341.3 964.0C2341.4 967.4 2342.3 971.9 2343.0 974.1C2343.6 976.2 2346.3 979.9 2346.3 979.9C2346.3 979.9 2348.5 978.6 2348.8 977.4C2349.1 976.3 2349.1 970.2 2349.6 967.4C2350.2 964.5 2351.4 961.0 2352.2 959.0C2352.9 957.0 2353.6 954.8 2354.7 953.2C2355.8 951.5 2358.3 950.9 2358.8 949.0C2359.4 947.1 2357.9 943.4 2358.0 940.6C2358.2 937.8 2358.8 934.9 2359.7 932.2C2360.5 929.5 2362.7 925.6 2363.9 922.2C2365.1 918.8 2366.3 913.8 2367.2 910.5C2368.1 907.2 2369.2 903.2 2369.7 900.4C2370.2 897.7 2370.9 894.1 2370.6 892.1C2370.2 890.1 2368.7 888.4 2367.2 887.1C2365.7 885.7 2361.4 883.7 2361.4 883.7C2361.4 883.7 2363.7 878.8 2363.9 877.0C2364.0 875.3 2363.3 873.3 2362.2 872.0C2361.1 870.6 2357.6 868.8 2355.5 867.0C2353.4 865.1 2350.9 862.6 2348.8 860.3C2346.7 857.9 2344.0 854.9 2342.1 851.9C2340.2 848.9 2339.0 844.9 2337.1 841.9C2335.2 838.9 2331.7 835.8 2330.4 833.5C2329.1 831.2 2327.9 828.6 2327.9 826.0C2327.9 823.3 2328.9 819.6 2330.4 816.8C2331.9 814.0 2334.6 810.9 2337.1 808.4C2339.6 805.9 2343.5 803.7 2345.5 801.7C2347.4 799.7 2349.3 796.7 2350.5 795.0C2351.7 793.4 2353.8 790.0 2353.8 790.0C2353.8 790.0 2351.7 793.4 2350.5 795.0C2349.3 796.7 2347.4 799.7 2345.5 801.7C2343.5 803.7 2339.6 805.9 2337.1 808.4C2334.6 810.9 2331.9 814.0 2330.4 816.8C2328.9 819.6 2327.6 823.2 2327.9 826.0C2328.2 828.8 2330.3 831.2 2332.1 833.5C2333.8 835.8 2336.8 838.7 2338.8 840.2C2340.8 841.7 2343.2 842.5 2345.5 843.5C2347.7 844.6 2351.1 846.3 2353.8 846.9C2356.6 847.4 2360.5 846.1 2362.2 846.9C2363.9 847.7 2364.2 850.1 2364.7 851.9C2365.2 853.7 2366.4 862.0 2366.4 862.0C2366.4 862.0 2370.3 859.0 2371.4 856.9C2372.5 854.9 2374.3 849.1 2375.6 845.2C2376.8 841.4 2377.8 836.0 2378.9 833.5C2380.1 831.0 2383.3 829.2 2383.9 826.8C2384.6 824.4 2382.1 821.6 2383.1 819.3C2384.1 817.0 2389.0 814.9 2390.6 811.8C2392.3 808.6 2393.2 803.5 2393.2 800.0C2393.2 796.6 2390.6 790.0 2390.6 790.0L2391.8 790.8C2391.8 790.8 2390.6 783.0 2390.2 779.1C2389.7 775.2 2389.9 770.1 2389.3 767.4C2388.7 764.7 2387.2 761.0 2386.0 759.8C2384.8 758.6 2382.6 758.8 2381.0 759.0C2379.3 759.3 2375.1 761.5 2375.1 761.5C2375.1 761.5 2372.9 758.9 2372.6 757.3C2372.3 755.7 2372.4 753.2 2373.4 751.5C2374.4 749.8 2377.8 747.9 2379.3 745.6C2380.8 743.3 2382.2 740.2 2382.6 737.3C2383.0 734.3 2382.3 730.5 2381.8 727.2C2381.2 723.9 2380.1 719.0 2379.3 717.2C2378.4 715.4 2375.1 713.0 2375.1 713.0C2375.1 713.0 2377.7 714.3 2378.4 715.5C2379.2 716.7 2380.5 719.9 2381.0 722.2C2381.4 724.5 2381.6 731.0 2381.8 732.2C2382.0 733.5 2383.5 735.6 2383.5 735.6C2383.5 735.6 2388.1 729.0 2390.2 726.4C2392.3 723.8 2394.5 721.3 2396.9 718.8C2399.2 716.4 2402.6 712.9 2405.2 710.5C2407.9 708.1 2411.2 705.9 2413.6 703.8C2415.9 701.7 2417.5 698.6 2420.3 697.1C2423.0 695.6 2427.0 695.6 2430.3 694.6C2433.6 693.6 2438.1 692.0 2440.4 691.2C2442.6 690.5 2444.8 689.6 2447.1 688.7C2449.3 687.9 2452.6 686.4 2455.4 685.4C2458.2 684.4 2463.1 683.0 2465.5 682.0C2467.8 681.1 2470.0 680.0 2472.2 678.7C2474.3 677.4 2477.4 675.1 2478.8 673.7C2480.3 672.2 2482.1 670.7 2482.2 668.6C2482.3 666.6 2479.9 660.3 2479.7 656.9C2479.4 653.6 2480.5 646.9 2480.5 646.9L2482.2 660.3C2482.2 660.3 2482.9 653.7 2483.9 651.9C2484.9 650.2 2488.9 648.6 2488.9 648.6C2488.9 648.6 2486.8 653.3 2487.2 655.3C2487.6 657.2 2491.4 660.3 2491.4 660.3C2491.4 660.3 2495.3 657.5 2497.3 656.1C2499.2 654.7 2502.0 653.0 2503.9 651.1C2505.9 649.1 2509.8 643.5 2509.8 643.5C2509.8 643.5 2512.5 644.2 2513.2 645.2C2513.8 646.3 2514.8 651.9 2514.8 651.9C2514.8 651.9 2515.8 647.6 2517.3 646.1C2518.8 644.6 2523.0 642.5 2525.7 641.0C2528.4 639.5 2531.3 638.2 2534.1 636.9C2536.9 635.5 2541.4 633.6 2542.4 632.7C2543.5 631.7 2543.6 629.9 2543.3 628.5C2542.9 627.1 2540.8 621.7 2539.1 620.1C2537.4 618.6 2534.6 618.9 2532.4 618.4C2530.2 617.9 2524.0 616.8 2524.0 616.8C2524.0 616.8 2524.7 614.4 2525.7 614.3C2526.7 614.1 2531.2 614.3 2533.2 615.1C2535.3 615.9 2537.0 617.5 2538.3 619.3C2539.5 621.1 2541.2 624.0 2540.8 626.0C2540.3 627.9 2537.7 629.7 2535.7 631.0C2533.7 632.3 2530.1 633.8 2527.4 634.3C2524.6 634.9 2520.9 635.0 2519.0 634.3C2517.1 633.7 2516.3 631.4 2514.8 630.2C2513.3 628.9 2509.9 626.7 2509.0 626.0C2508.0 625.2 2507.3 624.3 2506.5 623.5C2505.6 622.6 2502.3 619.3 2500.6 617.6C2498.9 615.9 2497.8 613.3 2495.6 612.6C2493.3 611.8 2483.0 611.8 2483.0 611.8C2483.0 611.8 2485.6 607.4 2486.4 605.1C2487.2 602.7 2487.4 597.4 2488.9 595.0C2490.3 592.6 2495.8 592.8 2495.6 590.0C2495.3 587.2 2485.5 554.7 2485.0 550.0C2484.5 545.3 2488.9 541.0 2490.0 536.7C2491.1 532.3 2490.6 527.4 2491.7 523.3C2492.8 519.2 2494.2 514.2 2496.7 511.7C2499.2 509.2 2503.9 510.3 2506.7 508.3C2509.4 506.4 2510.7 502.4 2513.3 500.0C2516.0 497.6 2523.8 492.8 2526.7 490.0C2529.5 487.2 2532.6 483.9 2533.3 480.0C2534.0 476.1 2531.2 465.4 2531.7 461.7C2532.1 458.0 2536.7 451.7 2536.7 451.7L2546.7 470.0C2546.7 470.0 2550.6 463.9 2553.3 461.7C2556.1 459.4 2560.4 458.9 2563.3 456.7C2566.3 454.4 2570.8 449.7 2573.3 446.7C2575.9 443.6 2577.4 439.7 2580.0 436.7C2582.6 433.6 2586.9 429.2 2590.0 426.7C2593.1 424.1 2597.8 423.1 2600.0 420.0C2602.2 416.9 2603.3 408.3 2603.3 408.3C2603.3 408.3 2599.3 408.2 2598.3 406.7C2597.4 405.2 2595.0 395.0 2595.0 395.0C2595.0 395.0 2605.5 394.1 2610.0 391.7C2614.5 389.3 2620.6 382.9 2623.3 380.0C2626.1 377.1 2629.5 372.4 2630.0 370.0C2630.5 367.6 2626.7 363.3 2626.7 363.3L2640.0 370.0C2640.0 370.0 2647.9 361.2 2651.7 356.7C2655.4 352.1 2659.6 346.2 2663.3 341.7C2667.1 337.1 2671.7 333.0 2675.0 328.3C2678.3 323.7 2683.3 313.3 2683.3 313.3L2673.3 310.0L2681.7 315.7L2691.7 306.7C2691.7 306.7 2688.9 325.2 2687.3 330.0C2685.8 334.8 2680.0 343.3 2680.0 343.3C2680.0 343.3 2693.4 339.2 2700.0 336.7C2706.6 334.2 2736.7 321.7 2736.7 321.7C2736.7 321.7 2723.0 332.7 2716.7 336.7C2710.3 340.6 2702.2 342.2 2696.7 346.7C2691.1 351.1 2687.5 357.6 2683.3 363.3C2679.1 369.1 2673.2 378.8 2670.0 383.3C2666.8 387.9 2662.7 393.3 2660.0 396.7C2657.3 400.1 2653.2 402.6 2651.7 406.7C2650.1 410.7 2647.8 420.7 2648.3 426.7C2648.9 432.6 2652.4 438.9 2655.0 443.3C2657.6 447.7 2665.0 455.0 2665.0 455.0C2665.0 455.0 2670.6 450.5 2673.3 451.7C2676.1 452.8 2680.8 461.9 2685.0 463.3C2689.2 464.7 2698.3 460.0 2698.3 460.0C2698.3 460.0 2695.9 454.4 2696.7 451.7C2697.5 449.0 2701.6 446.4 2703.3 443.3C2705.1 440.2 2713.6 423.2 2716.7 416.7C2719.7 410.1 2724.5 401.4 2725.0 396.7C2725.5 391.9 2720.0 383.3 2720.0 383.3C2720.0 383.3 2726.2 378.1 2730.0 376.7C2733.8 375.3 2746.7 373.3 2746.7 373.3C2746.7 373.3 2744.5 365.9 2746.7 363.3C2748.8 360.8 2760.5 355.1 2766.7 350.0C2772.8 344.9 2781.1 335.6 2786.7 330.0C2792.2 324.4 2798.2 318.0 2803.3 313.3C2808.4 308.6 2815.0 302.9 2819.3 300.0C2823.6 297.1 2832.8 298.5 2833.3 293.3C2833.9 288.2 2833.3 170.0 2833.3 170.0L2810.0 170.0C2810.0 170.0 2811.1 179.0 2810.0 183.3C2808.9 187.6 2805.0 192.0 2803.3 196.7C2801.7 201.4 2799.4 209.9 2798.3 216.7C2797.3 223.5 2794.8 244.7 2795.0 250.0C2795.2 255.3 2800.8 260.3 2800.0 265.0C2799.2 269.7 2790.0 278.3 2790.0 278.3L2780.0 271.7C2780.0 271.7 2773.8 279.8 2770.0 283.3C2766.2 286.8 2761.7 291.9 2756.7 293.3C2751.7 294.7 2745.6 291.2 2740.0 291.7C2734.4 292.2 2726.8 295.7 2720.0 296.7C2713.2 297.6 2693.3 298.3 2693.3 298.3L2700.0 286.7C2700.0 286.7 2693.5 289.4 2690.0 290.0C2686.5 290.6 2676.7 293.9 2671.7 291.7C2666.7 289.4 2664.2 281.4 2660.0 276.7C2655.8 272.0 2650.2 267.1 2646.7 263.3C2643.2 259.6 2641.1 252.8 2636.7 251.7C2632.2 250.6 2620.0 256.7 2620.0 256.7C2620.0 256.7 2624.9 250.2 2626.7 246.7C2628.5 243.1 2631.1 238.1 2631.7 233.3C2632.2 228.6 2629.7 222.2 2630.0 216.7C2630.3 211.1 2633.1 202.8 2633.3 200.0C2633.5 197.2 2631.7 191.7 2631.7 191.7L2628.3 208.3C2628.3 208.3 2617.5 207.8 2613.3 210.0C2609.2 212.2 2605.8 219.2 2603.3 221.7C2600.8 224.2 2595.0 228.3 2595.0 228.3C2595.0 228.3 2588.3 219.7 2583.3 218.3C2578.4 216.9 2565.4 217.4 2560.0 218.3C2554.6 219.3 2545.0 225.0 2545.0 225.0C2545.0 225.0 2552.7 215.7 2556.7 213.3C2560.6 211.0 2567.9 211.3 2570.0 210.0C2572.1 208.7 2570.9 203.9 2573.3 203.3C2575.7 202.7 2596.8 204.8 2603.3 201.7C2609.9 198.5 2613.3 187.5 2615.0 183.3C2616.7 179.2 2616.7 170.0 2616.7 170.0"/>
<path d="M2465.0 180.0C2465.0 180.0 2457.6 189.1 2455.0 193.3C2452.4 197.5 2450.4 202.2 2448.3 206.7C2446.2 211.2 2443.3 216.8 2441.7 221.7C2440.0 226.5 2440.0 231.8 2438.3 236.7C2436.7 241.5 2436.9 254.6 2430.0 256.7C2423.1 258.7 2371.7 256.7 2371.7 256.7L2430.0 258.3C2430.0 258.3 2426.8 261.3 2426.7 263.3C2426.5 265.3 2429.1 277.4 2428.3 283.3C2427.5 289.3 2424.1 294.5 2421.7 300.0C2419.2 305.5 2415.4 311.8 2413.3 316.7C2411.3 321.5 2410.9 327.1 2408.3 331.7C2405.8 336.3 2400.9 341.9 2396.7 346.7C2392.4 351.4 2385.8 358.0 2380.0 363.3C2374.2 368.6 2365.0 375.0 2360.0 380.0C2355.0 385.0 2350.8 392.0 2346.7 396.7C2342.5 401.4 2336.4 405.1 2333.3 410.0C2330.3 414.9 2329.8 422.2 2328.3 426.7C2326.8 431.2 2325.8 436.1 2323.3 440.0C2320.8 443.9 2315.9 446.9 2313.3 450.0C2310.8 453.1 2306.7 460.0 2306.7 460.0L2323.3 463.3C2323.3 463.3 2317.0 471.4 2313.3 475.0C2309.7 478.6 2304.5 482.9 2300.0 486.7C2295.5 490.5 2281.7 501.7 2281.7 501.7"/>
<path d="M2508.3 180.0C2508.3 180.0 2497.9 189.0 2493.3 193.3C2488.8 197.6 2484.3 202.1 2480.0 206.7C2475.7 211.2 2470.4 216.9 2466.7 221.7C2463.0 226.4 2459.9 231.6 2456.7 236.7C2453.5 241.7 2449.3 248.0 2446.7 253.3C2444.0 258.7 2441.8 264.3 2440.0 270.0C2438.2 275.7 2437.2 283.5 2435.0 290.0C2432.8 296.5 2428.9 304.5 2426.7 310.0C2424.4 315.5 2423.1 321.5 2420.0 326.7C2416.9 331.8 2410.7 339.0 2406.7 343.3C2402.6 347.6 2397.9 351.3 2393.3 355.0C2388.7 358.7 2379.3 364.9 2373.3 370.0C2367.4 375.1 2362.2 381.1 2356.7 386.7C2351.1 392.2 2343.4 399.3 2340.0 403.3C2336.6 407.4 2333.8 411.9 2331.7 416.7C2329.5 421.5 2328.2 428.8 2326.7 433.3C2325.2 437.8 2323.6 442.6 2321.7 446.7C2319.8 450.7 2315.0 458.3 2315.0 458.3"/>
<path d="M301.7 206.7C301.7 206.7 307.5 203.1 310.0 203.3C312.5 203.6 316.7 208.3 316.7 208.3C316.7 208.3 313.9 214.2 311.7 215.0C309.4 215.8 305.0 214.7 303.3 213.3C301.7 211.9 301.7 206.7 301.7 206.7"/>
<path d="M296.7 193.3L305.0 191.7L306.7 198.3L298.3 200.0L296.7 193.3"/>
<path d="M310.0 188.3L316.7 186.7L318.3 195.0L311.7 196.7L310.0 188.3"/>
<path d="M311.7 226.7L320.0 225.0C320.0 225.0 322.5 233.3 321.7 236.7C320.8 240.0 315.0 245.0 315.0 245.0C315.0 245.0 310.6 239.7 310.0 236.7C309.4 233.6 311.7 226.7 311.7 226.7"/>
<path d="M1433.3 1583.0C1433.3 1583.0 1428.5 1573.5 1426.7 1569.7C1424.9 1565.8 1421.7 1558.0 1421.7 1558.0C1421.7 1558.0 1427.5 1560.2 1430.0 1559.7C1432.5 1559.1 1436.7 1554.7 1436.7 1554.7L1438.3 1566.3L1448.3 1568.0"/>
<path d="M1416.7 1593.7 1433.3 1580.3"/>
<path d="M1288.3 1713.0C1288.3 1713.0 1284.0 1711.0 1281.7 1710.3C1279.4 1709.6 1274.3 1709.9 1271.7 1708.0C1269.1 1706.1 1266.0 1699.0 1266.0 1699.0C1266.0 1699.0 1271.9 1701.8 1275.0 1703.0C1278.1 1704.2 1285.0 1706.3 1285.0 1706.3"/>
<path d="M1303.3 1679.7L1295.0 1684.7L1286.7 1674.7C1286.7 1674.7 1293.5 1674.3 1296.7 1673.0C1299.8 1671.7 1306.7 1666.3 1306.7 1666.3L1302.7 1656.3L1315.0 1654.7L1310.0 1669.7"/>
<path d="M1323.3 1653.0L1325.0 1639.7C1325.0 1639.7 1331.9 1643.3 1335.0 1643.0C1338.1 1642.7 1343.3 1638.0 1343.3 1638.0C1343.3 1638.0 1336.4 1630.5 1335.0 1628.0C1333.6 1625.5 1333.3 1619.7 1333.3 1619.7C1333.3 1619.7 1341.8 1625.4 1346.7 1626.3C1351.5 1627.3 1366.7 1626.3 1366.7 1626.3L1356.7 1634.7"/>
<path d="M1288.3 1713.0C1288.3 1713.0 1284.7 1717.2 1283.3 1719.7C1282.0 1722.1 1279.4 1726.1 1279.3 1729.7C1279.3 1733.3 1281.5 1744.1 1282.7 1749.7C1283.8 1755.3 1284.7 1761.0 1286.7 1766.3C1288.6 1771.7 1293.7 1780.7 1295.0 1783.0C1296.3 1785.3 1299.3 1789.7 1299.3 1789.7"/>
<path d="M1673.3 1520.0C1673.3 1520.0 1679.0 1508.6 1681.7 1506.7C1684.4 1504.7 1688.5 1505.7 1691.7 1506.7C1694.9 1507.6 1699.6 1511.7 1703.3 1513.3C1707.1 1514.9 1715.0 1516.7 1715.0 1516.7C1715.0 1516.7 1707.3 1520.1 1703.3 1521.7C1699.4 1523.2 1691.7 1526.9 1688.3 1527.3C1684.9 1527.8 1680.5 1526.0 1678.3 1525.0C1676.2 1524.0 1673.3 1520.0 1673.3 1520.0"/>
<path d="M1763.3 1508.3 1773.3 1510.7"/>
<path d="M1786.7 1507.3 1800.0 1505.0"/>
<path d="M1804.0 1505.0 1820.0 1501.7"/>
<path d="M1757.3 1521.7C1757.3 1521.7 1761.2 1526.9 1761.7 1530.0C1762.1 1533.1 1761.0 1537.4 1760.0 1540.0C1759.0 1542.6 1755.0 1546.7 1755.0 1546.7"/>
<path d="M1965.0 1525.7C1965.0 1525.7 1971.9 1524.7 1975.0 1523.3C1978.1 1521.9 1985.0 1516.7 1985.0 1516.7"/>
<path d="M1580.0 1551.7C1580.0 1551.7 1589.0 1558.2 1591.7 1560.0C1594.4 1561.8 1600.0 1565.0 1600.0 1565.0C1600.0 1565.0 1598.9 1558.7 1596.7 1556.7C1594.5 1554.6 1586.7 1552.7 1586.7 1552.7"/>
<path d="M2280.0 1751.3C2280.0 1751.3 2275.5 1765.4 2273.3 1769.7C2271.2 1773.9 2265.0 1781.3 2265.0 1781.3"/>
<path d="M2253.3 1789.7 2236.7 1799.7"/>
<path d="M2224.0 1801.3 2220.0 1807.0"/>
<path d="M2211.7 1808.0 2200.0 1818.0"/>
<path d="M2206.7 1543.0C2206.7 1543.0 2213.4 1554.1 2216.7 1559.7C2219.9 1565.3 2225.4 1575.3 2230.0 1583.0C2234.6 1590.7 2241.7 1601.9 2246.7 1609.7C2251.6 1617.5 2261.7 1633.0 2261.7 1633.0"/>
<path d="M2346.7 1904.7 2368.3 1912.3"/>
<path d="M2406.7 1910.3C2406.7 1910.3 2421.6 1905.3 2426.7 1905.7C2431.7 1906.1 2435.6 1910.7 2440.0 1913.0C2444.4 1915.3 2450.0 1918.0 2453.3 1919.7C2456.7 1921.3 2459.8 1923.6 2463.3 1924.7C2466.9 1925.7 2478.3 1927.0 2478.3 1927.0L2476.0 1936.3L2463.3 1932.3"/>
<path d="M2346.7 1903.7 2368.3 1912.3"/>
<path d="M2406.7 1909.7 2430.0 1912.3"/>
<path d="M2196.7 1938.7 2226.7 1939.7"/>
<path d="M2354.0 1006.9C2354.0 1006.9 2354.2 1011.5 2354.6 1013.8C2355.0 1016.1 2355.3 1018.6 2356.3 1020.7C2357.4 1022.8 2359.4 1024.6 2361.0 1026.5C2362.5 1028.4 2364.9 1031.0 2366.7 1033.4C2368.6 1035.7 2371.7 1039.9 2373.6 1042.6C2375.6 1045.3 2378.5 1049.5 2379.4 1050.7C2380.3 1051.9 2382.2 1054.1 2382.2 1054.1"/>
<path d="M2382.2 1054.1C2382.2 1054.1 2380.3 1051.9 2379.4 1050.7C2378.5 1049.5 2375.0 1044.3 2373.6 1042.6C2372.2 1040.9 2370.8 1039.2 2369.0 1038.0C2367.2 1036.7 2364.3 1035.2 2362.1 1034.5C2359.9 1033.9 2356.7 1034.1 2355.2 1034.0C2353.7 1033.8 2350.6 1033.4 2350.6 1033.4L2352.3 1038.0L2348.3 1039.7L2350.6 1043.2L2344.8 1042.0C2344.8 1042.0 2344.6 1044.7 2343.7 1045.5C2342.8 1046.3 2340.2 1046.1 2339.1 1047.2C2337.9 1048.3 2337.9 1050.7 2336.8 1051.8C2335.6 1053.0 2333.9 1054.1 2332.2 1054.1C2330.5 1054.1 2327.7 1052.6 2326.4 1051.8C2325.2 1051.0 2324.2 1049.7 2323.5 1048.4C2322.9 1047.0 2322.4 1043.7 2322.4 1043.7C2322.4 1043.7 2323.7 1049.3 2324.1 1051.8C2324.6 1054.3 2325.3 1059.3 2325.3 1059.3C2325.3 1059.3 2329.1 1060.2 2331.0 1059.9C2332.9 1059.5 2336.4 1057.9 2339.1 1057.0C2341.8 1056.1 2346.3 1054.9 2348.3 1054.1C2350.3 1053.3 2352.6 1051.7 2354.0 1051.2C2355.5 1050.7 2357.5 1050.2 2358.6 1050.7C2359.8 1051.1 2360.7 1052.8 2361.0 1054.1C2361.3 1055.5 2360.8 1058.7 2361.0 1061.0C2361.1 1063.3 2362.1 1067.9 2362.1 1067.9C2362.1 1067.9 2365.0 1067.9 2365.6 1066.8C2366.1 1065.7 2366.0 1061.8 2366.1 1059.9C2366.2 1057.9 2365.9 1055.4 2366.1 1054.1C2366.4 1052.8 2366.9 1051.5 2367.9 1050.7C2368.8 1049.8 2372.5 1048.4 2372.5 1048.4C2372.5 1048.4 2375.2 1050.4 2375.9 1051.8C2376.6 1053.3 2378.0 1057.6 2378.2 1059.9C2378.5 1062.2 2378.4 1064.7 2377.6 1066.8C2376.9 1068.9 2374.8 1070.7 2373.6 1072.5C2372.4 1074.4 2371.3 1076.4 2370.2 1078.3C2369.0 1080.2 2367.8 1082.4 2366.7 1084.0C2365.6 1085.6 2364.8 1087.7 2363.3 1088.6C2361.7 1089.6 2359.5 1089.7 2357.5 1089.8C2355.5 1089.9 2352.5 1089.4 2350.6 1089.2C2348.7 1089.0 2346.1 1089.5 2344.8 1088.6C2343.6 1087.8 2343.9 1084.9 2343.1 1084.0C2342.3 1083.1 2339.7 1082.9 2339.7 1082.9C2339.7 1082.9 2338.0 1084.7 2337.9 1085.8C2337.8 1086.9 2339.1 1089.8 2339.1 1089.8C2339.1 1089.8 2336.1 1090.9 2334.5 1091.0C2332.9 1091.0 2328.3 1090.8 2325.3 1090.4C2322.2 1090.0 2316.1 1088.6 2316.1 1088.6C2316.1 1088.6 2319.7 1091.4 2321.8 1092.1C2323.9 1092.8 2327.2 1092.8 2329.9 1093.3C2332.5 1093.7 2336.8 1094.6 2339.1 1095.0C2341.4 1095.4 2344.9 1095.6 2346.0 1096.1C2347.1 1096.6 2348.3 1097.8 2348.3 1099.0C2348.3 1100.2 2346.5 1103.3 2346.0 1104.8C2345.5 1106.3 2345.2 1108.0 2344.8 1109.4C2344.5 1110.7 2344.6 1112.3 2343.7 1113.4C2342.8 1114.5 2340.6 1115.9 2339.1 1116.3C2337.6 1116.7 2336.0 1116.0 2334.5 1115.7C2333.0 1115.4 2329.8 1114.7 2327.6 1114.0C2325.3 1113.2 2320.7 1111.1 2320.7 1111.1C2320.7 1111.1 2323.5 1114.7 2325.3 1116.3C2327.0 1117.8 2330.0 1120.7 2332.2 1121.5C2334.4 1122.2 2336.9 1121.5 2339.1 1120.9C2341.3 1120.2 2343.7 1118.5 2346.0 1117.4C2348.3 1116.4 2351.0 1114.8 2352.9 1114.6C2354.8 1114.3 2358.6 1115.7 2358.6 1115.7C2358.6 1115.7 2357.6 1119.2 2356.9 1120.9C2356.2 1122.6 2355.7 1125.2 2354.0 1126.6C2352.4 1128.0 2344.8 1131.2 2344.8 1131.2C2344.8 1131.2 2348.8 1132.6 2350.6 1133.5C2352.4 1134.5 2355.8 1137.0 2355.8 1137.0"/>
<path d="M2370.6 897.1C2370.6 897.1 2371.7 903.8 2371.4 907.1C2371.1 910.5 2370.0 915.0 2368.9 918.8C2367.8 922.7 2364.7 930.6 2364.7 930.6C2364.7 930.6 2362.9 928.5 2363.0 927.2C2363.2 926.0 2365.5 917.2 2366.4 913.8C2367.2 910.5 2368.3 906.0 2368.9 903.8C2369.4 901.6 2370.6 897.1 2370.6 897.1"/>
<path d="M2545.0 460.0C2545.0 460.0 2549.8 468.0 2550.0 470.0C2550.2 472.0 2546.7 475.0 2546.7 475.0"/>
<path d="M2558.3 451.7L2565.0 458.3L2560.0 463.3L2556.7 456.7"/>
<path d="M2815.0 238.3L2819.3 235.0L2819.3 256.7C2819.3 256.7 2814.0 252.9 2813.3 250.0C2812.6 247.1 2815.0 238.3 2815.0 238.3"/>
<path d="M1956.0 192.7 1970.0 178.3"/>
<path d="M1988.3 178.3C1988.3 178.3 1998.8 187.9 2003.3 191.7C2007.9 195.5 2017.3 202.7 2017.3 202.7"/>
<path d="M345.0 1548.0L353.3 1547.0C353.3 1547.0 353.5 1553.5 354.0 1556.3C354.5 1559.2 356.7 1564.7 356.7 1564.7C356.7 1564.7 351.7 1564.0 350.0 1562.3C348.3 1560.7 345.5 1554.6 345.0 1553.0C344.5 1551.4 345.0 1548.0 345.0 1548.0"/>
<path d="M235.0 163.3C235.0 163.3 232.3 174.7 235.0 179.3C237.7 183.9 247.9 190.5 253.3 195.0C258.8 199.5 266.9 206.1 270.0 208.3C273.1 210.6 277.5 213.5 280.0 214.0C282.5 214.5 287.3 211.7 287.3 211.7C287.3 211.7 286.3 203.9 286.0 200.0C285.7 196.1 285.1 184.7 285.0 179.3C284.9 174.0 285.0 163.3 285.0 163.3L235.0 163.3Z"/>
<path d="M158.3 1147.3C158.3 1147.3 161.9 1145.4 163.3 1146.0C164.7 1146.6 166.4 1149.2 166.7 1150.7C166.9 1152.2 165.0 1155.0 165.0 1155.0C165.0 1155.0 160.4 1154.6 159.3 1153.3C158.2 1152.1 158.3 1147.3 158.3 1147.3Z"/>
<path d="M213.3 1150.7C213.3 1150.7 219.8 1154.3 221.7 1156.7C223.6 1159.0 225.0 1165.0 225.0 1165.0C225.0 1165.0 218.9 1163.6 216.7 1161.7C214.4 1159.7 212.0 1154.3 211.7 1153.3C211.4 1152.3 213.3 1150.7 213.3 1150.7Z"/>
<path d="M206.0 1176.7C206.0 1176.7 208.8 1182.3 210.0 1185.0C211.2 1187.7 213.3 1193.3 213.3 1193.3L207.3 1193.3L202.7 1179.3L206.0 1176.7Z"/>
<path d="M130.0 1088.3C130.0 1088.3 134.6 1089.1 136.7 1090.0C138.8 1090.9 142.8 1093.8 145.0 1095.0C147.2 1096.2 151.7 1098.3 151.7 1098.3L150.0 1104.0C150.0 1104.0 143.9 1104.6 141.7 1103.3C139.4 1102.1 138.4 1098.9 136.7 1096.7C135.0 1094.5 130.0 1088.3 130.0 1088.3Z"/>
<path d="M156.0 1096.0C156.0 1096.0 162.1 1094.1 165.0 1095.0C167.9 1095.9 175.0 1101.7 175.0 1101.7C175.0 1101.7 174.6 1104.8 173.3 1105.0C172.1 1105.2 164.6 1105.5 161.7 1104.0C158.8 1102.5 156.0 1096.0 156.0 1096.0Z"/>
<path d="M146.7 1411.0C146.7 1411.0 150.9 1411.7 151.7 1413.3C152.4 1415.0 152.7 1420.9 152.3 1423.3C151.9 1425.8 149.8 1429.2 149.0 1430.0C148.2 1430.8 145.7 1430.0 145.7 1430.0C145.7 1430.0 143.2 1418.9 143.3 1416.7C143.4 1414.5 146.7 1411.0 146.7 1411.0Z"/>
<path d="M300.0 1506.7C300.0 1506.7 303.7 1508.3 304.0 1510.0C304.3 1511.7 303.9 1521.3 303.3 1523.3C302.8 1525.4 299.3 1528.3 299.3 1528.3L291.0 1521.7C291.0 1521.7 296.2 1517.5 297.7 1515.0C299.2 1512.5 300.0 1506.7 300.0 1506.7Z"/>
<path d="M407.3 1455.0C407.3 1455.0 411.7 1453.8 413.3 1455.0C414.9 1456.2 417.3 1460.4 418.3 1463.3C419.3 1466.3 417.9 1470.4 419.3 1472.7C420.7 1474.9 425.9 1474.0 426.7 1476.7C427.4 1479.4 425.0 1493.3 425.0 1493.3C425.0 1493.3 419.1 1486.9 416.7 1483.3C414.2 1479.8 411.5 1474.9 410.0 1471.7C408.5 1468.5 407.0 1463.9 406.7 1461.7C406.3 1459.5 407.3 1455.0 407.3 1455.0Z"/>
<path d="M464.0 1491.7C466.2 1490.1 473.3 1490.7 473.3 1490.7C473.3 1490.7 473.5 1504.2 472.7 1508.3C471.9 1512.5 467.7 1520.0 467.7 1520.0C467.7 1520.0 463.4 1518.2 461.7 1516.7C459.9 1515.2 456.3 1512.8 456.0 1510.0C455.7 1507.2 458.8 1502.8 460.0 1500.0C461.2 1497.2 461.8 1493.2 464.0 1491.7Z"/>
<path d="M468.3 1642.3C468.3 1642.3 471.1 1647.0 471.7 1649.7C472.2 1652.3 472.7 1663.0 472.7 1663.0L468.3 1663.7C468.3 1663.7 464.3 1656.6 464.3 1653.0C464.3 1649.4 468.3 1642.3 468.3 1642.3Z"/>
<path d="M490.0 1713.0C490.0 1713.0 491.9 1704.9 493.3 1703.0C494.8 1701.1 500.0 1700.3 500.0 1700.3C500.0 1700.3 499.6 1704.7 498.3 1706.3C497.0 1708.0 490.0 1713.0 490.0 1713.0Z"/>
<path d="M510.0 1768.0L515.0 1767.0L518.3 1781.3L513.3 1782.3C513.3 1782.3 509.5 1776.9 509.0 1774.7C508.5 1772.5 510.0 1768.0 510.0 1768.0Z"/>
<path d="M546.7 1823.0C546.7 1823.0 549.5 1822.7 550.0 1823.7C550.5 1824.7 553.3 1836.3 553.3 1836.3L548.3 1837.3L546.7 1823.0Z"/>
<path d="M430.0 1738.0C430.0 1738.0 425.4 1752.3 423.3 1756.3C421.3 1760.3 415.0 1767.0 415.0 1767.0C415.0 1767.0 419.8 1767.7 420.7 1769.7C421.5 1771.6 420.2 1781.7 423.3 1786.3C426.5 1791.0 443.3 1803.0 443.3 1803.0C443.3 1803.0 442.8 1799.3 441.7 1798.0C440.5 1796.7 429.4 1789.9 426.7 1784.7C423.9 1779.4 424.8 1769.8 425.0 1766.3C425.2 1762.8 427.7 1759.8 428.3 1756.3C428.9 1752.9 430.0 1738.0 430.0 1738.0Z"/>
<path d="M2100.0 1959.7C2100.0 1959.7 2109.8 1944.7 2115.0 1940.3C2120.2 1935.9 2127.0 1933.8 2133.3 1931.3C2139.7 1928.9 2153.1 1925.7 2160.0 1923.0C2166.9 1920.3 2174.6 1915.5 2180.0 1913.0C2185.4 1910.5 2190.8 1907.3 2196.7 1906.3C2202.6 1905.3 2224.4 1905.2 2230.0 1904.7C2235.6 1904.1 2243.9 1901.1 2246.7 1901.3C2249.4 1901.5 2250.6 1906.5 2253.3 1906.3C2256.1 1906.2 2265.6 1901.7 2270.0 1900.3C2274.4 1899.0 2279.5 1896.6 2283.3 1897.0C2287.2 1897.4 2289.6 1901.8 2293.3 1903.0C2297.0 1904.2 2302.2 1904.9 2306.7 1904.7C2311.1 1904.4 2315.4 1901.3 2320.0 1901.3C2324.6 1901.3 2331.3 1902.8 2336.7 1904.7C2342.0 1906.5 2348.0 1909.8 2353.3 1913.0C2358.7 1916.2 2366.1 1924.9 2373.3 1926.3C2380.6 1927.7 2388.9 1921.6 2396.7 1921.3C2404.4 1921.1 2412.9 1923.3 2420.0 1924.7C2427.1 1926.0 2436.9 1928.6 2441.0 1929.7C2445.1 1930.7 2449.3 1931.7 2453.3 1933.0C2457.4 1934.3 2463.4 1937.0 2466.7 1938.0C2469.9 1939.0 2474.0 1938.2 2476.7 1940.3C2479.3 1942.5 2493.3 1959.7 2493.3 1959.7L2100.0 1959.7Z"/>
<path d="M2333.3 1652.0C2333.3 1652.0 2344.4 1661.2 2350.0 1661.3C2355.6 1661.5 2361.0 1655.5 2366.7 1653.0C2372.3 1650.5 2393.3 1642.3 2395.0 1641.3C2396.7 1640.4 2396.0 1635.7 2396.0 1635.7C2396.0 1635.7 2373.9 1641.8 2370.0 1642.3C2366.1 1642.9 2360.1 1641.6 2358.3 1641.3C2356.6 1641.1 2353.3 1639.7 2353.3 1639.7L2354.0 1651.3C2354.0 1651.3 2346.8 1654.6 2343.3 1654.7C2339.9 1654.8 2333.3 1652.0 2333.3 1652.0Z"/>
<path d="M2390.0 1625.7C2390.0 1625.7 2406.8 1620.2 2413.3 1621.3C2419.9 1622.4 2425.3 1630.0 2430.0 1632.3C2434.7 1634.7 2441.8 1634.1 2445.0 1637.0C2448.2 1639.9 2449.4 1645.6 2449.3 1649.7C2449.2 1653.7 2444.8 1657.1 2444.3 1661.3C2443.9 1665.5 2446.0 1680.3 2446.0 1680.3L2432.7 1673.7C2432.7 1673.7 2438.2 1668.2 2438.7 1664.7C2439.2 1661.1 2437.9 1648.9 2436.7 1644.7C2435.4 1640.4 2432.5 1636.7 2429.3 1633.7C2426.1 1630.6 2421.5 1627.0 2416.7 1625.7C2411.8 1624.4 2403.3 1625.7 2400.0 1625.7C2396.7 1625.7 2390.0 1625.7 2390.0 1625.7Z"/>
<path d="M2398.3 1736.3C2398.3 1736.3 2406.7 1735.9 2410.0 1738.0C2413.3 1740.1 2416.4 1746.0 2420.0 1749.7C2423.6 1753.3 2430.8 1757.5 2433.3 1761.3C2435.9 1765.1 2437.8 1770.5 2436.7 1774.7C2435.6 1778.8 2428.5 1784.7 2426.7 1786.3C2424.8 1788.0 2422.2 1789.9 2420.0 1789.7C2417.8 1789.4 2415.8 1785.9 2413.3 1784.7C2410.8 1783.4 2402.5 1780.9 2400.0 1779.7C2397.5 1778.4 2393.3 1774.7 2393.3 1774.7L2403.3 1771.3C2403.3 1771.3 2400.0 1767.2 2400.0 1764.7C2400.0 1762.2 2403.6 1757.0 2403.3 1753.0C2403.1 1749.0 2398.3 1736.3 2398.3 1736.3Z"/>
<path d="M2424.0 1793.0C2424.0 1793.0 2436.0 1786.3 2440.0 1786.3C2444.0 1786.3 2447.5 1789.8 2450.0 1793.0C2452.5 1796.2 2457.5 1806.4 2458.3 1809.7C2459.2 1812.9 2458.9 1817.6 2456.7 1819.7C2454.4 1821.8 2445.0 1822.3 2445.0 1822.3C2445.0 1822.3 2442.1 1813.0 2440.0 1809.7C2437.9 1806.4 2434.3 1804.1 2431.7 1801.3C2429.1 1798.6 2424.0 1793.0 2424.0 1793.0Z"/>
<path d="M2437.3 1736.3C2437.3 1736.3 2445.7 1731.7 2448.3 1731.3C2451.0 1731.0 2456.0 1733.7 2456.0 1733.7C2456.0 1733.7 2449.8 1738.6 2446.7 1739.0C2443.6 1739.4 2437.3 1736.3 2437.3 1736.3Z"/>
<path d="M2476.7 1703.0L2478.3 1693.0C2478.3 1693.0 2483.5 1697.7 2486.7 1699.0C2489.8 1700.3 2498.1 1700.8 2503.3 1703.0C2508.6 1705.2 2516.8 1708.6 2520.0 1713.0C2523.2 1717.4 2522.1 1725.2 2522.7 1729.7C2523.3 1734.1 2524.0 1743.0 2524.0 1743.0L2511.7 1735.7L2518.3 1733.0C2518.3 1733.0 2519.4 1719.2 2516.7 1714.7C2513.9 1710.1 2507.1 1707.8 2501.7 1705.7C2496.3 1703.5 2485.6 1701.6 2483.3 1701.3C2481.1 1701.1 2476.7 1703.0 2476.7 1703.0Z"/>
<path d="M2546.7 1736.3L2551.7 1733.0C2551.7 1733.0 2561.9 1745.4 2566.7 1749.7C2571.5 1753.9 2582.7 1760.3 2582.7 1760.3L2569.3 1766.3L2575.0 1760.3C2575.0 1760.3 2565.8 1754.8 2561.7 1751.3C2557.6 1747.9 2548.9 1738.6 2548.3 1738.0C2547.8 1737.4 2546.7 1736.3 2546.7 1736.3Z"/>
<path d="M2626.0 1751.3L2631.7 1749.7C2631.7 1749.7 2633.6 1754.1 2633.3 1756.3C2633.1 1758.6 2630.0 1763.0 2630.0 1763.0L2626.7 1762.3L2626.0 1751.3Z"/>
<path d="M2546.7 1803.0C2546.7 1803.0 2554.5 1804.4 2558.3 1805.7C2562.1 1806.9 2571.7 1811.3 2571.7 1811.3C2571.7 1811.3 2566.1 1813.4 2563.3 1813.0C2560.5 1812.6 2549.8 1808.9 2548.3 1808.0C2546.8 1807.1 2546.7 1803.0 2546.7 1803.0Z"/>
<path d="M2586.7 1792.3C2586.7 1792.3 2596.2 1801.7 2600.0 1806.3C2603.8 1811.0 2606.4 1818.2 2610.0 1821.3C2613.6 1824.4 2620.1 1823.9 2623.3 1826.3C2626.5 1828.7 2630.0 1836.3 2630.0 1836.3C2630.0 1836.3 2621.3 1828.4 2616.7 1826.3C2612.0 1824.3 2601.7 1823.7 2601.7 1823.7C2601.7 1823.7 2605.9 1818.8 2605.0 1816.3C2604.1 1813.8 2595.6 1804.3 2593.3 1801.3C2591.1 1798.4 2586.7 1792.3 2586.7 1792.3Z"/>
<path d="M2659.3 1829.0C2659.3 1829.0 2666.3 1831.8 2670.0 1832.3C2673.7 1832.9 2678.9 1832.8 2681.7 1832.3C2684.4 1831.9 2689.3 1829.0 2689.3 1829.0C2689.3 1829.0 2694.4 1837.0 2694.0 1841.3C2693.6 1845.7 2689.9 1851.8 2686.7 1856.3C2683.4 1860.9 2673.3 1870.3 2673.3 1870.3C2673.3 1870.3 2677.7 1860.8 2680.0 1856.3C2682.3 1851.8 2687.3 1843.0 2687.3 1843.0C2687.3 1843.0 2683.2 1837.1 2680.0 1836.3C2676.8 1835.5 2666.1 1838.0 2663.3 1837.0C2660.5 1836.0 2659.3 1829.0 2659.3 1829.0Z"/>
<path d="M2734.3 1834.7C2734.3 1834.7 2745.6 1832.1 2750.0 1832.3C2754.4 1832.6 2762.7 1836.3 2762.7 1836.3C2762.7 1836.3 2757.7 1838.7 2755.0 1839.0C2752.3 1839.3 2735.0 1839.7 2735.0 1839.7L2734.3 1834.7Z"/>
<path d="M2726.7 1928.0C2727.3 1924.9 2730.1 1921.1 2733.3 1919.7C2736.6 1918.3 2745.0 1920.5 2750.0 1918.0C2755.0 1915.5 2763.3 1904.7 2763.3 1904.7C2763.3 1904.7 2766.6 1912.4 2766.0 1916.3C2765.4 1920.2 2763.5 1925.3 2760.0 1928.0C2756.5 1930.7 2743.4 1935.2 2740.0 1936.3C2736.6 1937.4 2729.3 1938.0 2729.3 1938.0C2729.3 1938.0 2726.0 1931.1 2726.7 1928.0Z"/>
<path d="M2756.0 1891.3C2756.0 1891.3 2759.9 1887.5 2761.7 1887.3C2763.4 1887.2 2766.7 1890.3 2766.7 1890.3L2760.0 1896.3L2756.0 1891.3Z"/>
<path d="M2792.7 1859.7C2792.7 1859.7 2797.7 1860.6 2800.0 1860.3C2802.3 1860.1 2806.7 1858.0 2806.7 1858.0C2806.7 1858.0 2803.6 1862.4 2801.7 1863.7C2799.7 1864.9 2795.0 1865.7 2795.0 1865.7L2792.7 1859.7Z"/>
<path d="M2810.0 1846.3L2819.3 1851.3C2819.3 1851.3 2820.1 1848.8 2819.3 1848.0C2818.5 1847.2 2811.7 1843.7 2811.7 1843.7L2810.0 1846.3Z"/>
<path d="M2671.7 236.7C2671.7 236.7 2674.5 250.0 2676.7 253.3C2678.8 256.7 2683.5 258.9 2686.7 260.0C2689.8 261.1 2693.3 260.3 2696.7 260.0C2700.0 259.7 2713.0 258.5 2720.0 256.7C2727.0 254.8 2733.3 251.1 2740.0 248.3C2746.7 245.5 2763.3 238.3 2763.3 238.3C2763.3 238.3 2754.7 245.8 2753.3 250.0C2751.9 254.2 2756.1 259.0 2755.0 263.3C2753.9 267.7 2750.3 274.2 2746.7 276.7C2743.1 279.2 2737.2 279.4 2733.3 278.3C2729.4 277.2 2723.3 270.0 2723.3 270.0C2723.3 270.0 2717.2 275.8 2713.3 276.7C2709.4 277.5 2703.2 276.6 2700.0 275.0C2696.8 273.4 2696.7 267.5 2693.3 266.7C2690.0 265.8 2684.4 270.3 2680.0 270.0C2675.6 269.7 2669.2 267.8 2666.7 265.0C2664.2 262.2 2664.7 257.2 2665.0 253.3C2665.3 249.4 2667.6 243.5 2668.3 241.7C2669.1 239.8 2671.7 236.7 2671.7 236.7Z"/>
<path d="M2386.0 733.9C2387.7 730.2 2392.2 727.4 2395.2 725.5C2398.2 723.7 2402.4 723.2 2405.2 722.2C2408.0 721.2 2410.8 720.0 2413.6 718.8C2416.4 717.7 2420.3 716.1 2423.6 714.7C2427.0 713.3 2430.4 712.0 2433.7 710.5C2437.0 709.0 2440.9 707.7 2443.7 705.5C2446.5 703.2 2450.4 697.1 2450.4 697.1C2450.4 697.1 2448.8 699.9 2447.9 701.3C2447.0 702.6 2444.8 705.0 2443.7 707.1C2442.6 709.3 2441.2 714.7 2441.2 714.7C2441.2 714.7 2446.4 712.1 2448.7 710.5C2451.1 708.9 2454.1 705.8 2457.1 703.8C2460.1 701.8 2468.8 697.1 2468.8 697.1C2468.8 697.1 2465.5 700.4 2463.8 702.1C2462.1 703.8 2457.0 709.2 2453.7 712.2C2450.5 715.1 2447.0 717.9 2443.7 720.5C2440.4 723.1 2437.0 725.5 2433.7 728.1C2430.3 730.6 2425.8 734.1 2423.6 735.6C2421.5 737.1 2419.3 738.6 2416.9 739.8C2414.6 740.9 2410.3 742.6 2406.9 743.9C2403.5 745.3 2397.4 747.4 2395.2 748.1C2393.0 748.8 2390.1 749.5 2388.5 749.8C2386.8 750.2 2383.5 750.6 2383.5 750.6C2383.5 750.6 2384.2 737.7 2386.0 733.9Z"/>
<path d="M2509.8 666.1C2509.8 666.1 2511.6 661.8 2513.2 660.3C2514.7 658.7 2517.4 657.3 2519.0 656.9C2520.7 656.6 2524.0 657.8 2524.0 657.8C2524.0 657.8 2522.0 660.8 2520.7 662.0C2519.4 663.2 2515.9 665.5 2514.8 666.1C2513.8 666.8 2511.5 667.8 2511.5 667.8L2509.8 666.1Z"/>
<path d="M2537.4 661.1C2537.4 661.1 2543.3 656.2 2544.1 655.3C2544.9 654.3 2545.8 651.9 2545.8 651.9L2550.8 657.8C2550.8 657.8 2549.7 661.2 2548.3 662.0C2546.8 662.7 2542.0 662.9 2540.8 662.8C2539.5 662.7 2537.4 661.1 2537.4 661.1Z"/>
<path d="M2610.7 408.3L2615.0 406.7C2615.0 406.7 2617.0 415.0 2616.7 416.7C2616.4 418.4 2612.7 420.0 2612.7 420.0L2610.7 408.3Z"/>
<path d="M2743.3 181.7C2743.3 181.7 2748.4 181.7 2750.0 183.3C2751.6 185.0 2753.3 191.7 2753.3 191.7L2746.7 195.0C2746.7 195.0 2744.5 190.5 2744.0 188.3C2743.5 186.2 2743.3 181.7 2743.3 181.7Z"/>
</g>
<g fill="none" stroke="#000" stroke-width="6.5" stroke-linejoin="round" stroke-linecap="round">
<path d="M2400.0 345.0C2400.0 345.0 2391.3 354.1 2386.7 358.3C2382.0 362.5 2372.1 369.8 2366.7 375.0C2361.3 380.2 2356.5 386.5 2351.7 391.7C2346.8 396.8 2339.9 402.2 2336.7 406.7C2333.5 411.1 2331.9 416.8 2330.0 421.7C2328.1 426.6 2327.1 431.9 2325.0 436.7C2322.9 441.5 2318.6 448.7 2316.7 451.7C2314.7 454.7 2310.0 460.0 2310.0 460.0"/>
<path d="M2310.0 460.0L2323.3 463.3C2323.3 463.3 2317.0 471.4 2313.3 475.0C2309.7 478.6 2304.5 482.9 2300.0 486.7C2295.5 490.5 2281.7 501.7 2281.7 501.7"/>
<path d="M2430.0 257.3C2430.0 257.3 2408.9 257.4 2400.0 257.3C2391.1 257.2 2373.3 256.7 2373.3 256.7"/>
<path d="M1956.0 192.7C1956.0 192.7 1961.1 187.2 1963.3 185.0C1965.5 182.8 1970.0 178.3 1970.0 178.3"/>
<path d="M1988.3 178.3C1988.3 178.3 1998.8 187.9 2003.3 191.7C2007.9 195.5 2017.3 202.7 2017.3 202.7"/>
<path d="M2483.9 648.6L2488.9 647.7C2488.9 647.7 2491.3 651.5 2491.4 653.6C2491.5 655.7 2491.0 659.7 2489.7 662.0C2488.5 664.2 2483.9 667.0 2483.9 667.0C2483.9 667.0 2481.6 662.5 2481.4 660.3C2481.1 658.0 2481.8 655.3 2482.2 653.6C2482.6 651.9 2483.9 648.6 2483.9 648.6"/>
<path d="M2522.4 615.1C2522.4 615.1 2525.7 614.0 2527.4 614.3C2529.0 614.5 2532.4 616.8 2532.4 616.8"/>
<path d="M287.6 180.4C287.6 180.4 287.7 188.0 288.1 191.8C288.4 195.5 289.7 203.5 289.7 203.5"/>
<path d="M297.3 208.5C297.3 208.5 301.7 203.9 303.9 203.5C306.2 203.0 308.8 205.1 310.6 206.0C312.4 206.9 315.7 209.3 315.7 209.3C315.7 209.3 312.2 212.0 310.6 213.5C309.0 215.0 305.6 218.5 305.6 218.5"/>
<path d="M300.6 213.5 307.3 211.8"/>
<path d="M317.3 220.2C317.3 220.2 312.0 224.1 310.6 226.9C309.2 229.7 308.3 234.5 309.0 236.9C309.7 239.4 314.8 242.0 314.8 242.0C314.8 242.0 319.6 239.2 320.7 236.9C321.8 234.7 322.0 230.3 321.5 228.6C321.0 226.9 317.3 225.2 317.3 225.2"/>
<path d="M310.6 242.0C310.6 242.0 315.8 247.3 317.3 248.6C318.9 250.0 322.4 252.0 322.4 252.0C322.4 252.0 320.4 255.6 319.0 257.0C317.6 258.4 314.0 260.4 314.0 260.4"/>
<path d="M297.3 257.0C297.3 257.0 290.3 261.1 287.2 263.7C284.1 266.3 278.4 272.3 277.2 273.7C276.0 275.2 274.7 278.8 274.7 278.8C274.7 278.8 279.8 279.6 282.2 278.8C284.6 277.9 288.9 273.7 288.9 273.7"/>
<path d="M305.6 263.7C305.6 263.7 300.1 268.5 298.9 270.4C297.7 272.4 297.0 274.9 297.3 277.1C297.5 279.3 300.6 283.8 300.6 283.8C300.6 283.8 296.0 288.1 293.9 290.5C291.8 292.8 287.2 298.8 287.2 298.8C287.2 298.8 280.4 294.5 278.8 293.8C277.3 293.1 273.8 293.0 273.8 293.0C273.8 293.0 280.2 286.5 282.2 285.5C284.2 284.5 288.9 285.5 288.9 285.5"/>
<path d="M310.6 260.4C310.6 260.4 308.9 267.0 308.1 270.4C307.4 273.8 306.5 281.6 305.6 283.8C304.7 286.0 300.6 288.8 300.6 288.8"/>
</g>
<g fill="none" stroke="#000" stroke-width="4.4" stroke-dasharray="6 5.04" stroke-linecap="butt" stroke-linejoin="round">
<path d="M236.7 191.7C236.7 191.7 247.8 199.4 253.3 203.3C258.9 207.2 265.8 212.4 270.0 215.0C274.2 217.6 280.1 220.8 283.3 221.7C286.5 222.6 293.3 221.7 293.3 221.7C293.3 221.7 293.9 213.6 295.0 210.0C296.1 206.4 298.9 203.2 300.0 200.0C301.1 196.8 299.7 192.5 301.7 190.0C303.6 187.5 308.3 185.1 311.7 185.0C315.0 184.9 321.7 189.3 321.7 189.3"/>
<path d="M1632.5 426.2C1632.5 426.2 1642.5 420.4 1647.5 417.5C1652.5 414.6 1658.7 409.7 1665.0 407.5C1671.3 405.3 1679.3 401.9 1686.2 403.8C1693.2 405.6 1718.7 418.8 1735.0 426.2C1751.3 433.7 1770.0 442.0 1785.0 448.8C1800.0 455.5 1825.1 466.1 1830.0 468.8C1834.9 471.4 1838.4 476.5 1842.5 480.0C1846.6 483.5 1850.7 486.9 1855.0 490.0C1859.3 493.1 1867.0 496.6 1870.0 500.0C1873.0 503.4 1871.5 509.7 1875.0 512.5C1878.5 515.3 1896.6 523.1 1905.0 527.5C1913.4 531.9 1924.0 537.7 1930.0 541.2C1936.0 544.8 1944.0 549.2 1947.5 552.5C1951.0 555.8 1953.3 560.5 1955.0 565.0C1956.7 569.5 1958.1 578.4 1960.0 585.0C1961.9 591.6 1964.2 598.3 1966.2 605.0C1968.3 611.7 1970.2 618.4 1972.5 625.0C1974.8 631.6 1978.3 639.3 1980.0 645.0C1981.7 650.7 1983.8 657.3 1983.8 662.5C1983.8 667.7 1980.7 675.0 1980.0 677.5C1979.3 680.0 1978.0 683.4 1977.5 685.0C1977.0 686.6 1976.3 688.3 1976.2 690.0C1976.2 691.7 1977.3 696.6 1977.3 700.0C1977.4 703.4 1977.4 713.5 1976.7 716.7C1976.0 719.8 1973.2 722.7 1971.7 725.0C1970.1 727.3 1968.1 729.3 1966.7 731.7C1965.2 734.0 1958.7 744.7 1956.7 750.0C1954.6 755.3 1952.2 762.8 1953.3 766.7C1954.4 770.5 1959.3 772.9 1963.3 773.3C1967.3 773.7 1979.4 773.0 1986.7 770.0C1993.9 767.0 2009.1 757.1 2020.0 750.0C2030.9 742.9 2042.5 733.7 2053.3 726.7C2064.2 719.6 2077.4 712.8 2086.7 706.7C2095.9 700.5 2107.7 691.0 2113.3 686.7C2119.0 682.3 2130.0 673.3 2130.0 673.3C2130.0 673.3 2124.9 667.0 2123.3 663.3C2121.8 659.7 2120.3 652.1 2120.0 650.0C2119.7 647.9 2119.0 645.6 2120.0 643.8C2121.0 641.9 2127.0 631.6 2132.5 627.5C2138.0 623.4 2148.2 619.8 2155.0 617.5C2161.8 615.2 2169.6 615.7 2176.0 612.5C2182.4 609.3 2204.5 594.5 2210.0 590.0C2215.5 585.5 2219.8 578.2 2223.3 573.3C2226.9 568.5 2230.9 561.4 2233.3 558.3C2235.8 555.2 2239.3 553.1 2241.7 550.0C2244.1 546.9 2247.3 541.1 2250.0 536.7C2252.7 532.2 2256.7 524.4 2260.0 520.0C2263.3 515.6 2268.6 510.9 2271.7 508.3C2274.7 505.7 2281.7 501.7 2281.7 501.7"/>
<path d="M1540.0 508.2C1540.0 508.2 1555.5 487.6 1560.0 482.5C1564.5 477.4 1570.4 473.7 1575.0 468.8C1579.6 463.8 1584.3 454.5 1590.0 450.0C1595.7 445.5 1603.9 444.5 1610.0 441.2C1616.1 438.0 1625.8 431.2 1627.5 430.0C1629.2 428.8 1630.7 427.4 1632.5 426.2C1634.3 425.1 1644.4 422.1 1647.5 417.5C1650.6 412.9 1649.0 402.7 1651.2 398.8C1653.5 394.8 1658.6 393.1 1662.5 391.2C1666.4 389.4 1672.3 390.8 1675.0 387.5C1677.7 384.2 1677.1 375.1 1678.8 371.2C1680.4 367.4 1683.4 363.1 1686.2 361.2C1689.1 359.4 1692.9 359.4 1696.2 360.0C1699.6 360.6 1704.0 363.6 1706.2 365.0C1708.5 366.4 1709.9 369.7 1712.5 370.0C1715.1 370.3 1722.5 368.2 1727.5 367.5C1732.5 366.8 1743.3 365.2 1747.5 365.0C1751.7 364.8 1756.7 364.2 1760.0 366.2C1763.3 368.3 1765.4 373.5 1767.5 377.5C1769.6 381.5 1770.6 385.9 1772.5 390.0C1774.4 394.1 1777.4 400.5 1780.0 403.8C1782.6 407.0 1786.9 409.8 1790.0 411.2C1793.1 412.7 1796.7 413.0 1800.0 413.0C1803.3 413.0 1806.7 412.0 1810.0 411.2C1813.3 410.5 1817.7 408.0 1821.2 408.0C1824.8 408.0 1831.2 411.2 1831.2 411.2C1831.2 411.2 1828.2 419.6 1827.5 422.5C1826.8 425.4 1824.6 428.8 1826.2 431.2C1827.9 433.7 1834.3 435.3 1837.5 437.5C1840.7 439.7 1846.2 445.0 1846.2 445.0C1846.2 445.0 1842.0 455.1 1841.2 457.5C1840.5 459.9 1840.0 465.0 1840.0 465.0C1840.0 465.0 1846.7 466.7 1850.0 467.5C1853.3 468.3 1860.0 470.0 1860.0 470.0C1860.0 470.0 1857.6 477.3 1856.2 480.0C1854.9 482.7 1851.2 487.5 1851.2 487.5C1851.2 487.5 1857.1 489.8 1860.0 490.0C1862.9 490.2 1868.8 488.8 1868.8 488.8L1870.0 500.0C1870.0 500.0 1863.3 500.5 1860.0 500.0C1856.7 499.5 1851.3 496.6 1847.5 496.2C1843.7 495.9 1836.2 497.5 1836.2 497.5C1836.2 497.5 1836.5 492.0 1835.0 490.0C1833.5 488.0 1828.8 482.9 1825.0 482.5C1821.2 482.1 1816.9 486.6 1812.5 487.5C1808.1 488.4 1799.5 487.6 1795.0 488.8C1790.5 489.9 1786.1 492.8 1782.5 495.0C1778.9 497.2 1775.6 500.8 1772.5 502.5C1769.4 504.2 1766.0 505.8 1762.5 506.2C1759.0 506.7 1748.4 506.6 1745.0 506.2C1741.6 505.9 1737.8 505.7 1735.0 503.8C1732.2 501.8 1728.0 495.3 1725.0 492.5C1722.0 489.7 1719.0 486.2 1715.0 485.0C1711.0 483.8 1703.4 483.9 1700.0 485.0C1696.6 486.1 1692.5 492.5 1692.5 492.5C1692.5 492.5 1688.1 482.5 1688.8 478.8C1689.4 475.0 1693.5 472.7 1696.2 470.0C1699.0 467.3 1704.9 462.4 1707.5 460.0C1710.1 457.6 1715.0 452.5 1715.0 452.5C1715.0 452.5 1706.6 450.4 1702.5 451.2C1698.4 452.1 1693.7 454.7 1690.0 457.5C1686.3 460.3 1681.6 466.1 1677.5 470.0C1673.4 473.9 1668.3 478.3 1665.0 481.2C1661.7 484.2 1658.8 487.7 1655.0 490.0C1651.2 492.3 1646.5 493.0 1642.5 495.0C1638.5 497.0 1629.9 502.3 1625.0 505.0C1620.1 507.7 1614.2 511.7 1610.0 512.5C1605.8 513.3 1600.5 513.0 1597.5 510.0C1594.5 507.0 1590.0 492.5 1590.0 492.5C1590.0 492.5 1579.8 494.4 1575.0 496.2C1570.2 498.1 1565.3 501.9 1560.0 503.8C1554.7 505.6 1540.0 508.2 1540.0 508.2"/>
<path d="M1847.5 535.0C1847.5 535.0 1839.6 528.1 1835.0 526.2C1830.4 524.4 1823.9 523.2 1820.0 523.8C1816.1 524.3 1813.6 528.4 1810.0 530.0C1806.4 531.6 1801.4 531.8 1797.5 533.8C1793.6 535.7 1787.6 540.5 1785.0 542.5C1782.4 544.5 1779.6 546.2 1777.5 548.8C1775.4 551.2 1772.5 557.5 1772.5 557.5L1760.0 547.5C1760.0 547.5 1756.5 550.7 1755.0 552.5C1753.5 554.3 1751.2 557.3 1750.0 560.0C1748.8 562.7 1746.2 572.3 1745.0 575.0C1743.8 577.7 1741.5 579.9 1740.0 582.5C1738.5 585.1 1734.5 593.7 1732.5 597.5C1730.5 601.3 1727.9 605.1 1726.2 608.8C1724.6 612.4 1722.7 617.0 1722.5 620.0C1722.3 623.0 1725.0 628.8 1725.0 628.8C1725.0 628.8 1730.3 621.4 1732.5 617.5C1734.7 613.6 1737.1 607.0 1740.0 602.5C1742.9 598.0 1747.4 593.3 1750.0 590.0C1752.6 586.7 1755.5 582.6 1757.5 580.0C1759.5 577.4 1763.8 572.5 1763.8 572.5C1763.8 572.5 1761.7 582.6 1760.0 587.5C1758.3 592.4 1754.2 600.9 1752.5 605.0C1750.8 609.1 1748.6 613.1 1747.5 617.5C1746.4 621.9 1745.6 629.2 1745.0 635.0C1744.4 640.8 1744.7 646.7 1743.8 652.5C1742.8 658.3 1739.9 665.7 1738.8 672.5C1737.6 679.3 1737.2 688.9 1736.2 695.0C1735.3 701.1 1732.6 710.5 1732.5 713.0C1732.4 715.5 1734.3 717.6 1735.0 720.0C1735.7 722.4 1738.6 731.2 1740.0 736.7C1741.4 742.2 1742.3 747.8 1743.3 753.3C1744.3 758.9 1744.4 764.6 1746.0 770.0C1747.6 775.4 1750.6 781.9 1753.3 786.7C1756.1 791.5 1760.6 797.8 1763.3 800.0C1766.0 802.2 1770.0 803.2 1773.3 802.7C1776.7 802.1 1780.2 798.9 1783.3 796.7C1786.5 794.4 1790.7 791.7 1793.3 788.3C1796.0 784.9 1799.4 778.6 1801.7 773.3C1803.9 768.1 1805.3 762.3 1806.7 756.7C1808.0 751.0 1810.2 742.2 1810.7 736.7C1811.2 731.1 1810.6 723.5 1810.0 720.0C1809.4 716.5 1807.8 713.2 1806.2 710.0C1804.7 706.8 1801.8 703.2 1800.0 700.0C1798.2 696.8 1796.4 693.3 1795.0 690.0C1793.6 686.7 1791.5 683.3 1791.2 680.0C1791.0 676.7 1793.9 673.4 1793.8 670.0C1793.6 666.6 1790.2 661.7 1790.0 657.5C1789.8 653.3 1791.8 649.2 1792.5 645.0C1793.2 640.8 1794.2 632.5 1795.0 627.5C1795.8 622.5 1796.3 616.8 1797.5 612.5C1798.7 608.2 1800.6 603.0 1802.5 600.0C1804.4 597.0 1807.5 595.0 1810.0 592.5C1812.5 590.0 1817.0 584.7 1820.0 582.5C1823.0 580.3 1827.7 579.4 1830.0 577.5C1832.3 575.6 1832.8 572.0 1835.0 570.0C1837.2 568.0 1843.8 565.0 1843.8 565.0C1843.8 565.0 1840.2 558.6 1840.0 555.0C1839.8 551.4 1841.4 545.3 1842.5 542.5C1843.6 539.7 1847.5 535.0 1847.5 535.0"/>
<path d="M1847.5 535.0C1847.5 535.0 1856.0 536.1 1860.0 537.5C1864.0 538.9 1868.4 541.5 1872.5 543.8C1876.6 546.0 1881.0 549.5 1885.0 551.2C1889.0 553.0 1893.4 553.6 1897.5 555.0C1901.6 556.4 1906.9 557.5 1910.0 560.0C1913.1 562.5 1915.1 566.9 1916.2 570.0C1917.4 573.1 1916.6 576.8 1917.5 580.0C1918.4 583.2 1921.3 588.4 1922.5 592.5C1923.7 596.6 1924.8 601.6 1925.0 605.0C1925.2 608.4 1925.0 612.1 1923.8 615.0C1922.5 617.9 1918.8 619.6 1917.5 622.5C1916.2 625.4 1917.5 629.6 1916.2 632.5C1915.0 635.4 1911.8 637.3 1910.0 640.0C1908.2 642.7 1904.5 648.4 1903.8 651.2C1903.0 654.1 1903.5 657.9 1905.0 660.0C1906.5 662.1 1912.5 663.8 1912.5 663.8C1912.5 663.8 1917.8 659.0 1920.0 656.2C1922.2 653.5 1925.1 648.4 1927.5 645.0C1929.9 641.6 1931.9 637.3 1935.0 635.0C1938.1 632.7 1942.9 631.0 1946.2 631.2C1949.6 631.5 1952.8 633.7 1955.0 636.2C1957.2 638.8 1958.4 643.7 1960.0 647.5C1961.6 651.3 1963.6 655.9 1965.0 660.0C1966.4 664.1 1967.1 668.5 1968.8 672.5C1970.4 676.5 1973.1 682.0 1975.0 683.8C1976.9 685.5 1980.2 686.0 1982.5 685.0C1984.8 684.0 1991.8 678.6 1995.0 675.0C1998.2 671.4 2001.0 667.1 2002.5 662.5C2004.0 657.9 2004.2 652.5 2003.8 647.5C2003.3 642.5 2001.0 637.6 2000.0 632.5C1999.0 627.4 1997.5 619.2 1997.5 615.0C1997.5 610.8 1998.4 606.4 2000.0 602.5C2001.6 598.6 2005.9 593.9 2007.5 590.0C2009.1 586.1 2010.0 581.7 2010.0 577.5C2010.0 573.3 2009.1 568.2 2007.5 565.0C2005.9 561.8 2002.9 559.6 2000.0 557.5C1997.1 555.4 1990.0 552.5 1990.0 552.5C1990.0 552.5 1993.2 550.5 1995.0 550.0C1996.8 549.5 2003.8 548.8 2003.8 548.8C2003.8 548.8 2006.1 556.6 2007.5 560.0C2008.9 563.4 2010.0 567.7 2012.5 570.0C2015.0 572.3 2019.9 572.6 2022.5 573.8C2025.1 574.9 2027.4 576.5 2030.0 577.5C2032.6 578.5 2038.4 580.2 2042.5 581.2C2046.6 582.3 2052.0 583.8 2055.0 583.8C2058.0 583.8 2062.1 583.1 2063.8 581.2C2065.4 579.4 2065.6 575.2 2065.0 572.5C2064.4 569.8 2060.0 565.0 2060.0 565.0C2060.0 565.0 2068.1 563.3 2070.0 562.5C2071.9 561.7 2075.0 558.8 2075.0 558.8C2075.0 558.8 2071.5 556.4 2070.0 555.0C2068.5 553.6 2064.8 550.2 2062.5 547.5C2060.2 544.8 2056.7 539.9 2055.0 537.5C2053.3 535.1 2052.3 531.9 2050.0 530.0C2047.7 528.1 2042.7 526.8 2040.0 525.0C2037.3 523.2 2035.0 520.9 2032.5 518.8C2030.0 516.6 2024.2 511.6 2022.5 510.0C2020.8 508.4 2019.7 505.9 2017.5 505.0C2015.3 504.1 2010.9 503.9 2007.5 503.8C2004.1 503.6 1998.5 504.3 1995.0 503.8C1991.5 503.2 1988.5 500.4 1985.0 500.0C1981.5 499.6 1976.7 501.2 1972.5 501.2C1968.3 501.2 1964.2 500.2 1960.0 500.0C1955.8 499.8 1950.0 499.6 1945.0 500.0C1940.0 500.4 1935.0 501.9 1930.0 502.5C1925.0 503.1 1920.0 503.5 1915.0 503.8C1910.0 504.0 1904.2 503.9 1900.0 503.8C1895.8 503.6 1890.9 503.1 1887.5 502.5C1884.1 501.9 1880.0 500.4 1877.5 500.0C1875.0 499.6 1870.0 500.0 1870.0 500.0C1870.0 500.0 1871.7 509.2 1870.0 512.5C1868.3 515.8 1862.9 517.1 1860.0 520.0C1857.1 522.9 1847.5 535.0 1847.5 535.0"/>
<path d="M1953.3 755.0C1953.3 755.0 1960.0 751.9 1963.3 751.7C1966.7 751.4 1970.1 754.2 1973.3 753.3C1976.6 752.5 1980.0 748.9 1983.3 746.7C1986.6 744.4 1995.0 739.4 2000.0 735.0C2005.0 730.6 2009.4 724.4 2013.3 720.0C2017.2 715.6 2020.6 709.9 2025.0 706.7C2029.4 703.4 2034.7 701.1 2040.0 700.0C2045.3 698.9 2051.8 701.1 2056.7 700.0C2061.5 698.9 2065.6 695.6 2070.0 693.3C2074.4 691.1 2078.9 688.9 2083.3 686.7C2087.8 684.4 2092.3 681.9 2096.7 680.0C2101.0 678.1 2105.6 676.4 2110.0 675.0C2114.4 673.6 2119.5 672.2 2123.3 671.7C2127.2 671.2 2135.0 671.7 2135.0 671.7C2135.0 671.7 2135.3 672.9 2135.0 673.3C2134.7 673.8 2129.3 679.9 2126.7 683.3C2124.0 686.7 2120.3 692.5 2116.7 696.7C2113.0 700.8 2108.0 705.8 2103.3 710.0C2098.6 714.2 2092.2 718.9 2086.7 723.3C2081.1 727.8 2076.0 732.8 2070.0 736.7C2064.0 740.5 2056.0 742.8 2050.0 746.7C2044.0 750.5 2037.7 756.6 2033.3 760.0C2028.9 763.4 2024.6 766.9 2020.0 770.0C2015.4 773.1 2007.6 777.9 2003.3 780.0C1999.1 782.1 1994.6 784.0 1990.0 785.0C1985.4 786.0 1976.8 786.9 1973.3 786.7C1969.8 786.4 1966.7 784.4 1963.3 783.3C1960.0 782.3 1953.9 782.8 1951.7 780.0C1949.4 777.2 1949.7 770.7 1950.0 766.7C1950.3 762.6 1953.3 755.0 1953.3 755.0"/>
<path d="M2120.0 648.8C2120.0 648.8 2113.6 652.8 2110.0 653.8C2106.4 654.7 2100.1 655.5 2097.5 655.0C2094.9 654.5 2092.1 652.5 2091.2 650.0C2090.4 647.5 2091.6 643.2 2092.5 640.0C2093.4 636.8 2094.9 631.2 2097.5 627.5C2100.1 623.8 2105.5 618.1 2110.0 615.0C2114.5 611.9 2119.9 610.7 2125.0 608.8C2130.1 606.8 2136.9 605.1 2142.5 602.5C2148.1 599.9 2154.5 596.0 2160.0 592.5C2165.5 589.0 2170.2 584.3 2176.0 581.2C2181.8 578.2 2195.3 573.9 2200.0 571.7C2204.7 569.4 2209.1 565.5 2213.3 563.3C2217.6 561.2 2224.0 559.2 2226.7 558.3C2229.4 557.5 2235.0 556.7 2235.0 556.7C2235.0 556.7 2239.6 563.0 2240.0 566.7C2240.4 570.4 2239.2 589.9 2239.3 593.3C2239.5 596.8 2243.2 600.3 2241.7 603.3C2240.1 606.4 2233.4 609.0 2230.0 611.7C2226.6 614.3 2223.5 617.5 2220.0 620.0C2216.5 622.5 2211.7 627.0 2206.7 628.3C2201.6 629.6 2183.1 630.3 2176.0 631.2C2168.9 632.2 2161.7 633.6 2155.0 635.0C2148.3 636.4 2140.4 637.9 2135.0 640.0C2129.6 642.1 2120.0 648.8 2120.0 648.8"/>
<path d="M1973.3 715.0C1973.3 715.0 1980.0 716.4 1981.7 718.3C1983.3 720.3 1984.4 724.3 1983.3 726.7C1982.2 729.1 1977.6 732.1 1975.0 732.7C1972.4 733.2 1967.3 730.0 1967.3 730.0C1967.3 730.0 1967.5 722.2 1968.3 720.0C1969.2 717.8 1973.3 715.0 1973.3 715.0"/>
<path d="M1896.2 518.8C1896.2 518.8 1905.4 517.3 1910.0 517.5C1914.6 517.7 1920.0 519.8 1925.0 520.0C1930.0 520.2 1936.4 519.7 1940.0 518.8C1943.6 517.8 1946.4 514.7 1950.0 513.8C1953.6 512.8 1958.9 513.5 1962.5 512.5C1966.1 511.5 1969.2 507.1 1972.5 507.5C1975.8 507.9 1981.2 512.1 1982.5 515.0C1983.8 517.9 1980.0 521.6 1980.0 525.0C1980.0 528.4 1982.5 536.2 1982.5 536.2C1982.5 536.2 1974.1 533.3 1970.0 532.5C1965.9 531.7 1961.6 532.0 1957.5 531.2C1953.4 530.5 1947.4 528.3 1942.5 527.5C1937.6 526.7 1931.9 527.2 1927.5 526.2C1923.1 525.3 1918.4 521.6 1915.0 521.2C1911.6 520.9 1908.1 524.2 1905.0 523.8C1901.9 523.3 1896.2 518.8 1896.2 518.8"/>
<path d="M1655.0 427.5C1655.0 427.5 1661.3 420.4 1665.0 417.5C1668.7 414.6 1677.5 410.0 1677.5 410.0L1680.0 413.8C1680.0 413.8 1673.5 420.9 1670.0 423.8C1666.5 426.6 1658.8 431.2 1658.8 431.2L1655.0 427.5"/>
</g>
<g fill="none" stroke="#000" stroke-width="4.4" stroke-dasharray="6 5.04" stroke-linecap="butt" stroke-linejoin="round">
<path d="M250.0 346.7C250.0 346.7 255.6 347.8 256.7 350.0C257.8 352.2 258.3 358.9 258.3 363.3C258.3 367.8 256.0 376.9 256.7 380.0C257.3 383.1 260.6 385.1 263.3 386.7C266.1 388.2 275.5 392.7 280.0 393.3C284.5 393.9 288.9 390.6 293.3 390.7C297.8 390.8 302.6 391.8 306.7 394.0C310.7 396.2 313.9 401.8 318.3 404.0C322.8 406.2 328.3 406.5 333.3 407.3C338.4 408.1 351.1 409.9 356.7 410.0C362.2 410.1 367.8 408.4 373.3 408.3C378.9 408.2 389.4 408.9 393.3 409.3C397.3 409.7 401.7 411.5 405.0 411.7C408.3 411.9 411.7 410.2 415.0 410.7C418.3 411.2 427.2 414.2 433.3 416.0C439.4 417.8 456.1 422.9 466.7 426.0C477.2 429.1 498.3 435.0 498.3 435.0"/>
<path d="M250.0 346.7C250.0 346.7 255.6 347.8 256.7 350.0C257.8 352.2 258.3 358.9 258.3 363.3C258.3 367.8 256.0 376.9 256.7 380.0C257.3 383.1 260.6 385.1 263.3 386.7C266.1 388.2 275.5 392.7 280.0 393.3C284.5 393.9 288.9 390.6 293.3 390.7C297.8 390.8 302.6 391.8 306.7 394.0C310.7 396.2 313.9 401.8 318.3 404.0C322.8 406.2 328.3 406.5 333.3 407.3C338.4 408.1 351.1 409.9 356.7 410.0C362.2 410.1 367.8 408.4 373.3 408.3C378.9 408.2 389.4 408.9 393.3 409.3C397.3 409.7 401.7 411.5 405.0 411.7C408.3 411.9 411.7 410.2 415.0 410.7C418.3 411.2 427.2 414.2 433.3 416.0C439.4 417.8 456.1 422.9 466.7 426.0C477.2 429.1 498.3 435.0 498.3 435.0" stroke-dashoffset="0"/>
<path d="M540.0 259.3C540.0 259.3 532.4 293.1 528.3 310.0C524.3 326.9 518.3 352.0 515.0 363.3C511.7 374.6 505.1 391.2 503.3 396.7C501.6 402.1 499.5 408.9 499.0 413.3C498.5 417.8 500.1 423.8 500.0 426.7C499.9 429.5 497.8 432.2 498.3 435.0C498.8 437.8 501.4 442.0 503.3 445.0C505.2 448.0 509.0 450.3 510.0 453.3C511.0 456.4 510.7 460.3 509.3 463.3C507.9 466.4 503.1 471.1 500.0 475.0C496.9 478.9 491.4 485.7 488.3 490.0C485.3 494.3 483.4 499.4 480.0 503.3C476.6 507.3 469.4 512.1 466.7 515.0C463.9 517.9 460.7 522.3 460.0 525.0C459.3 527.7 460.2 530.9 461.7 533.3C463.1 535.8 469.5 537.1 469.3 540.7C469.1 544.2 462.7 555.6 460.0 563.3C457.3 571.1 453.3 585.6 450.0 596.7C446.7 607.8 441.7 624.0 440.0 630.0C438.3 636.0 435.0 648.0 435.0 648.0L436.7 640.0L428.3 669.3"/>
<path d="M540.0 259.3C540.0 259.3 532.4 293.1 528.3 310.0C524.3 326.9 518.3 352.0 515.0 363.3C511.7 374.6 505.1 391.2 503.3 396.7C501.6 402.1 499.5 408.9 499.0 413.3C498.5 417.8 500.1 423.8 500.0 426.7C499.9 429.5 497.8 432.2 498.3 435.0C498.8 437.8 501.4 442.0 503.3 445.0C505.2 448.0 509.0 450.3 510.0 453.3C511.0 456.4 510.7 460.3 509.3 463.3C507.9 466.4 503.1 471.1 500.0 475.0C496.9 478.9 491.4 485.7 488.3 490.0C485.3 494.3 483.4 499.4 480.0 503.3C476.6 507.3 469.4 512.1 466.7 515.0C463.9 517.9 460.7 522.3 460.0 525.0C459.3 527.7 460.2 530.9 461.7 533.3C463.1 535.8 469.5 537.1 469.3 540.7C469.1 544.2 462.7 555.6 460.0 563.3C457.3 571.1 453.3 585.6 450.0 596.7C446.7 607.8 441.7 624.0 440.0 630.0C438.3 636.0 435.0 648.0 435.0 648.0L436.7 640.0L428.3 669.3" stroke-dashoffset="2"/>
<path d="M581.7 271.7C581.7 271.7 577.1 283.9 575.0 290.0C572.9 296.1 569.9 304.0 568.3 310.0C566.8 316.0 564.8 324.1 565.0 328.3C565.2 332.6 568.8 336.7 570.0 340.0C571.2 343.3 572.4 346.6 572.7 350.0C572.9 353.4 571.3 358.7 571.7 361.7C572.0 364.6 573.5 367.4 575.0 370.0C576.5 372.6 579.8 375.3 581.7 378.3C583.6 381.3 585.1 384.9 586.7 388.3C588.2 391.7 589.9 396.2 591.7 400.0C593.5 403.8 597.0 411.6 598.3 413.3C599.6 415.1 602.2 415.4 604.0 416.7C605.8 417.9 615.0 425.0 615.0 425.0C615.0 425.0 612.0 432.9 610.0 436.7C608.0 440.4 603.3 445.0 601.7 450.0C600.0 455.0 601.1 463.7 600.0 466.7C598.9 469.6 595.0 470.6 593.3 473.3C591.7 476.0 589.7 480.3 590.0 483.3C590.3 486.4 592.5 490.6 595.0 491.7C597.5 492.8 601.9 491.4 605.0 490.0C608.1 488.6 613.3 483.3 613.3 483.3C613.3 483.3 619.7 488.1 620.7 491.7C621.7 495.2 619.3 502.0 620.0 506.7C620.7 511.4 623.6 515.6 625.0 520.0C626.4 524.4 627.9 530.0 628.3 533.3C628.8 536.6 626.9 540.8 628.3 543.3C629.7 545.8 634.9 545.6 636.7 548.3C638.4 551.1 639.1 558.6 640.0 561.7C640.9 564.7 643.3 570.7 643.3 570.7C643.3 570.7 650.3 566.7 653.3 566.7C656.4 566.7 658.9 570.6 661.7 570.7C664.4 570.8 667.0 567.3 670.0 567.3C673.0 567.3 678.9 569.6 683.3 570.7C687.8 571.7 698.2 575.6 701.7 575.0C705.2 574.4 705.8 567.8 708.3 566.7C710.8 565.6 714.7 566.4 716.7 568.3C718.6 570.3 720.0 578.3 720.0 578.3"/>
<path d="M581.7 271.7C581.7 271.7 577.1 283.9 575.0 290.0C572.9 296.1 569.9 304.0 568.3 310.0C566.8 316.0 564.8 324.1 565.0 328.3C565.2 332.6 568.8 336.7 570.0 340.0C571.2 343.3 572.4 346.6 572.7 350.0C572.9 353.4 571.3 358.7 571.7 361.7C572.0 364.6 573.5 367.4 575.0 370.0C576.5 372.6 579.8 375.3 581.7 378.3C583.6 381.3 585.1 384.9 586.7 388.3C588.2 391.7 589.9 396.2 591.7 400.0C593.5 403.8 597.0 411.6 598.3 413.3C599.6 415.1 602.2 415.4 604.0 416.7C605.8 417.9 615.0 425.0 615.0 425.0C615.0 425.0 612.0 432.9 610.0 436.7C608.0 440.4 603.3 445.0 601.7 450.0C600.0 455.0 601.1 463.7 600.0 466.7C598.9 469.6 595.0 470.6 593.3 473.3C591.7 476.0 589.7 480.3 590.0 483.3C590.3 486.4 592.5 490.6 595.0 491.7C597.5 492.8 601.9 491.4 605.0 490.0C608.1 488.6 613.3 483.3 613.3 483.3C613.3 483.3 619.7 488.1 620.7 491.7C621.7 495.2 619.3 502.0 620.0 506.7C620.7 511.4 623.6 515.6 625.0 520.0C626.4 524.4 627.9 530.0 628.3 533.3C628.8 536.6 626.9 540.8 628.3 543.3C629.7 545.8 634.9 545.6 636.7 548.3C638.4 551.1 639.1 558.6 640.0 561.7C640.9 564.7 643.3 570.7 643.3 570.7C643.3 570.7 650.3 566.7 653.3 566.7C656.4 566.7 658.9 570.6 661.7 570.7C664.4 570.8 667.0 567.3 670.0 567.3C673.0 567.3 678.9 569.6 683.3 570.7C687.8 571.7 698.2 575.6 701.7 575.0C705.2 574.4 705.8 567.8 708.3 566.7C710.8 565.6 714.7 566.4 716.7 568.3C718.6 570.3 720.0 578.3 720.0 578.3" stroke-dashoffset="3"/>
<path d="M728.3 554.3C728.3 554.3 721.6 570.0 720.0 578.3C718.4 586.7 717.9 606.2 716.7 616.7C715.4 627.2 711.7 648.0 711.7 648.0L711.7 640.0C711.7 640.0 695.6 709.6 691.7 730.0C687.8 750.4 682.7 791.7 682.7 791.7"/>
<path d="M728.3 554.3C728.3 554.3 721.6 570.0 720.0 578.3C718.4 586.7 717.9 606.2 716.7 616.7C715.4 627.2 711.7 648.0 711.7 648.0L711.7 640.0C711.7 640.0 695.6 709.6 691.7 730.0C687.8 750.4 682.7 791.7 682.7 791.7" stroke-dashoffset="8.5"/>
<path d="M728.3 554.3C728.3 554.3 753.9 557.6 766.7 559.3C779.4 561.0 821.0 566.7 821.0 566.7L810.0 566.0L1028.3 598.3"/>
<path d="M728.3 554.3C728.3 554.3 753.9 557.6 766.7 559.3C779.4 561.0 821.0 566.7 821.0 566.7L810.0 566.0L1028.3 598.3" stroke-dashoffset="9.5"/>
<path d="M120.0 568.3C120.0 568.3 173.3 587.3 200.0 596.7C226.7 606.0 288.2 627.0 296.7 630.0C305.1 633.0 313.1 637.4 321.7 640.0C330.3 642.6 392.7 659.9 428.3 669.3C464.0 678.8 516.4 693.3 560.0 703.3C603.6 713.4 691.7 730.0 691.7 730.0"/>
<path d="M120.0 568.3C120.0 568.3 173.3 587.3 200.0 596.7C226.7 606.0 288.2 627.0 296.7 630.0C305.1 633.0 313.1 637.4 321.7 640.0C330.3 642.6 392.7 659.9 428.3 669.3C464.0 678.8 516.4 693.3 560.0 703.3C603.6 713.4 691.7 730.0 691.7 730.0" stroke-dashoffset="1"/>
<path d="M296.7 640.0C296.7 640.0 229.0 749.6 245.0 805.0C261.0 860.4 432.3 1110.0 432.3 1110.0"/>
<path d="M296.7 640.0C296.7 640.0 229.0 749.6 245.0 805.0C261.0 860.4 432.3 1110.0 432.3 1110.0" stroke-dashoffset="4"/>
<path d="M560.0 703.3C560.0 703.3 495.2 984.9 491.7 1000.0C488.1 1015.1 481.3 1041.2 480.0 1045.0C478.7 1048.8 475.1 1053.5 473.3 1055.0C471.6 1056.5 468.6 1057.8 466.7 1056.7C464.7 1055.5 461.7 1048.1 458.3 1046.0C455.0 1043.9 449.4 1043.4 446.7 1044.3C443.9 1045.3 442.3 1048.8 441.7 1051.7C441.1 1054.6 441.4 1067.7 440.7 1073.3C439.9 1079.0 437.9 1084.4 436.7 1090.0C435.4 1095.6 432.7 1106.7 432.3 1110.0C432.0 1113.3 432.8 1116.7 433.3 1120.0C433.8 1123.3 436.7 1138.0 436.7 1138.0L436.7 1135.0C436.7 1135.0 437.4 1144.7 439.3 1148.3C441.3 1151.9 448.3 1156.7 448.3 1156.7C448.3 1156.7 445.4 1161.5 443.3 1163.3C441.3 1165.2 434.1 1169.7 431.7 1171.7C429.2 1173.7 426.3 1175.5 425.0 1178.3C423.7 1181.2 422.2 1191.6 420.7 1195.0C419.1 1198.4 416.0 1200.8 413.3 1203.3C410.7 1205.9 405.3 1208.3 403.3 1211.7C401.4 1215.0 400.4 1219.7 401.7 1223.3C402.9 1226.9 409.4 1230.2 410.7 1233.3C412.0 1236.4 411.3 1240.6 410.0 1243.3C408.7 1246.1 405.1 1249.2 402.7 1250.0C400.2 1250.8 395.0 1248.3 395.0 1248.3"/>
<path d="M560.0 703.3C560.0 703.3 495.2 984.9 491.7 1000.0C488.1 1015.1 481.3 1041.2 480.0 1045.0C478.7 1048.8 475.1 1053.5 473.3 1055.0C471.6 1056.5 468.6 1057.8 466.7 1056.7C464.7 1055.5 461.7 1048.1 458.3 1046.0C455.0 1043.9 449.4 1043.4 446.7 1044.3C443.9 1045.3 442.3 1048.8 441.7 1051.7C441.1 1054.6 441.4 1067.7 440.7 1073.3C439.9 1079.0 437.9 1084.4 436.7 1090.0C435.4 1095.6 432.7 1106.7 432.3 1110.0C432.0 1113.3 432.8 1116.7 433.3 1120.0C433.8 1123.3 436.7 1138.0 436.7 1138.0L436.7 1135.0C436.7 1135.0 437.4 1144.7 439.3 1148.3C441.3 1151.9 448.3 1156.7 448.3 1156.7C448.3 1156.7 445.4 1161.5 443.3 1163.3C441.3 1165.2 434.1 1169.7 431.7 1171.7C429.2 1173.7 426.3 1175.5 425.0 1178.3C423.7 1181.2 422.2 1191.6 420.7 1195.0C419.1 1198.4 416.0 1200.8 413.3 1203.3C410.7 1205.9 405.3 1208.3 403.3 1211.7C401.4 1215.0 400.4 1219.7 401.7 1223.3C402.9 1226.9 409.4 1230.2 410.7 1233.3C412.0 1236.4 411.3 1240.6 410.0 1243.3C408.7 1246.1 405.1 1249.2 402.7 1250.0C400.2 1250.8 395.0 1248.3 395.0 1248.3" stroke-dashoffset="7.5"/>
<path d="M491.7 1000.0C491.7 1000.0 563.8 1016.1 600.0 1023.3C636.2 1030.5 703.3 1042.5 730.0 1047.3C756.7 1052.2 783.2 1057.6 810.0 1061.7C836.8 1065.7 915.6 1075.9 943.3 1079.3C971.1 1082.7 1010.6 1086.8 1026.7 1088.3C1042.7 1089.8 1058.9 1090.6 1075.0 1091.7C1091.1 1092.7 1190.0 1100.3 1243.3 1102.7C1296.6 1105.0 1391.7 1105.9 1403.3 1106.0C1415.0 1106.1 1438.3 1105.0 1438.3 1105.0"/>
<path d="M491.7 1000.0C491.7 1000.0 563.8 1016.1 600.0 1023.3C636.2 1030.5 703.3 1042.5 730.0 1047.3C756.7 1052.2 783.2 1057.6 810.0 1061.7C836.8 1065.7 915.6 1075.9 943.3 1079.3C971.1 1082.7 1010.6 1086.8 1026.7 1088.3C1042.7 1089.8 1058.9 1090.6 1075.0 1091.7C1091.1 1092.7 1190.0 1100.3 1243.3 1102.7C1296.6 1105.0 1391.7 1105.9 1403.3 1106.0C1415.0 1106.1 1438.3 1105.0 1438.3 1105.0" stroke-dashoffset="0"/>
<path d="M682.7 791.7L821.0 815.0L810.0 814.0C810.0 814.0 971.2 835.5 1001.7 839.3C1032.2 843.1 1093.3 849.3 1093.3 849.3"/>
<path d="M682.7 791.7L821.0 815.0L810.0 814.0C810.0 814.0 971.2 835.5 1001.7 839.3C1032.2 843.1 1093.3 849.3 1093.3 849.3" stroke-dashoffset="2"/>
<path d="M771.7 813.3C771.7 813.3 756.0 905.0 750.0 940.0C744.0 975.0 736.9 1014.0 731.7 1045.0C726.5 1076.0 716.7 1138.0 716.7 1138.0L718.3 1130.0L671.7 1395.0"/>
<path d="M771.7 813.3C771.7 813.3 756.0 905.0 750.0 940.0C744.0 975.0 736.9 1014.0 731.7 1045.0C726.5 1076.0 716.7 1138.0 716.7 1138.0L718.3 1130.0L671.7 1395.0" stroke-dashoffset="3"/>
<path d="M1053.3 357.3C1053.3 357.3 1047.3 408.0 1045.0 433.3C1042.7 458.7 1038.6 520.5 1036.7 540.0C1034.7 559.5 1030.4 581.8 1028.3 598.3C1026.3 614.8 1023.3 648.0 1023.3 648.0L1023.3 640.0C1023.3 640.0 1017.8 692.2 1015.0 718.3C1012.2 744.4 1001.7 839.3 1001.7 839.3"/>
<path d="M1053.3 357.3C1053.3 357.3 1047.3 408.0 1045.0 433.3C1042.7 458.7 1038.6 520.5 1036.7 540.0C1034.7 559.5 1030.4 581.8 1028.3 598.3C1026.3 614.8 1023.3 648.0 1023.3 648.0L1023.3 640.0C1023.3 640.0 1017.8 692.2 1015.0 718.3C1012.2 744.4 1001.7 839.3 1001.7 839.3" stroke-dashoffset="8.5"/>
<path d="M1036.7 540.0C1036.7 540.0 1110.0 547.3 1143.3 550.0C1176.6 552.7 1210.0 555.1 1243.3 556.7C1276.7 558.2 1348.3 559.3 1348.3 559.3"/>
<path d="M1036.7 540.0C1036.7 540.0 1110.0 547.3 1143.3 550.0C1176.6 552.7 1210.0 555.1 1243.3 556.7C1276.7 558.2 1348.3 559.3 1348.3 559.3" stroke-dashoffset="9.5"/>
<path d="M1326.7 374.0C1326.7 374.0 1328.9 389.1 1329.3 396.7C1329.7 404.3 1328.3 419.6 1329.3 426.7C1330.4 433.7 1335.1 441.2 1336.7 446.7C1338.2 452.1 1339.6 457.7 1340.0 463.3C1340.4 469.0 1339.5 491.1 1340.0 500.0C1340.5 508.9 1342.1 521.3 1343.3 526.7C1344.6 532.0 1348.8 536.3 1350.0 541.7C1351.2 547.0 1350.8 556.8 1350.7 559.3C1350.5 561.9 1349.8 564.6 1348.3 566.7C1346.8 568.8 1339.4 573.3 1338.3 576.7C1337.2 580.0 1339.5 583.9 1341.7 586.7C1343.8 589.4 1352.4 591.1 1353.3 596.0C1354.3 600.9 1354.0 648.0 1354.0 648.0L1354.0 640.0L1353.3 708.3"/>
<path d="M1326.7 374.0C1326.7 374.0 1328.9 389.1 1329.3 396.7C1329.7 404.3 1328.3 419.6 1329.3 426.7C1330.4 433.7 1335.1 441.2 1336.7 446.7C1338.2 452.1 1339.6 457.7 1340.0 463.3C1340.4 469.0 1339.5 491.1 1340.0 500.0C1340.5 508.9 1342.1 521.3 1343.3 526.7C1344.6 532.0 1348.8 536.3 1350.0 541.7C1351.2 547.0 1350.8 556.8 1350.7 559.3C1350.5 561.9 1349.8 564.6 1348.3 566.7C1346.8 568.8 1339.4 573.3 1338.3 576.7C1337.2 580.0 1339.5 583.9 1341.7 586.7C1343.8 589.4 1352.4 591.1 1353.3 596.0C1354.3 600.9 1354.0 648.0 1354.0 648.0L1354.0 640.0L1353.3 708.3" stroke-dashoffset="1"/>
<path d="M1015.0 718.3C1015.0 718.3 1103.9 726.4 1143.3 729.3C1182.7 732.3 1259.2 736.5 1261.7 736.7C1264.1 736.9 1266.3 738.6 1268.3 740.0C1270.4 741.4 1274.1 745.4 1276.7 746.7C1279.2 747.9 1282.5 748.6 1285.0 748.3C1287.5 748.1 1289.2 745.3 1291.7 745.0C1294.1 744.7 1306.3 744.4 1310.0 745.0C1313.7 745.6 1316.6 748.5 1320.0 750.0C1323.4 751.5 1332.7 754.2 1336.7 756.7C1340.7 759.2 1346.7 766.7 1346.7 766.7"/>
<path d="M1015.0 718.3C1015.0 718.3 1103.9 726.4 1143.3 729.3C1182.7 732.3 1259.2 736.5 1261.7 736.7C1264.1 736.9 1266.3 738.6 1268.3 740.0C1270.4 741.4 1274.1 745.4 1276.7 746.7C1279.2 747.9 1282.5 748.6 1285.0 748.3C1287.5 748.1 1289.2 745.3 1291.7 745.0C1294.1 744.7 1306.3 744.4 1310.0 745.0C1313.7 745.6 1316.6 748.5 1320.0 750.0C1323.4 751.5 1332.7 754.2 1336.7 756.7C1340.7 759.2 1346.7 766.7 1346.7 766.7" stroke-dashoffset="4"/>
<path d="M1348.3 708.3C1348.3 708.3 1346.8 715.0 1347.3 718.3C1347.9 721.6 1351.5 724.7 1351.7 728.3C1351.8 731.9 1349.5 736.1 1348.3 740.0C1347.1 743.9 1343.6 751.0 1343.3 755.0C1343.1 759.0 1345.2 764.3 1346.7 766.7C1348.1 769.0 1352.1 769.2 1353.3 771.7C1354.6 774.2 1354.7 781.9 1356.7 786.7C1358.6 791.4 1363.2 795.8 1365.0 800.0C1366.8 804.2 1367.5 808.9 1368.3 813.3C1369.2 817.7 1368.7 822.9 1370.0 826.7C1371.3 830.4 1375.3 832.9 1376.7 836.7C1378.0 840.4 1379.1 847.7 1379.3 853.3C1379.6 859.0 1377.8 868.8 1378.3 873.3C1378.9 877.8 1382.1 882.5 1383.3 886.0C1384.6 889.5 1385.4 893.7 1386.7 896.7C1388.0 899.6 1390.4 903.5 1391.7 905.0C1393.0 906.5 1395.8 906.5 1396.7 908.3C1397.5 910.1 1397.1 917.7 1399.3 921.0C1401.6 924.3 1406.1 926.6 1410.0 928.3C1413.9 930.1 1423.3 931.7 1423.3 931.7C1423.3 931.7 1417.8 938.5 1416.7 941.7C1415.5 944.8 1415.0 948.5 1416.0 951.7C1417.0 954.9 1420.2 959.9 1423.3 963.3C1426.4 966.7 1434.8 968.9 1436.7 974.3C1438.6 979.8 1438.2 995.9 1438.3 1006.7C1438.4 1017.5 1438.3 1138.0 1438.3 1138.0L1438.3 1136.0C1438.3 1136.0 1443.6 1171.1 1445.0 1180.0C1446.4 1188.9 1449.1 1197.7 1449.3 1206.7C1449.6 1215.7 1448.3 1312.7 1448.3 1312.7"/>
<path d="M1348.3 708.3C1348.3 708.3 1346.8 715.0 1347.3 718.3C1347.9 721.6 1351.5 724.7 1351.7 728.3C1351.8 731.9 1349.5 736.1 1348.3 740.0C1347.1 743.9 1343.6 751.0 1343.3 755.0C1343.1 759.0 1345.2 764.3 1346.7 766.7C1348.1 769.0 1352.1 769.2 1353.3 771.7C1354.6 774.2 1354.7 781.9 1356.7 786.7C1358.6 791.4 1363.2 795.8 1365.0 800.0C1366.8 804.2 1367.5 808.9 1368.3 813.3C1369.2 817.7 1368.7 822.9 1370.0 826.7C1371.3 830.4 1375.3 832.9 1376.7 836.7C1378.0 840.4 1379.1 847.7 1379.3 853.3C1379.6 859.0 1377.8 868.8 1378.3 873.3C1378.9 877.8 1382.1 882.5 1383.3 886.0C1384.6 889.5 1385.4 893.7 1386.7 896.7C1388.0 899.6 1390.4 903.5 1391.7 905.0C1393.0 906.5 1395.8 906.5 1396.7 908.3C1397.5 910.1 1397.1 917.7 1399.3 921.0C1401.6 924.3 1406.1 926.6 1410.0 928.3C1413.9 930.1 1423.3 931.7 1423.3 931.7C1423.3 931.7 1417.8 938.5 1416.7 941.7C1415.5 944.8 1415.0 948.5 1416.0 951.7C1417.0 954.9 1420.2 959.9 1423.3 963.3C1426.4 966.7 1434.8 968.9 1436.7 974.3C1438.6 979.8 1438.2 995.9 1438.3 1006.7C1438.4 1017.5 1438.3 1138.0 1438.3 1138.0L1438.3 1136.0C1438.3 1136.0 1443.6 1171.1 1445.0 1180.0C1446.4 1188.9 1449.1 1197.7 1449.3 1206.7C1449.6 1215.7 1448.3 1312.7 1448.3 1312.7" stroke-dashoffset="7.5"/>
<path d="M1348.3 708.3 1580.0 703.3"/>
<path d="M1348.3 708.3 1580.0 703.3" stroke-dashoffset="0"/>
<path d="M1093.3 849.3C1093.3 849.3 1091.5 889.4 1090.0 909.3C1088.5 929.3 1075.0 1091.7 1075.0 1091.7"/>
<path d="M1093.3 849.3C1093.3 849.3 1091.5 889.4 1090.0 909.3C1088.5 929.3 1075.0 1091.7 1075.0 1091.7" stroke-dashoffset="2"/>
<path d="M1090.0 909.3C1090.0 909.3 1192.2 916.3 1243.3 918.3C1294.5 920.4 1399.3 921.7 1399.3 921.7"/>
<path d="M1090.0 909.3C1090.0 909.3 1192.2 916.3 1243.3 918.3C1294.5 920.4 1399.3 921.7 1399.3 921.7" stroke-dashoffset="3"/>
<path d="M1383.3 886.0C1383.3 886.0 1446.1 884.4 1476.7 883.3C1507.2 882.2 1564.6 879.2 1568.3 879.3C1572.0 879.5 1573.9 884.4 1576.7 886.7C1579.4 889.0 1585.0 893.3 1585.0 893.3"/>
<path d="M1383.3 886.0C1383.3 886.0 1446.1 884.4 1476.7 883.3C1507.2 882.2 1564.6 879.2 1568.3 879.3C1572.0 879.5 1573.9 884.4 1576.7 886.7C1579.4 889.0 1585.0 893.3 1585.0 893.3" stroke-dashoffset="8.5"/>
<path d="M1026.7 1088.3C1026.7 1088.3 1024.5 1111.7 1023.3 1118.3C1022.2 1125.0 1018.3 1138.0 1018.3 1138.0L1020.0 1130.0C1020.0 1130.0 1014.2 1185.5 1011.7 1213.3C1009.1 1241.1 1004.0 1308.0 1001.7 1330.0C999.4 1352.0 992.7 1395.7 992.7 1395.7C992.7 1395.7 812.3 1375.3 810.0 1375.0C807.7 1374.7 803.3 1373.3 803.3 1373.3L806.7 1383.3L800.0 1386.7"/>
<path d="M1026.7 1088.3C1026.7 1088.3 1024.5 1111.7 1023.3 1118.3C1022.2 1125.0 1018.3 1138.0 1018.3 1138.0L1020.0 1130.0C1020.0 1130.0 1014.2 1185.5 1011.7 1213.3C1009.1 1241.1 1004.0 1308.0 1001.7 1330.0C999.4 1352.0 992.7 1395.7 992.7 1395.7C992.7 1395.7 812.3 1375.3 810.0 1375.0C807.7 1374.7 803.3 1373.3 803.3 1373.3L806.7 1383.3L800.0 1386.7" stroke-dashoffset="9.5"/>
<path d="M1023.3 1118.3C1023.3 1118.3 1171.3 1129.3 1171.7 1129.3C1172.1 1129.4 1172.7 1129.6 1172.7 1130.0C1172.6 1130.4 1166.0 1243.4 1166.0 1246.7C1166.0 1250.0 1170.8 1251.2 1173.3 1253.3C1175.8 1255.5 1178.4 1258.6 1181.7 1260.0C1185.0 1261.4 1190.8 1262.0 1193.3 1261.7C1195.9 1261.3 1200.0 1257.7 1200.0 1257.7C1200.0 1257.7 1205.0 1262.7 1206.0 1265.0C1207.0 1267.3 1206.7 1272.7 1206.7 1272.7C1206.7 1272.7 1215.6 1274.2 1220.0 1275.0C1224.4 1275.8 1229.7 1276.4 1233.3 1277.7C1236.9 1279.0 1240.3 1283.1 1243.3 1283.3C1246.4 1283.6 1248.6 1279.9 1251.7 1279.3C1254.7 1278.8 1259.2 1277.9 1261.7 1280.0C1264.2 1282.1 1265.1 1289.5 1266.7 1291.7C1268.2 1293.8 1270.7 1296.3 1273.3 1296.0C1276.0 1295.7 1280.0 1290.1 1283.3 1290.0C1286.7 1289.9 1290.6 1294.3 1293.3 1295.7C1296.0 1297.0 1299.3 1299.2 1301.7 1299.3C1304.1 1299.5 1308.3 1296.7 1308.3 1296.7L1311.7 1305.0L1318.3 1293.3C1318.3 1293.3 1323.7 1296.3 1326.7 1296.7C1329.6 1297.0 1333.6 1294.3 1336.7 1295.7C1339.7 1297.1 1351.7 1308.3 1351.7 1308.3C1351.7 1308.3 1360.8 1300.9 1365.0 1299.3C1369.2 1297.8 1374.2 1299.3 1378.3 1298.3C1382.4 1297.3 1386.4 1293.3 1390.0 1293.3C1393.6 1293.3 1396.7 1298.3 1400.0 1298.3C1403.3 1298.3 1406.7 1293.3 1410.0 1293.3C1413.3 1293.3 1416.9 1296.3 1420.0 1298.3C1423.1 1300.3 1428.7 1306.0 1433.3 1308.3C1438.0 1310.7 1445.0 1311.6 1448.3 1312.7C1451.7 1313.7 1454.9 1315.4 1458.3 1316.0C1461.8 1316.6 1471.7 1316.7 1471.7 1316.7C1471.7 1316.7 1472.2 1338.9 1472.3 1350.0C1472.5 1361.1 1472.6 1403.9 1472.7 1406.7C1472.7 1409.5 1472.0 1412.5 1473.3 1415.0C1474.7 1417.5 1479.6 1420.0 1481.7 1423.3C1483.7 1426.7 1484.9 1433.1 1486.7 1436.7C1488.5 1440.2 1491.5 1443.1 1493.3 1446.7C1495.1 1450.2 1497.0 1455.6 1498.3 1460.0C1499.7 1464.4 1501.9 1468.8 1501.7 1473.3C1501.4 1477.9 1498.0 1484.3 1496.7 1490.0C1495.4 1495.7 1494.2 1503.4 1493.3 1510.0C1492.5 1516.6 1492.6 1525.3 1491.7 1530.0C1490.7 1534.7 1487.9 1539.5 1486.7 1543.3C1485.4 1547.2 1483.3 1555.0 1483.3 1555.0"/>
<path d="M1023.3 1118.3C1023.3 1118.3 1171.3 1129.3 1171.7 1129.3C1172.1 1129.4 1172.7 1129.6 1172.7 1130.0C1172.6 1130.4 1166.0 1243.4 1166.0 1246.7C1166.0 1250.0 1170.8 1251.2 1173.3 1253.3C1175.8 1255.5 1178.4 1258.6 1181.7 1260.0C1185.0 1261.4 1190.8 1262.0 1193.3 1261.7C1195.9 1261.3 1200.0 1257.7 1200.0 1257.7C1200.0 1257.7 1205.0 1262.7 1206.0 1265.0C1207.0 1267.3 1206.7 1272.7 1206.7 1272.7C1206.7 1272.7 1215.6 1274.2 1220.0 1275.0C1224.4 1275.8 1229.7 1276.4 1233.3 1277.7C1236.9 1279.0 1240.3 1283.1 1243.3 1283.3C1246.4 1283.6 1248.6 1279.9 1251.7 1279.3C1254.7 1278.8 1259.2 1277.9 1261.7 1280.0C1264.2 1282.1 1265.1 1289.5 1266.7 1291.7C1268.2 1293.8 1270.7 1296.3 1273.3 1296.0C1276.0 1295.7 1280.0 1290.1 1283.3 1290.0C1286.7 1289.9 1290.6 1294.3 1293.3 1295.7C1296.0 1297.0 1299.3 1299.2 1301.7 1299.3C1304.1 1299.5 1308.3 1296.7 1308.3 1296.7L1311.7 1305.0L1318.3 1293.3C1318.3 1293.3 1323.7 1296.3 1326.7 1296.7C1329.6 1297.0 1333.6 1294.3 1336.7 1295.7C1339.7 1297.1 1351.7 1308.3 1351.7 1308.3C1351.7 1308.3 1360.8 1300.9 1365.0 1299.3C1369.2 1297.8 1374.2 1299.3 1378.3 1298.3C1382.4 1297.3 1386.4 1293.3 1390.0 1293.3C1393.6 1293.3 1396.7 1298.3 1400.0 1298.3C1403.3 1298.3 1406.7 1293.3 1410.0 1293.3C1413.3 1293.3 1416.9 1296.3 1420.0 1298.3C1423.1 1300.3 1428.7 1306.0 1433.3 1308.3C1438.0 1310.7 1445.0 1311.6 1448.3 1312.7C1451.7 1313.7 1454.9 1315.4 1458.3 1316.0C1461.8 1316.6 1471.7 1316.7 1471.7 1316.7C1471.7 1316.7 1472.2 1338.9 1472.3 1350.0C1472.5 1361.1 1472.6 1403.9 1472.7 1406.7C1472.7 1409.5 1472.0 1412.5 1473.3 1415.0C1474.7 1417.5 1479.6 1420.0 1481.7 1423.3C1483.7 1426.7 1484.9 1433.1 1486.7 1436.7C1488.5 1440.2 1491.5 1443.1 1493.3 1446.7C1495.1 1450.2 1497.0 1455.6 1498.3 1460.0C1499.7 1464.4 1501.9 1468.8 1501.7 1473.3C1501.4 1477.9 1498.0 1484.3 1496.7 1490.0C1495.4 1495.7 1494.2 1503.4 1493.3 1510.0C1492.5 1516.6 1492.6 1525.3 1491.7 1530.0C1490.7 1534.7 1487.9 1539.5 1486.7 1543.3C1485.4 1547.2 1483.3 1555.0 1483.3 1555.0" stroke-dashoffset="1"/>
<path d="M1438.3 1136.0C1438.3 1136.0 1619.8 1130.5 1631.0 1131.7C1642.2 1132.8 1642.9 1153.9 1651.7 1158.3C1660.4 1162.8 1683.3 1158.3 1683.3 1158.3"/>
<path d="M1438.3 1136.0C1438.3 1136.0 1619.8 1130.5 1631.0 1131.7C1642.2 1132.8 1642.9 1153.9 1651.7 1158.3C1660.4 1162.8 1683.3 1158.3 1683.3 1158.3" stroke-dashoffset="4"/>
<path d="M1472.3 1350.0 1623.3 1346.0"/>
<path d="M1472.3 1350.0 1623.3 1346.0" stroke-dashoffset="7.5"/>
<path d="M1531.7 513.3C1531.7 513.3 1532.4 542.8 1531.7 546.7C1530.9 550.5 1526.4 552.6 1523.3 555.0C1520.2 557.4 1512.9 559.7 1510.0 563.3C1507.1 566.9 1505.2 573.1 1506.0 576.7C1506.8 580.3 1513.8 581.1 1515.0 585.0C1516.2 588.9 1513.6 595.0 1513.3 600.0C1513.1 605.0 1511.4 624.9 1512.7 630.0C1513.9 635.1 1518.9 638.8 1523.3 641.7C1527.7 644.6 1538.9 647.6 1540.0 648.0C1541.1 648.4 1542.5 647.6 1543.3 648.3C1544.2 649.1 1553.0 661.0 1558.3 665.0C1563.7 669.0 1572.8 669.2 1576.7 673.3C1580.6 677.5 1580.4 685.6 1581.7 690.0C1582.9 694.4 1583.6 699.0 1585.0 703.3C1586.4 707.7 1589.3 712.0 1590.0 716.7C1590.7 721.4 1589.3 730.8 1590.0 735.0C1590.7 739.2 1591.9 743.8 1595.0 746.7C1598.1 749.5 1606.6 750.4 1610.0 753.3C1613.4 756.2 1615.5 762.8 1616.7 765.0C1617.9 767.2 1618.4 769.8 1620.0 771.7C1621.6 773.6 1632.7 782.8 1635.0 786.7C1637.3 790.5 1637.9 795.7 1636.7 800.0C1635.4 804.3 1628.7 818.2 1625.0 821.7C1621.3 825.2 1612.4 824.3 1610.0 825.0C1607.6 825.7 1604.8 826.3 1603.3 828.3C1601.9 830.4 1598.8 835.9 1599.3 840.0C1599.9 844.1 1606.6 848.3 1606.7 853.3C1606.8 858.3 1603.0 864.8 1600.0 870.0C1597.0 875.2 1590.0 882.5 1588.3 885.0C1586.7 887.5 1585.8 890.4 1585.0 893.3C1584.2 896.2 1582.7 902.2 1582.7 906.7C1582.7 911.2 1583.6 919.1 1585.0 923.3C1586.4 927.6 1588.6 931.7 1591.7 935.0C1594.7 938.3 1605.1 945.4 1610.0 950.0C1614.9 954.6 1620.9 961.5 1623.3 965.0C1625.7 968.5 1628.3 976.7 1628.3 976.7L1620.0 960.0C1620.0 960.0 1623.8 970.8 1625.0 973.3C1626.2 975.8 1627.4 979.1 1630.0 980.0C1632.6 980.9 1650.0 981.7 1650.0 981.7C1650.0 981.7 1652.2 987.2 1651.7 990.0C1651.1 992.8 1646.4 1002.3 1645.0 1006.7C1643.6 1011.0 1640.3 1015.6 1641.7 1020.0C1643.0 1024.4 1648.8 1029.6 1653.3 1033.3C1657.9 1037.1 1665.4 1040.3 1670.0 1043.3C1674.6 1046.4 1680.3 1048.9 1683.3 1053.3C1686.4 1057.8 1687.0 1065.0 1688.3 1070.0C1689.6 1075.0 1689.6 1081.6 1691.7 1085.0C1693.8 1088.4 1698.8 1088.8 1701.7 1091.7C1704.5 1094.5 1708.9 1098.7 1710.0 1103.3C1711.1 1108.0 1710.8 1116.4 1708.3 1120.0C1705.8 1123.6 1698.6 1122.0 1695.0 1125.0C1691.4 1128.0 1686.7 1138.0 1686.7 1138.0L1691.7 1133.3C1691.7 1133.3 1685.3 1155.2 1683.3 1160.0C1681.3 1164.8 1676.8 1168.4 1675.0 1173.3C1673.2 1178.3 1671.2 1191.1 1670.0 1196.7C1668.8 1202.2 1668.8 1209.1 1666.7 1213.3C1664.6 1217.5 1659.6 1219.6 1656.7 1223.3C1653.8 1227.0 1649.9 1232.5 1648.3 1236.7C1646.8 1240.9 1648.0 1246.2 1646.7 1250.0C1645.3 1253.8 1642.2 1256.6 1640.0 1260.0C1637.8 1263.4 1633.5 1270.1 1631.7 1273.3C1629.8 1276.6 1628.3 1280.0 1626.7 1283.3C1625.0 1286.7 1620.0 1296.7 1620.0 1296.7L1623.3 1286.7C1623.3 1286.7 1618.8 1298.9 1618.3 1303.3C1617.8 1307.8 1618.9 1312.3 1620.0 1316.7C1621.1 1321.0 1624.5 1325.3 1625.0 1330.0C1625.5 1334.7 1623.3 1340.6 1623.3 1346.0C1623.3 1351.4 1623.8 1358.1 1625.0 1363.3C1626.2 1368.6 1629.5 1375.3 1631.0 1378.3C1632.5 1381.3 1636.8 1383.3 1636.7 1386.7C1636.5 1390.0 1632.6 1398.9 1630.0 1403.3C1627.4 1407.7 1620.3 1414.6 1620.0 1415.0C1619.7 1415.4 1620.2 1416.2 1620.0 1416.7C1619.8 1417.2 1612.4 1429.6 1610.0 1436.7C1607.6 1443.7 1605.9 1456.1 1605.0 1460.0C1604.1 1463.9 1601.7 1471.7 1601.7 1471.7"/>
<path d="M1531.7 513.3C1531.7 513.3 1532.4 542.8 1531.7 546.7C1530.9 550.5 1526.4 552.6 1523.3 555.0C1520.2 557.4 1512.9 559.7 1510.0 563.3C1507.1 566.9 1505.2 573.1 1506.0 576.7C1506.8 580.3 1513.8 581.1 1515.0 585.0C1516.2 588.9 1513.6 595.0 1513.3 600.0C1513.1 605.0 1511.4 624.9 1512.7 630.0C1513.9 635.1 1518.9 638.8 1523.3 641.7C1527.7 644.6 1538.9 647.6 1540.0 648.0C1541.1 648.4 1542.5 647.6 1543.3 648.3C1544.2 649.1 1553.0 661.0 1558.3 665.0C1563.7 669.0 1572.8 669.2 1576.7 673.3C1580.6 677.5 1580.4 685.6 1581.7 690.0C1582.9 694.4 1583.6 699.0 1585.0 703.3C1586.4 707.7 1589.3 712.0 1590.0 716.7C1590.7 721.4 1589.3 730.8 1590.0 735.0C1590.7 739.2 1591.9 743.8 1595.0 746.7C1598.1 749.5 1606.6 750.4 1610.0 753.3C1613.4 756.2 1615.5 762.8 1616.7 765.0C1617.9 767.2 1618.4 769.8 1620.0 771.7C1621.6 773.6 1632.7 782.8 1635.0 786.7C1637.3 790.5 1637.9 795.7 1636.7 800.0C1635.4 804.3 1628.7 818.2 1625.0 821.7C1621.3 825.2 1612.4 824.3 1610.0 825.0C1607.6 825.7 1604.8 826.3 1603.3 828.3C1601.9 830.4 1598.8 835.9 1599.3 840.0C1599.9 844.1 1606.6 848.3 1606.7 853.3C1606.8 858.3 1603.0 864.8 1600.0 870.0C1597.0 875.2 1590.0 882.5 1588.3 885.0C1586.7 887.5 1585.8 890.4 1585.0 893.3C1584.2 896.2 1582.7 902.2 1582.7 906.7C1582.7 911.2 1583.6 919.1 1585.0 923.3C1586.4 927.6 1588.6 931.7 1591.7 935.0C1594.7 938.3 1605.1 945.4 1610.0 950.0C1614.9 954.6 1620.9 961.5 1623.3 965.0C1625.7 968.5 1628.3 976.7 1628.3 976.7L1620.0 960.0C1620.0 960.0 1623.8 970.8 1625.0 973.3C1626.2 975.8 1627.4 979.1 1630.0 980.0C1632.6 980.9 1650.0 981.7 1650.0 981.7C1650.0 981.7 1652.2 987.2 1651.7 990.0C1651.1 992.8 1646.4 1002.3 1645.0 1006.7C1643.6 1011.0 1640.3 1015.6 1641.7 1020.0C1643.0 1024.4 1648.8 1029.6 1653.3 1033.3C1657.9 1037.1 1665.4 1040.3 1670.0 1043.3C1674.6 1046.4 1680.3 1048.9 1683.3 1053.3C1686.4 1057.8 1687.0 1065.0 1688.3 1070.0C1689.6 1075.0 1689.6 1081.6 1691.7 1085.0C1693.8 1088.4 1698.8 1088.8 1701.7 1091.7C1704.5 1094.5 1708.9 1098.7 1710.0 1103.3C1711.1 1108.0 1710.8 1116.4 1708.3 1120.0C1705.8 1123.6 1698.6 1122.0 1695.0 1125.0C1691.4 1128.0 1686.7 1138.0 1686.7 1138.0L1691.7 1133.3C1691.7 1133.3 1685.3 1155.2 1683.3 1160.0C1681.3 1164.8 1676.8 1168.4 1675.0 1173.3C1673.2 1178.3 1671.2 1191.1 1670.0 1196.7C1668.8 1202.2 1668.8 1209.1 1666.7 1213.3C1664.6 1217.5 1659.6 1219.6 1656.7 1223.3C1653.8 1227.0 1649.9 1232.5 1648.3 1236.7C1646.8 1240.9 1648.0 1246.2 1646.7 1250.0C1645.3 1253.8 1642.2 1256.6 1640.0 1260.0C1637.8 1263.4 1633.5 1270.1 1631.7 1273.3C1629.8 1276.6 1628.3 1280.0 1626.7 1283.3C1625.0 1286.7 1620.0 1296.7 1620.0 1296.7L1623.3 1286.7C1623.3 1286.7 1618.8 1298.9 1618.3 1303.3C1617.8 1307.8 1618.9 1312.3 1620.0 1316.7C1621.1 1321.0 1624.5 1325.3 1625.0 1330.0C1625.5 1334.7 1623.3 1340.6 1623.3 1346.0C1623.3 1351.4 1623.8 1358.1 1625.0 1363.3C1626.2 1368.6 1629.5 1375.3 1631.0 1378.3C1632.5 1381.3 1636.8 1383.3 1636.7 1386.7C1636.5 1390.0 1632.6 1398.9 1630.0 1403.3C1627.4 1407.7 1620.3 1414.6 1620.0 1415.0C1619.7 1415.4 1620.2 1416.2 1620.0 1416.7C1619.8 1417.2 1612.4 1429.6 1610.0 1436.7C1607.6 1443.7 1605.9 1456.1 1605.0 1460.0C1604.1 1463.9 1601.7 1471.7 1601.7 1471.7" stroke-dashoffset="0"/>
<path d="M1601.7 1471.7C1601.7 1471.7 1621.2 1471.2 1631.0 1470.7C1640.8 1470.1 1701.7 1466.0 1701.7 1466.0C1701.7 1466.0 1701.7 1475.4 1702.7 1480.0C1703.7 1484.6 1706.1 1491.3 1708.3 1496.7C1710.6 1502.1 1716.7 1513.3 1716.7 1513.3"/>
<path d="M1601.7 1471.7C1601.7 1471.7 1621.2 1471.2 1631.0 1470.7C1640.8 1470.1 1701.7 1466.0 1701.7 1466.0C1701.7 1466.0 1701.7 1475.4 1702.7 1480.0C1703.7 1484.6 1706.1 1491.3 1708.3 1496.7C1710.6 1502.1 1716.7 1513.3 1716.7 1513.3" stroke-dashoffset="2"/>
<path d="M1616.7 761.7L1631.0 760.0L1620.0 761.7L1743.3 753.3"/>
<path d="M1616.7 761.7L1631.0 760.0L1620.0 761.7L1743.3 753.3" stroke-dashoffset="3"/>
<path d="M1758.3 800.0C1758.3 800.0 1760.7 817.8 1761.7 826.7C1762.7 835.6 1765.2 857.8 1766.7 873.3C1768.1 888.9 1771.4 926.6 1771.7 933.3C1771.9 940.0 1769.3 947.5 1770.0 953.3C1770.7 959.2 1775.2 964.5 1776.0 970.0C1776.8 975.5 1777.0 981.5 1775.0 986.7C1773.0 991.9 1765.9 999.1 1763.3 1003.3C1760.7 1007.6 1757.8 1011.8 1756.7 1016.7C1755.5 1021.5 1755.7 1031.2 1756.0 1033.3C1756.3 1035.4 1760.0 1038.3 1760.0 1038.3"/>
<path d="M1758.3 800.0C1758.3 800.0 1760.7 817.8 1761.7 826.7C1762.7 835.6 1765.2 857.8 1766.7 873.3C1768.1 888.9 1771.4 926.6 1771.7 933.3C1771.9 940.0 1769.3 947.5 1770.0 953.3C1770.7 959.2 1775.2 964.5 1776.0 970.0C1776.8 975.5 1777.0 981.5 1775.0 986.7C1773.0 991.9 1765.9 999.1 1763.3 1003.3C1760.7 1007.6 1757.8 1011.8 1756.7 1016.7C1755.5 1021.5 1755.7 1031.2 1756.0 1033.3C1756.3 1035.4 1760.0 1038.3 1760.0 1038.3" stroke-dashoffset="8.5"/>
<path d="M1793.3 791.7C1793.3 791.7 1862.1 785.8 1881.7 783.3C1901.2 780.9 1935.3 773.7 1940.0 773.3C1944.7 773.0 1953.3 778.3 1953.3 778.3"/>
<path d="M1793.3 791.7C1793.3 791.7 1862.1 785.8 1881.7 783.3C1901.2 780.9 1935.3 773.7 1940.0 773.3C1944.7 773.0 1953.3 778.3 1953.3 778.3" stroke-dashoffset="9.5"/>
<path d="M1881.7 783.3C1881.7 783.3 1887.7 821.0 1890.0 840.0C1892.3 859.0 1895.3 895.0 1896.7 906.7C1898.0 918.4 1901.7 941.7 1901.7 941.7"/>
<path d="M1881.7 783.3C1881.7 783.3 1887.7 821.0 1890.0 840.0C1892.3 859.0 1895.3 895.0 1896.7 906.7C1898.0 918.4 1901.7 941.7 1901.7 941.7" stroke-dashoffset="1"/>
<path d="M1701.7 1091.7C1701.7 1091.7 1706.9 1086.7 1710.0 1085.0C1713.1 1083.3 1716.5 1081.7 1720.0 1081.7C1723.5 1081.7 1741.7 1085.0 1741.7 1085.0C1741.7 1085.0 1737.1 1082.3 1736.7 1080.0C1736.2 1077.7 1736.1 1071.5 1738.3 1068.3C1740.6 1065.1 1749.7 1061.7 1753.3 1056.7C1756.9 1051.7 1758.1 1041.8 1760.0 1038.3C1761.9 1034.9 1765.0 1031.7 1768.3 1030.0C1771.7 1028.3 1776.1 1028.3 1780.0 1028.3C1783.9 1028.3 1790.4 1029.3 1793.3 1030.0C1796.2 1030.7 1798.9 1034.4 1801.7 1033.3C1804.5 1032.3 1808.1 1024.2 1811.7 1023.3C1815.3 1022.5 1820.0 1028.9 1823.3 1028.3C1826.7 1027.8 1830.0 1023.0 1831.7 1020.0C1833.3 1017.0 1832.0 1011.9 1833.3 1010.0C1834.7 1008.1 1838.0 1007.3 1840.0 1008.3C1842.0 1009.4 1844.3 1015.1 1846.7 1016.7C1849.0 1018.2 1855.0 1018.3 1855.0 1018.3C1855.0 1018.3 1858.0 1010.4 1860.0 1006.7C1862.0 1002.9 1865.8 997.9 1868.3 993.3C1870.9 988.8 1874.8 979.7 1876.7 976.7C1878.5 973.6 1880.2 969.9 1883.3 968.3C1886.5 966.7 1892.8 968.3 1896.7 966.7C1900.6 965.0 1905.8 962.5 1906.7 958.3C1907.5 954.2 1901.7 941.7 1901.7 941.7C1901.7 941.7 1910.5 941.8 1913.3 941.7C1916.1 941.6 1919.3 939.6 1921.7 941.0C1924.1 942.4 1930.0 951.1 1933.3 953.3C1936.7 955.6 1941.2 955.4 1945.0 956.7C1948.8 957.9 1955.4 961.4 1958.3 961.7C1961.3 961.9 1963.7 958.3 1966.7 958.3C1969.7 958.3 1973.3 961.9 1976.7 961.7C1980.0 961.4 1983.4 958.0 1986.7 956.7C1989.9 955.3 1993.3 952.5 1996.7 953.3C2000.0 954.2 2003.5 959.3 2006.7 961.7C2009.9 964.1 2016.7 968.3 2016.7 968.3C2016.7 968.3 2023.3 964.8 2025.0 961.7C2026.7 958.5 2030.3 944.0 2031.7 940.0C2033.1 936.0 2036.7 928.3 2036.7 928.3L2045.0 933.3C2045.0 933.3 2046.8 917.4 2048.3 913.3C2049.9 909.3 2053.3 906.1 2056.7 903.3C2060.0 900.6 2064.8 899.4 2068.3 896.7C2071.9 893.9 2077.5 889.4 2080.0 885.0C2082.5 880.6 2082.7 875.1 2083.3 870.0C2084.0 864.9 2084.5 850.1 2085.0 846.7C2085.5 843.2 2088.8 840.1 2088.3 836.7C2087.8 833.2 2081.7 823.3 2081.7 823.3L2086.7 821.7"/>
<path d="M1701.7 1091.7C1701.7 1091.7 1706.9 1086.7 1710.0 1085.0C1713.1 1083.3 1716.5 1081.7 1720.0 1081.7C1723.5 1081.7 1741.7 1085.0 1741.7 1085.0C1741.7 1085.0 1737.1 1082.3 1736.7 1080.0C1736.2 1077.7 1736.1 1071.5 1738.3 1068.3C1740.6 1065.1 1749.7 1061.7 1753.3 1056.7C1756.9 1051.7 1758.1 1041.8 1760.0 1038.3C1761.9 1034.9 1765.0 1031.7 1768.3 1030.0C1771.7 1028.3 1776.1 1028.3 1780.0 1028.3C1783.9 1028.3 1790.4 1029.3 1793.3 1030.0C1796.2 1030.7 1798.9 1034.4 1801.7 1033.3C1804.5 1032.3 1808.1 1024.2 1811.7 1023.3C1815.3 1022.5 1820.0 1028.9 1823.3 1028.3C1826.7 1027.8 1830.0 1023.0 1831.7 1020.0C1833.3 1017.0 1832.0 1011.9 1833.3 1010.0C1834.7 1008.1 1838.0 1007.3 1840.0 1008.3C1842.0 1009.4 1844.3 1015.1 1846.7 1016.7C1849.0 1018.2 1855.0 1018.3 1855.0 1018.3C1855.0 1018.3 1858.0 1010.4 1860.0 1006.7C1862.0 1002.9 1865.8 997.9 1868.3 993.3C1870.9 988.8 1874.8 979.7 1876.7 976.7C1878.5 973.6 1880.2 969.9 1883.3 968.3C1886.5 966.7 1892.8 968.3 1896.7 966.7C1900.6 965.0 1905.8 962.5 1906.7 958.3C1907.5 954.2 1901.7 941.7 1901.7 941.7C1901.7 941.7 1910.5 941.8 1913.3 941.7C1916.1 941.6 1919.3 939.6 1921.7 941.0C1924.1 942.4 1930.0 951.1 1933.3 953.3C1936.7 955.6 1941.2 955.4 1945.0 956.7C1948.8 957.9 1955.4 961.4 1958.3 961.7C1961.3 961.9 1963.7 958.3 1966.7 958.3C1969.7 958.3 1973.3 961.9 1976.7 961.7C1980.0 961.4 1983.4 958.0 1986.7 956.7C1989.9 955.3 1993.3 952.5 1996.7 953.3C2000.0 954.2 2003.5 959.3 2006.7 961.7C2009.9 964.1 2016.7 968.3 2016.7 968.3C2016.7 968.3 2023.3 964.8 2025.0 961.7C2026.7 958.5 2030.3 944.0 2031.7 940.0C2033.1 936.0 2036.7 928.3 2036.7 928.3L2045.0 933.3C2045.0 933.3 2046.8 917.4 2048.3 913.3C2049.9 909.3 2053.3 906.1 2056.7 903.3C2060.0 900.6 2064.8 899.4 2068.3 896.7C2071.9 893.9 2077.5 889.4 2080.0 885.0C2082.5 880.6 2082.7 875.1 2083.3 870.0C2084.0 864.9 2084.5 850.1 2085.0 846.7C2085.5 843.2 2088.8 840.1 2088.3 836.7C2087.8 833.2 2081.7 823.3 2081.7 823.3L2086.7 821.7" stroke-dashoffset="4"/>
<path d="M2071.7 736.7C2071.7 736.7 2079.6 775.1 2081.7 786.7C2083.7 798.3 2084.4 810.1 2086.7 821.7C2088.9 833.2 2098.3 872.7 2098.3 872.7C2098.3 872.7 2166.4 860.9 2200.0 853.3C2233.6 845.7 2312.2 824.8 2316.7 823.3C2321.2 821.9 2326.7 813.3 2326.7 813.3"/>
<path d="M2071.7 736.7C2071.7 736.7 2079.6 775.1 2081.7 786.7C2083.7 798.3 2084.4 810.1 2086.7 821.7C2088.9 833.2 2098.3 872.7 2098.3 872.7C2098.3 872.7 2166.4 860.9 2200.0 853.3C2233.6 845.7 2312.2 824.8 2316.7 823.3C2321.2 821.9 2326.7 813.3 2326.7 813.3" stroke-dashoffset="7.5"/>
<path d="M2100.0 715.0L2105.0 727.3C2105.0 727.3 2293.2 685.7 2296.7 685.0C2300.1 684.3 2303.6 686.6 2306.7 688.3C2309.7 690.1 2314.0 693.7 2316.7 696.7C2319.4 699.6 2320.3 704.1 2323.3 706.7C2326.4 709.2 2336.7 713.3 2336.7 713.3C2336.7 713.3 2331.6 725.7 2330.0 731.7C2328.4 737.7 2326.4 744.2 2326.7 750.0C2326.9 755.8 2328.6 761.9 2331.7 766.7C2334.7 771.4 2341.1 775.0 2345.0 778.3C2348.9 781.7 2356.7 788.3 2356.7 788.3C2356.7 788.3 2349.9 796.5 2346.7 800.0C2343.5 803.5 2339.6 808.1 2336.7 810.0C2333.7 811.9 2326.7 813.3 2326.7 813.3"/>
<path d="M2100.0 715.0L2105.0 727.3C2105.0 727.3 2293.2 685.7 2296.7 685.0C2300.1 684.3 2303.6 686.6 2306.7 688.3C2309.7 690.1 2314.0 693.7 2316.7 696.7C2319.4 699.6 2320.3 704.1 2323.3 706.7C2326.4 709.2 2336.7 713.3 2336.7 713.3C2336.7 713.3 2331.6 725.7 2330.0 731.7C2328.4 737.7 2326.4 744.2 2326.7 750.0C2326.9 755.8 2328.6 761.9 2331.7 766.7C2334.7 771.4 2341.1 775.0 2345.0 778.3C2348.9 781.7 2356.7 788.3 2356.7 788.3C2356.7 788.3 2349.9 796.5 2346.7 800.0C2343.5 803.5 2339.6 808.1 2336.7 810.0C2333.7 811.9 2326.7 813.3 2326.7 813.3" stroke-dashoffset="0"/>
<path d="M2336.7 715.0 2380.0 727.3"/>
<path d="M2336.7 715.0 2380.0 727.3" stroke-dashoffset="2"/>
<path d="M2316.7 823.3C2316.7 823.3 2327.6 864.9 2330.0 873.3C2332.4 881.8 2338.3 898.3 2338.3 898.3L2366.7 893.3"/>
<path d="M2316.7 823.3C2316.7 823.3 2327.6 864.9 2330.0 873.3C2332.4 881.8 2338.3 898.3 2338.3 898.3L2366.7 893.3" stroke-dashoffset="3"/>
<path d="M2016.7 968.3C2016.7 968.3 2013.3 980.0 2015.0 985.0C2016.7 990.0 2022.6 994.0 2026.7 998.3C2030.7 1002.6 2037.1 1009.4 2040.0 1011.7C2042.9 1014.0 2047.1 1014.3 2050.0 1016.7C2052.9 1019.1 2056.1 1025.6 2060.0 1028.3C2063.9 1031.1 2069.2 1033.9 2073.3 1033.3C2077.5 1032.8 2082.3 1025.9 2085.0 1025.0C2087.7 1024.1 2090.7 1027.6 2093.3 1026.7C2096.0 1025.7 2103.2 1019.8 2108.3 1016.7C2113.5 1013.6 2123.2 1009.3 2126.7 1006.7C2130.1 1004.1 2134.2 1000.0 2135.0 996.7C2135.8 993.3 2131.1 990.1 2131.7 986.7C2132.2 983.2 2137.5 973.2 2140.0 966.7C2142.5 960.1 2144.8 951.3 2146.7 946.7C2148.5 942.1 2153.3 933.3 2153.3 933.3C2153.3 933.3 2163.2 937.2 2166.7 936.7C2170.2 936.1 2173.2 933.1 2175.0 930.0C2176.8 926.9 2177.3 917.7 2180.0 913.3C2182.7 909.0 2188.4 907.3 2191.7 903.3C2194.9 899.4 2199.8 891.9 2201.7 886.7C2203.5 881.4 2203.3 870.0 2203.3 870.0C2203.3 870.0 2216.7 875.4 2220.0 876.7C2223.3 877.9 2230.0 880.0 2230.0 880.0C2230.0 880.0 2232.8 870.8 2231.7 866.7C2230.6 862.5 2225.0 856.5 2223.3 855.0C2221.6 853.5 2216.7 853.3 2216.7 853.3"/>
<path d="M2016.7 968.3C2016.7 968.3 2013.3 980.0 2015.0 985.0C2016.7 990.0 2022.6 994.0 2026.7 998.3C2030.7 1002.6 2037.1 1009.4 2040.0 1011.7C2042.9 1014.0 2047.1 1014.3 2050.0 1016.7C2052.9 1019.1 2056.1 1025.6 2060.0 1028.3C2063.9 1031.1 2069.2 1033.9 2073.3 1033.3C2077.5 1032.8 2082.3 1025.9 2085.0 1025.0C2087.7 1024.1 2090.7 1027.6 2093.3 1026.7C2096.0 1025.7 2103.2 1019.8 2108.3 1016.7C2113.5 1013.6 2123.2 1009.3 2126.7 1006.7C2130.1 1004.1 2134.2 1000.0 2135.0 996.7C2135.8 993.3 2131.1 990.1 2131.7 986.7C2132.2 983.2 2137.5 973.2 2140.0 966.7C2142.5 960.1 2144.8 951.3 2146.7 946.7C2148.5 942.1 2153.3 933.3 2153.3 933.3C2153.3 933.3 2163.2 937.2 2166.7 936.7C2170.2 936.1 2173.2 933.1 2175.0 930.0C2176.8 926.9 2177.3 917.7 2180.0 913.3C2182.7 909.0 2188.4 907.3 2191.7 903.3C2194.9 899.4 2199.8 891.9 2201.7 886.7C2203.5 881.4 2203.3 870.0 2203.3 870.0C2203.3 870.0 2216.7 875.4 2220.0 876.7C2223.3 877.9 2230.0 880.0 2230.0 880.0C2230.0 880.0 2232.8 870.8 2231.7 866.7C2230.6 862.5 2225.0 856.5 2223.3 855.0C2221.6 853.5 2216.7 853.3 2216.7 853.3" stroke-dashoffset="8.5"/>
<path d="M2146.7 862.7L2150.0 890.0C2150.0 890.0 2158.0 884.8 2161.7 881.7C2165.3 878.6 2170.4 872.3 2173.3 870.0C2176.3 867.7 2179.8 866.3 2183.3 865.0C2186.8 863.7 2193.3 860.8 2196.7 861.7C2200.0 862.5 2203.3 870.0 2203.3 870.0"/>
<path d="M2146.7 862.7L2150.0 890.0C2150.0 890.0 2158.0 884.8 2161.7 881.7C2165.3 878.6 2170.4 872.3 2173.3 870.0C2176.3 867.7 2179.8 866.3 2183.3 865.0C2186.8 863.7 2193.3 860.8 2196.7 861.7C2200.0 862.5 2203.3 870.0 2203.3 870.0" stroke-dashoffset="9.5"/>
<path d="M2230.0 870.0C2230.0 870.0 2239.0 871.9 2243.3 873.3C2247.7 874.8 2255.0 877.9 2260.0 880.0C2265.0 882.1 2275.0 886.7 2275.0 886.7"/>
<path d="M2230.0 870.0C2230.0 870.0 2239.0 871.9 2243.3 873.3C2247.7 874.8 2255.0 877.9 2260.0 880.0C2265.0 882.1 2275.0 886.7 2275.0 886.7" stroke-dashoffset="1"/>
<path d="M2050.0 1016.7C2050.0 1016.7 2038.5 1033.6 2033.3 1040.0C2028.2 1046.4 2022.2 1052.2 2016.7 1058.3C2011.1 1064.4 2005.3 1072.6 2000.0 1076.7C1994.7 1080.7 1981.7 1085.0 1981.7 1085.0"/>
<path d="M2050.0 1016.7C2050.0 1016.7 2038.5 1033.6 2033.3 1040.0C2028.2 1046.4 2022.2 1052.2 2016.7 1058.3C2011.1 1064.4 2005.3 1072.6 2000.0 1076.7C1994.7 1080.7 1981.7 1085.0 1981.7 1085.0" stroke-dashoffset="4"/>
<path d="M1686.7 1138.0C1686.7 1138.0 1693.6 1125.0 1700.0 1123.3C1706.4 1121.7 1763.3 1118.3 1763.3 1118.3L1763.3 1106.7C1763.3 1106.7 1949.9 1088.5 1981.7 1085.0C2013.4 1081.5 2045.2 1077.6 2076.7 1071.7C2108.1 1065.7 2353.3 1015.0 2353.3 1015.0"/>
<path d="M1686.7 1138.0C1686.7 1138.0 1693.6 1125.0 1700.0 1123.3C1706.4 1121.7 1763.3 1118.3 1763.3 1118.3L1763.3 1106.7C1763.3 1106.7 1949.9 1088.5 1981.7 1085.0C2013.4 1081.5 2045.2 1077.6 2076.7 1071.7C2108.1 1065.7 2353.3 1015.0 2353.3 1015.0" stroke-dashoffset="7.5"/>
<path d="M2076.7 1071.7C2076.7 1071.7 2079.0 1082.2 2076.7 1086.7C2074.3 1091.1 2066.4 1098.8 2060.0 1103.3C2053.6 1107.9 2042.4 1111.9 2036.7 1115.0C2031.0 1118.1 2024.5 1121.3 2020.0 1125.0C2015.5 1128.7 2008.3 1138.0 2008.3 1138.0L2023.3 1130.0C2023.3 1130.0 2012.2 1136.7 2006.7 1140.0C2001.1 1143.3 1995.4 1147.0 1990.0 1150.0C1984.6 1153.0 1978.1 1154.4 1973.3 1158.3C1968.6 1162.2 1963.7 1168.7 1961.7 1173.3C1959.6 1177.9 1960.0 1188.3 1960.0 1188.3"/>
<path d="M2076.7 1071.7C2076.7 1071.7 2079.0 1082.2 2076.7 1086.7C2074.3 1091.1 2066.4 1098.8 2060.0 1103.3C2053.6 1107.9 2042.4 1111.9 2036.7 1115.0C2031.0 1118.1 2024.5 1121.3 2020.0 1125.0C2015.5 1128.7 2008.3 1138.0 2008.3 1138.0L2023.3 1130.0C2023.3 1130.0 2012.2 1136.7 2006.7 1140.0C2001.1 1143.3 1995.4 1147.0 1990.0 1150.0C1984.6 1153.0 1978.1 1154.4 1973.3 1158.3C1968.6 1162.2 1963.7 1168.7 1961.7 1173.3C1959.6 1177.9 1960.0 1188.3 1960.0 1188.3" stroke-dashoffset="0"/>
<path d="M1665.0 1219.3C1665.0 1219.3 1733.9 1213.2 1768.3 1210.0C1802.8 1206.8 1851.7 1203.0 1893.3 1198.3C1934.9 1193.7 2006.4 1184.7 2020.0 1181.7C2033.6 1178.6 2043.2 1165.3 2056.7 1161.7C2070.1 1158.0 2118.4 1153.4 2123.3 1153.3C2128.3 1153.2 2133.9 1157.5 2136.7 1160.0C2139.4 1162.5 2141.7 1170.0 2141.7 1170.0C2141.7 1170.0 2179.9 1156.6 2198.3 1161.7C2216.7 1166.8 2261.7 1203.3 2261.7 1203.3"/>
<path d="M1665.0 1219.3C1665.0 1219.3 1733.9 1213.2 1768.3 1210.0C1802.8 1206.8 1851.7 1203.0 1893.3 1198.3C1934.9 1193.7 2006.4 1184.7 2020.0 1181.7C2033.6 1178.6 2043.2 1165.3 2056.7 1161.7C2070.1 1158.0 2118.4 1153.4 2123.3 1153.3C2128.3 1153.2 2133.9 1157.5 2136.7 1160.0C2139.4 1162.5 2141.7 1170.0 2141.7 1170.0C2141.7 1170.0 2179.9 1156.6 2198.3 1161.7C2216.7 1166.8 2261.7 1203.3 2261.7 1203.3" stroke-dashoffset="2"/>
<path d="M1768.3 1210.0C1768.3 1210.0 1771.7 1267.8 1771.7 1296.7C1771.7 1325.6 1768.2 1393.2 1768.3 1406.7C1768.5 1420.1 1771.7 1433.3 1773.3 1446.7C1775.0 1460.0 1779.3 1496.7 1779.3 1496.7"/>
<path d="M1768.3 1210.0C1768.3 1210.0 1771.7 1267.8 1771.7 1296.7C1771.7 1325.6 1768.2 1393.2 1768.3 1406.7C1768.5 1420.1 1771.7 1433.3 1773.3 1446.7C1775.0 1460.0 1779.3 1496.7 1779.3 1496.7" stroke-dashoffset="3"/>
<path d="M1893.3 1198.3C1893.3 1198.3 1902.0 1230.6 1906.7 1246.7C1911.3 1262.7 1918.0 1286.4 1921.7 1296.7C1925.3 1307.0 1931.0 1318.7 1935.0 1326.7C1939.0 1334.7 1946.5 1346.7 1948.3 1350.0C1950.1 1353.3 1953.3 1356.7 1953.3 1360.0C1953.3 1363.3 1949.2 1366.4 1948.3 1370.0C1947.4 1373.6 1945.5 1384.2 1946.0 1390.0C1946.5 1395.8 1950.5 1401.2 1951.7 1406.7C1952.9 1412.1 1952.2 1418.2 1953.3 1423.3C1954.4 1428.5 1956.1 1433.6 1958.3 1438.3C1960.6 1443.1 1961.9 1454.7 1968.3 1455.0C1974.8 1455.3 2109.3 1445.0 2113.3 1445.0C2117.3 1445.0 2120.0 1455.0 2120.0 1455.0C2120.0 1455.0 2123.3 1448.5 2123.3 1445.0C2123.3 1441.5 2120.0 1430.0 2120.0 1430.0C2120.0 1430.0 2125.4 1426.9 2128.3 1426.7C2131.3 1426.4 2148.3 1427.7 2148.3 1427.7"/>
<path d="M1893.3 1198.3C1893.3 1198.3 1902.0 1230.6 1906.7 1246.7C1911.3 1262.7 1918.0 1286.4 1921.7 1296.7C1925.3 1307.0 1931.0 1318.7 1935.0 1326.7C1939.0 1334.7 1946.5 1346.7 1948.3 1350.0C1950.1 1353.3 1953.3 1356.7 1953.3 1360.0C1953.3 1363.3 1949.2 1366.4 1948.3 1370.0C1947.4 1373.6 1945.5 1384.2 1946.0 1390.0C1946.5 1395.8 1950.5 1401.2 1951.7 1406.7C1952.9 1412.1 1952.2 1418.2 1953.3 1423.3C1954.4 1428.5 1956.1 1433.6 1958.3 1438.3C1960.6 1443.1 1961.9 1454.7 1968.3 1455.0C1974.8 1455.3 2109.3 1445.0 2113.3 1445.0C2117.3 1445.0 2120.0 1455.0 2120.0 1455.0C2120.0 1455.0 2123.3 1448.5 2123.3 1445.0C2123.3 1441.5 2120.0 1430.0 2120.0 1430.0C2120.0 1430.0 2125.4 1426.9 2128.3 1426.7C2131.3 1426.4 2148.3 1427.7 2148.3 1427.7" stroke-dashoffset="8.5"/>
<path d="M1831.7 1488.3C1831.7 1488.3 1830.2 1477.3 1828.3 1473.3C1826.5 1469.4 1821.0 1466.0 1820.0 1463.3C1819.0 1460.7 1821.7 1455.0 1821.7 1455.0L1958.3 1440.7"/>
<path d="M1831.7 1488.3C1831.7 1488.3 1830.2 1477.3 1828.3 1473.3C1826.5 1469.4 1821.0 1466.0 1820.0 1463.3C1819.0 1460.7 1821.7 1455.0 1821.7 1455.0L1958.3 1440.7" stroke-dashoffset="9.5"/>
<path d="M2020.0 1181.7L2013.3 1196.7C2013.3 1196.7 2020.6 1204.2 2025.0 1206.7C2029.4 1209.2 2036.0 1208.3 2040.0 1211.7C2044.0 1215.1 2050.4 1226.8 2056.7 1233.3C2063.0 1239.9 2074.5 1248.8 2080.0 1253.3C2085.5 1257.9 2091.8 1262.1 2096.7 1266.7C2101.5 1271.3 2106.1 1278.2 2110.0 1281.7C2113.9 1285.1 2119.9 1286.1 2123.3 1290.0C2126.8 1293.9 2131.9 1306.0 2135.0 1310.0C2138.1 1314.0 2143.8 1315.8 2146.7 1320.0C2149.6 1324.2 2151.1 1333.7 2153.3 1336.7C2155.6 1339.6 2163.3 1341.7 2163.3 1341.7"/>
<path d="M2020.0 1181.7L2013.3 1196.7C2013.3 1196.7 2020.6 1204.2 2025.0 1206.7C2029.4 1209.2 2036.0 1208.3 2040.0 1211.7C2044.0 1215.1 2050.4 1226.8 2056.7 1233.3C2063.0 1239.9 2074.5 1248.8 2080.0 1253.3C2085.5 1257.9 2091.8 1262.1 2096.7 1266.7C2101.5 1271.3 2106.1 1278.2 2110.0 1281.7C2113.9 1285.1 2119.9 1286.1 2123.3 1290.0C2126.8 1293.9 2131.9 1306.0 2135.0 1310.0C2138.1 1314.0 2143.8 1315.8 2146.7 1320.0C2149.6 1324.2 2151.1 1333.7 2153.3 1336.7C2155.6 1339.6 2163.3 1341.7 2163.3 1341.7" stroke-dashoffset="1"/>
<path d="M2338.3 485.0C2338.3 485.0 2344.8 506.7 2346.7 513.3C2348.5 520.0 2350.0 526.7 2351.7 533.3C2353.3 540.0 2355.3 548.8 2356.7 553.3C2358.0 557.9 2360.3 564.9 2361.7 566.7C2363.1 568.5 2367.3 566.3 2368.3 568.3C2369.4 570.4 2371.5 582.8 2373.3 590.0C2375.2 597.2 2379.9 612.8 2380.0 613.3C2380.1 613.9 2380.0 614.4 2380.0 615.0C2380.0 615.6 2379.7 645.4 2381.0 656.7C2382.3 668.0 2386.7 684.2 2388.3 690.0C2389.9 695.8 2394.8 702.9 2395.0 706.7C2395.2 710.4 2390.0 716.7 2390.0 716.7"/>
<path d="M2338.3 485.0C2338.3 485.0 2344.8 506.7 2346.7 513.3C2348.5 520.0 2350.0 526.7 2351.7 533.3C2353.3 540.0 2355.3 548.8 2356.7 553.3C2358.0 557.9 2360.3 564.9 2361.7 566.7C2363.1 568.5 2367.3 566.3 2368.3 568.3C2369.4 570.4 2371.5 582.8 2373.3 590.0C2375.2 597.2 2379.9 612.8 2380.0 613.3C2380.1 613.9 2380.0 614.4 2380.0 615.0C2380.0 615.6 2379.7 645.4 2381.0 656.7C2382.3 668.0 2386.7 684.2 2388.3 690.0C2389.9 695.8 2394.8 702.9 2395.0 706.7C2395.2 710.4 2390.0 716.7 2390.0 716.7" stroke-dashoffset="4"/>
<path d="M2415.0 463.3C2415.0 463.3 2415.9 472.7 2416.7 476.7C2417.5 480.6 2420.3 484.4 2420.0 488.3C2419.7 492.2 2417.2 496.7 2415.0 500.0C2412.8 503.3 2407.6 504.5 2406.7 508.3C2405.7 512.1 2408.6 520.5 2408.3 526.7C2408.1 532.8 2405.3 543.3 2405.0 550.0C2404.7 556.7 2405.9 563.4 2406.7 570.0C2407.4 576.6 2409.7 590.0 2410.0 593.3C2410.3 596.7 2410.0 603.3 2410.0 603.3"/>
<path d="M2415.0 463.3C2415.0 463.3 2415.9 472.7 2416.7 476.7C2417.5 480.6 2420.3 484.4 2420.0 488.3C2419.7 492.2 2417.2 496.7 2415.0 500.0C2412.8 503.3 2407.6 504.5 2406.7 508.3C2405.7 512.1 2408.6 520.5 2408.3 526.7C2408.1 532.8 2405.3 543.3 2405.0 550.0C2404.7 556.7 2405.9 563.4 2406.7 570.0C2407.4 576.6 2409.7 590.0 2410.0 593.3C2410.3 596.7 2410.0 603.3 2410.0 603.3" stroke-dashoffset="7.5"/>
<path d="M2430.0 443.3C2430.0 443.3 2434.3 458.9 2436.7 466.7C2439.1 474.4 2443.7 488.7 2446.7 496.7C2449.6 504.6 2453.3 512.2 2456.7 520.0C2460.0 527.8 2464.0 538.5 2466.7 543.3C2469.3 548.2 2476.7 556.7 2476.7 556.7"/>
<path d="M2430.0 443.3C2430.0 443.3 2434.3 458.9 2436.7 466.7C2439.1 474.4 2443.7 488.7 2446.7 496.7C2449.6 504.6 2453.3 512.2 2456.7 520.0C2460.0 527.8 2464.0 538.5 2466.7 543.3C2469.3 548.2 2476.7 556.7 2476.7 556.7" stroke-dashoffset="0"/>
<path d="M2380.0 616.7C2380.0 616.7 2400.0 611.1 2410.0 608.3C2420.0 605.6 2458.5 596.1 2465.0 593.3C2471.5 590.5 2480.0 578.3 2480.0 578.3"/>
<path d="M2380.0 616.7C2380.0 616.7 2400.0 611.1 2410.0 608.3C2420.0 605.6 2458.5 596.1 2465.0 593.3C2471.5 590.5 2480.0 578.3 2480.0 578.3" stroke-dashoffset="2"/>
<path d="M2381.0 658.3C2381.0 658.3 2402.7 656.0 2413.3 653.3C2423.9 650.7 2448.4 642.0 2455.0 640.0C2461.6 638.0 2475.0 635.0 2475.0 635.0L2481.7 648.3"/>
<path d="M2381.0 658.3C2381.0 658.3 2402.7 656.0 2413.3 653.3C2423.9 650.7 2448.4 642.0 2455.0 640.0C2461.6 638.0 2475.0 635.0 2475.0 635.0L2481.7 648.3" stroke-dashoffset="3"/>
<path d="M2455.0 640.0C2455.0 640.0 2461.4 654.5 2463.3 660.0C2465.3 665.5 2468.3 676.7 2468.3 676.7"/>
<path d="M2455.0 640.0C2455.0 640.0 2461.4 654.5 2463.3 660.0C2465.3 665.5 2468.3 676.7 2468.3 676.7" stroke-dashoffset="8.5"/>
<path d="M1587.5 512.5C1587.5 512.5 1609.3 520.9 1617.5 523.8C1625.7 526.6 1634.2 528.7 1642.5 531.2C1650.8 533.8 1671.8 540.9 1677.5 542.0C1683.2 543.1 1689.7 540.3 1695.0 541.2C1700.3 542.2 1705.5 544.4 1710.0 547.5C1714.5 550.6 1719.8 555.2 1722.5 560.0C1725.2 564.8 1724.4 571.0 1726.2 576.2C1728.1 581.5 1732.7 591.2 1735.0 595.0C1737.3 598.8 1743.8 605.0 1743.8 605.0"/>
<path d="M1587.5 512.5C1587.5 512.5 1609.3 520.9 1617.5 523.8C1625.7 526.6 1634.2 528.7 1642.5 531.2C1650.8 533.8 1671.8 540.9 1677.5 542.0C1683.2 543.1 1689.7 540.3 1695.0 541.2C1700.3 542.2 1705.5 544.4 1710.0 547.5C1714.5 550.6 1719.8 555.2 1722.5 560.0C1725.2 564.8 1724.4 571.0 1726.2 576.2C1728.1 581.5 1732.7 591.2 1735.0 595.0C1737.3 598.8 1743.8 605.0 1743.8 605.0" stroke-dashoffset="9.5"/>
<path d="M633.3 181.7C633.3 181.7 642.3 183.6 645.0 186.7C647.7 189.7 648.9 195.3 649.3 200.0C649.8 204.7 649.0 214.4 648.3 220.0C647.7 225.6 646.2 232.6 645.0 236.7C643.8 240.7 640.3 244.4 640.0 248.3C639.7 252.2 641.8 256.2 643.3 260.0C644.8 263.8 648.3 270.4 650.0 273.3C651.7 276.3 655.3 279.9 656.0 281.7C656.7 283.4 656.0 287.3 656.0 287.3"/>
<path d="M633.3 181.7C633.3 181.7 642.3 183.6 645.0 186.7C647.7 189.7 648.9 195.3 649.3 200.0C649.8 204.7 649.0 214.4 648.3 220.0C647.7 225.6 646.2 232.6 645.0 236.7C643.8 240.7 640.3 244.4 640.0 248.3C639.7 252.2 641.8 256.2 643.3 260.0C644.8 263.8 648.3 270.4 650.0 273.3C651.7 276.3 655.3 279.9 656.0 281.7C656.7 283.4 656.0 287.3 656.0 287.3" stroke-dashoffset="1"/>
<path d="M843.3 180.0 816.7 320.7"/>
<path d="M843.3 180.0 816.7 320.7" stroke-dashoffset="4"/>
<path d="M1163.3 180.0 1160.0 366.0"/>
<path d="M1163.3 180.0 1160.0 366.0" stroke-dashoffset="7.5"/>
<path d="M1409.3 180.0 1410.0 350.0"/>
<path d="M1409.3 180.0 1410.0 350.0" stroke-dashoffset="0"/>
<path d="M2008.3 200.0C2008.3 200.0 2014.1 222.2 2016.7 233.3C2019.2 244.5 2022.3 260.0 2025.0 273.3C2027.7 286.7 2032.3 310.0 2035.0 323.3C2037.7 336.7 2041.0 351.7 2043.3 363.3C2045.7 375.0 2048.4 392.0 2050.0 398.3C2051.6 404.6 2053.4 411.0 2056.7 416.7C2059.9 422.3 2065.5 427.8 2070.0 433.3C2074.5 438.8 2083.8 450.5 2086.7 453.3C2089.5 456.2 2092.8 459.0 2096.7 460.0C2100.6 461.0 2112.2 461.4 2120.0 461.7C2127.8 461.9 2138.6 461.0 2143.3 461.7C2148.0 462.3 2152.9 464.5 2156.7 466.7C2160.4 468.8 2163.6 473.2 2166.7 475.0C2169.7 476.8 2173.9 478.6 2176.7 478.3C2179.4 478.1 2183.3 473.3 2183.3 473.3C2183.3 473.3 2187.8 477.8 2190.0 480.0C2192.2 482.2 2195.4 486.7 2198.3 488.3C2201.3 490.0 2205.0 490.2 2208.3 490.0C2211.7 489.8 2223.9 488.8 2230.0 486.7C2236.1 484.5 2241.1 480.0 2246.7 476.7C2252.2 473.3 2259.1 468.6 2263.3 466.7C2267.5 464.7 2272.7 462.9 2276.7 462.7C2280.6 462.4 2288.3 465.0 2288.3 465.0L2288.3 480.0"/>
<path d="M2008.3 200.0C2008.3 200.0 2014.1 222.2 2016.7 233.3C2019.2 244.5 2022.3 260.0 2025.0 273.3C2027.7 286.7 2032.3 310.0 2035.0 323.3C2037.7 336.7 2041.0 351.7 2043.3 363.3C2045.7 375.0 2048.4 392.0 2050.0 398.3C2051.6 404.6 2053.4 411.0 2056.7 416.7C2059.9 422.3 2065.5 427.8 2070.0 433.3C2074.5 438.8 2083.8 450.5 2086.7 453.3C2089.5 456.2 2092.8 459.0 2096.7 460.0C2100.6 461.0 2112.2 461.4 2120.0 461.7C2127.8 461.9 2138.6 461.0 2143.3 461.7C2148.0 462.3 2152.9 464.5 2156.7 466.7C2160.4 468.8 2163.6 473.2 2166.7 475.0C2169.7 476.8 2173.9 478.6 2176.7 478.3C2179.4 478.1 2183.3 473.3 2183.3 473.3C2183.3 473.3 2187.8 477.8 2190.0 480.0C2192.2 482.2 2195.4 486.7 2198.3 488.3C2201.3 490.0 2205.0 490.2 2208.3 490.0C2211.7 489.8 2223.9 488.8 2230.0 486.7C2236.1 484.5 2241.1 480.0 2246.7 476.7C2252.2 473.3 2259.1 468.6 2263.3 466.7C2267.5 464.7 2272.7 462.9 2276.7 462.7C2280.6 462.4 2288.3 465.0 2288.3 465.0L2288.3 480.0" stroke-dashoffset="2"/>
<path d="M2480.0 301.7C2480.0 301.7 2481.5 290.6 2483.3 286.7C2485.2 282.7 2490.8 280.0 2491.7 276.7C2492.5 273.3 2489.0 270.1 2488.3 266.7C2487.7 263.2 2484.7 254.4 2486.7 250.0C2488.6 245.6 2495.9 241.8 2500.0 240.0C2504.1 238.2 2509.7 237.9 2513.3 238.3C2516.9 238.7 2519.8 243.3 2523.3 242.7C2526.9 242.0 2537.5 235.4 2540.0 233.3C2542.5 231.3 2545.0 225.0 2545.0 225.0"/>
<path d="M2480.0 301.7C2480.0 301.7 2481.5 290.6 2483.3 286.7C2485.2 282.7 2490.8 280.0 2491.7 276.7C2492.5 273.3 2489.0 270.1 2488.3 266.7C2487.7 263.2 2484.7 254.4 2486.7 250.0C2488.6 245.6 2495.9 241.8 2500.0 240.0C2504.1 238.2 2509.7 237.9 2513.3 238.3C2516.9 238.7 2519.8 243.3 2523.3 242.7C2526.9 242.0 2537.5 235.4 2540.0 233.3C2542.5 231.3 2545.0 225.0 2545.0 225.0" stroke-dashoffset="3"/>
<path d="M2693.3 298.3C2693.3 298.3 2689.4 308.3 2688.3 310.0C2687.2 311.7 2683.3 313.3 2683.3 313.3"/>
<path d="M2693.3 298.3C2693.3 298.3 2689.4 308.3 2688.3 310.0C2687.2 311.7 2683.3 313.3 2683.3 313.3" stroke-dashoffset="8.5"/>
</g>
<g fill="none" stroke="#000" stroke-width="4.4" stroke-dasharray="6 5.04" stroke-linecap="butt" stroke-linejoin="round">
<path d="M321.7 189.3C321.7 189.3 349.4 198.7 363.3 203.3C377.2 208.0 397.8 215.0 415.0 220.7C432.2 226.3 449.4 232.0 466.7 237.3C484.0 242.7 526.1 255.2 540.0 259.3C553.9 263.5 567.6 268.2 581.7 271.7C595.7 275.1 630.5 282.3 655.0 287.3C679.5 292.4 710.7 298.2 738.3 304.0C766.0 309.8 793.3 317.0 821.0 322.3C848.7 327.6 891.4 334.7 926.7 340.0C962.0 345.3 1017.9 353.4 1053.3 357.3C1088.8 361.3 1124.4 363.8 1160.0 366.0C1195.6 368.2 1298.9 373.0 1326.7 374.0C1354.4 375.0 1410.0 375.0 1410.0 375.0L1410.0 350.0L1420.0 351.7C1420.0 351.7 1420.3 364.2 1421.7 370.0C1423.1 375.8 1424.7 382.9 1428.3 386.7C1431.9 390.4 1438.5 391.3 1443.3 392.7C1448.2 394.0 1454.7 393.8 1458.3 395.0C1462.0 396.2 1464.5 400.5 1468.3 400.7C1472.2 400.8 1478.9 396.7 1483.3 396.0C1487.7 395.3 1492.3 395.3 1496.7 396.0C1501.1 396.7 1506.6 398.1 1510.0 400.0C1513.4 401.9 1516.7 406.1 1518.3 408.3C1520.0 410.6 1521.7 416.0 1521.7 416.0C1521.7 416.0 1526.8 410.9 1530.0 411.0C1533.2 411.1 1537.9 414.6 1541.7 416.7C1545.5 418.8 1553.1 425.8 1558.3 426.7C1563.5 427.5 1569.8 423.2 1573.3 421.7C1576.9 420.2 1583.3 416.0 1583.3 416.0C1583.3 416.0 1587.1 421.2 1590.0 421.7C1592.9 422.2 1605.5 420.4 1610.0 420.7C1614.5 420.9 1620.5 422.3 1623.3 423.3C1626.2 424.4 1631.0 428.3 1631.0 428.3L1632.5 426.2"/>
<path d="M321.7 189.3C321.7 189.3 349.4 198.7 363.3 203.3C377.2 208.0 397.8 215.0 415.0 220.7C432.2 226.3 449.4 232.0 466.7 237.3C484.0 242.7 526.1 255.2 540.0 259.3C553.9 263.5 567.6 268.2 581.7 271.7C595.7 275.1 630.5 282.3 655.0 287.3C679.5 292.4 710.7 298.2 738.3 304.0C766.0 309.8 793.3 317.0 821.0 322.3C848.7 327.6 891.4 334.7 926.7 340.0C962.0 345.3 1017.9 353.4 1053.3 357.3C1088.8 361.3 1124.4 363.8 1160.0 366.0C1195.6 368.2 1298.9 373.0 1326.7 374.0C1354.4 375.0 1410.0 375.0 1410.0 375.0L1410.0 350.0L1420.0 351.7C1420.0 351.7 1420.3 364.2 1421.7 370.0C1423.1 375.8 1424.7 382.9 1428.3 386.7C1431.9 390.4 1438.5 391.3 1443.3 392.7C1448.2 394.0 1454.7 393.8 1458.3 395.0C1462.0 396.2 1464.5 400.5 1468.3 400.7C1472.2 400.8 1478.9 396.7 1483.3 396.0C1487.7 395.3 1492.3 395.3 1496.7 396.0C1501.1 396.7 1506.6 398.1 1510.0 400.0C1513.4 401.9 1516.7 406.1 1518.3 408.3C1520.0 410.6 1521.7 416.0 1521.7 416.0C1521.7 416.0 1526.8 410.9 1530.0 411.0C1533.2 411.1 1537.9 414.6 1541.7 416.7C1545.5 418.8 1553.1 425.8 1558.3 426.7C1563.5 427.5 1569.8 423.2 1573.3 421.7C1576.9 420.2 1583.3 416.0 1583.3 416.0C1583.3 416.0 1587.1 421.2 1590.0 421.7C1592.9 422.2 1605.5 420.4 1610.0 420.7C1614.5 420.9 1620.5 422.3 1623.3 423.3C1626.2 424.4 1631.0 428.3 1631.0 428.3L1632.5 426.2" stroke-dasharray="6 5.45" stroke-dashoffset="3"/>
<path d="M2281.7 501.7C2281.7 501.7 2319.4 490.4 2338.3 485.0C2357.3 479.6 2409.5 466.1 2415.0 463.3C2420.5 460.5 2416.7 445.0 2416.7 445.0C2416.7 445.0 2426.4 444.2 2430.0 441.7C2433.6 439.2 2436.5 434.4 2438.3 430.0C2440.2 425.6 2440.0 418.8 2441.7 413.3C2443.3 407.9 2447.8 402.6 2448.3 396.7C2448.9 390.7 2445.3 382.2 2445.0 376.7C2444.7 371.1 2446.7 365.6 2446.7 360.0C2446.7 354.4 2444.7 348.9 2445.0 343.3C2445.3 337.8 2447.0 332.2 2448.3 326.7C2449.7 321.2 2451.5 315.5 2453.3 310.0C2455.2 304.5 2458.3 293.9 2460.0 291.7C2461.7 289.4 2468.3 290.0 2468.3 290.0C2468.3 290.0 2469.7 298.1 2471.7 300.0C2473.6 301.9 2477.4 302.8 2480.0 301.7C2482.6 300.5 2486.9 294.2 2490.0 291.7C2493.1 289.1 2496.1 285.7 2500.0 285.0C2503.9 284.3 2509.2 286.0 2513.3 287.3C2517.5 288.7 2522.4 289.8 2525.0 293.3C2527.6 296.9 2528.1 304.5 2530.0 310.0C2531.9 315.5 2534.4 321.1 2536.7 326.7C2538.9 332.2 2541.1 337.8 2543.3 343.3C2545.6 348.9 2549.2 356.8 2550.0 360.0C2550.8 363.2 2548.6 367.8 2550.0 370.0C2551.4 372.2 2555.6 373.6 2558.3 373.3C2561.1 373.1 2566.7 368.3 2566.7 368.3C2566.7 368.3 2571.8 380.0 2573.3 383.3C2574.9 386.7 2576.2 391.2 2578.3 393.3C2580.4 395.4 2583.9 396.4 2586.7 396.7C2589.4 396.9 2595.0 395.0 2595.0 395.0"/>
<path d="M2281.7 501.7C2281.7 501.7 2319.4 490.4 2338.3 485.0C2357.3 479.6 2409.5 466.1 2415.0 463.3C2420.5 460.5 2416.7 445.0 2416.7 445.0C2416.7 445.0 2426.4 444.2 2430.0 441.7C2433.6 439.2 2436.5 434.4 2438.3 430.0C2440.2 425.6 2440.0 418.8 2441.7 413.3C2443.3 407.9 2447.8 402.6 2448.3 396.7C2448.9 390.7 2445.3 382.2 2445.0 376.7C2444.7 371.1 2446.7 365.6 2446.7 360.0C2446.7 354.4 2444.7 348.9 2445.0 343.3C2445.3 337.8 2447.0 332.2 2448.3 326.7C2449.7 321.2 2451.5 315.5 2453.3 310.0C2455.2 304.5 2458.3 293.9 2460.0 291.7C2461.7 289.4 2468.3 290.0 2468.3 290.0C2468.3 290.0 2469.7 298.1 2471.7 300.0C2473.6 301.9 2477.4 302.8 2480.0 301.7C2482.6 300.5 2486.9 294.2 2490.0 291.7C2493.1 289.1 2496.1 285.7 2500.0 285.0C2503.9 284.3 2509.2 286.0 2513.3 287.3C2517.5 288.7 2522.4 289.8 2525.0 293.3C2527.6 296.9 2528.1 304.5 2530.0 310.0C2531.9 315.5 2534.4 321.1 2536.7 326.7C2538.9 332.2 2541.1 337.8 2543.3 343.3C2545.6 348.9 2549.2 356.8 2550.0 360.0C2550.8 363.2 2548.6 367.8 2550.0 370.0C2551.4 372.2 2555.6 373.6 2558.3 373.3C2561.1 373.1 2566.7 368.3 2566.7 368.3C2566.7 368.3 2571.8 380.0 2573.3 383.3C2574.9 386.7 2576.2 391.2 2578.3 393.3C2580.4 395.4 2583.9 396.4 2586.7 396.7C2589.4 396.9 2595.0 395.0 2595.0 395.0" stroke-dasharray="6 5.45" stroke-dashoffset="3"/>
<path d="M269.3 1228.3L395.0 1248.3L385.0 1260.0C385.0 1260.0 530.1 1359.4 563.3 1375.0C596.6 1390.6 656.9 1392.3 671.7 1395.0C686.4 1397.7 716.0 1402.7 716.0 1402.7L721.7 1376.7C721.7 1376.7 796.6 1386.2 800.0 1386.7C803.4 1387.1 807.2 1386.4 810.0 1388.3C812.8 1390.3 818.5 1397.5 821.7 1401.7C824.8 1405.9 826.7 1410.9 830.0 1415.0C833.3 1419.1 839.0 1423.8 843.3 1428.3C847.7 1432.9 854.2 1440.8 860.0 1446.7C865.8 1452.5 875.1 1460.2 878.3 1463.3C881.5 1466.5 885.3 1469.3 887.3 1473.3C889.3 1477.3 892.2 1487.9 893.3 1493.3C894.5 1498.8 894.2 1504.9 895.0 1510.0C895.8 1515.1 896.2 1520.3 898.3 1525.0C900.4 1529.7 905.3 1537.8 910.0 1543.3C914.7 1548.9 920.9 1554.1 926.7 1558.3C932.4 1562.6 940.5 1566.5 945.0 1569.3C949.5 1572.2 955.7 1576.7 958.3 1578.3C961.0 1580.0 963.9 1582.4 966.7 1582.7C969.4 1582.9 972.7 1581.8 975.0 1580.0C977.3 1578.2 980.6 1573.3 983.3 1570.0C986.1 1566.7 989.5 1563.8 991.7 1560.0C993.8 1556.2 994.2 1550.2 996.7 1546.7C999.1 1543.1 1003.1 1540.1 1006.7 1538.3C1010.2 1536.6 1015.8 1536.9 1018.3 1536.0C1020.8 1535.1 1022.8 1531.7 1025.0 1531.7C1027.2 1531.7 1029.2 1535.2 1031.7 1536.0C1034.2 1536.8 1044.5 1539.1 1050.0 1540.0C1055.5 1540.9 1063.7 1541.1 1066.7 1541.7C1069.6 1542.3 1072.8 1543.0 1075.0 1545.0C1077.2 1547.0 1079.1 1551.9 1081.7 1555.0C1084.3 1558.1 1089.7 1562.5 1093.3 1566.7C1096.9 1570.8 1101.0 1576.7 1103.3 1580.0C1105.7 1583.3 1108.4 1586.3 1110.0 1590.0C1111.6 1593.7 1112.9 1601.1 1115.0 1606.3C1117.1 1611.6 1120.9 1617.5 1123.3 1623.0C1125.8 1628.5 1127.3 1634.8 1130.0 1639.7C1132.7 1644.5 1136.8 1648.5 1140.0 1653.0C1143.2 1657.5 1146.2 1663.4 1150.0 1668.0C1153.8 1672.6 1162.7 1680.1 1165.0 1683.0C1167.3 1685.9 1169.6 1689.7 1170.0 1693.0C1170.4 1696.3 1167.1 1699.7 1167.3 1703.0C1167.6 1706.3 1171.3 1710.2 1171.7 1713.0C1172.1 1715.8 1169.0 1718.7 1170.0 1721.3C1171.0 1724.0 1176.1 1727.7 1178.3 1731.3C1180.6 1734.9 1182.3 1739.2 1183.3 1743.0C1184.4 1746.8 1184.1 1752.1 1185.0 1754.7C1185.9 1757.3 1187.7 1759.8 1190.0 1761.3C1192.3 1762.8 1199.1 1764.2 1203.3 1766.3C1207.6 1768.5 1214.3 1773.3 1220.0 1776.3C1225.7 1779.4 1233.1 1783.7 1240.0 1785.7C1246.9 1787.6 1257.5 1787.1 1261.7 1788.0C1265.8 1788.9 1269.9 1791.2 1273.3 1793.0C1276.8 1794.8 1280.4 1798.6 1283.3 1799.0C1286.3 1799.4 1289.1 1797.2 1291.7 1795.7C1294.3 1794.2 1299.3 1789.7 1299.3 1789.7"/>
<path d="M269.3 1228.3L395.0 1248.3L385.0 1260.0C385.0 1260.0 530.1 1359.4 563.3 1375.0C596.6 1390.6 656.9 1392.3 671.7 1395.0C686.4 1397.7 716.0 1402.7 716.0 1402.7L721.7 1376.7C721.7 1376.7 796.6 1386.2 800.0 1386.7C803.4 1387.1 807.2 1386.4 810.0 1388.3C812.8 1390.3 818.5 1397.5 821.7 1401.7C824.8 1405.9 826.7 1410.9 830.0 1415.0C833.3 1419.1 839.0 1423.8 843.3 1428.3C847.7 1432.9 854.2 1440.8 860.0 1446.7C865.8 1452.5 875.1 1460.2 878.3 1463.3C881.5 1466.5 885.3 1469.3 887.3 1473.3C889.3 1477.3 892.2 1487.9 893.3 1493.3C894.5 1498.8 894.2 1504.9 895.0 1510.0C895.8 1515.1 896.2 1520.3 898.3 1525.0C900.4 1529.7 905.3 1537.8 910.0 1543.3C914.7 1548.9 920.9 1554.1 926.7 1558.3C932.4 1562.6 940.5 1566.5 945.0 1569.3C949.5 1572.2 955.7 1576.7 958.3 1578.3C961.0 1580.0 963.9 1582.4 966.7 1582.7C969.4 1582.9 972.7 1581.8 975.0 1580.0C977.3 1578.2 980.6 1573.3 983.3 1570.0C986.1 1566.7 989.5 1563.8 991.7 1560.0C993.8 1556.2 994.2 1550.2 996.7 1546.7C999.1 1543.1 1003.1 1540.1 1006.7 1538.3C1010.2 1536.6 1015.8 1536.9 1018.3 1536.0C1020.8 1535.1 1022.8 1531.7 1025.0 1531.7C1027.2 1531.7 1029.2 1535.2 1031.7 1536.0C1034.2 1536.8 1044.5 1539.1 1050.0 1540.0C1055.5 1540.9 1063.7 1541.1 1066.7 1541.7C1069.6 1542.3 1072.8 1543.0 1075.0 1545.0C1077.2 1547.0 1079.1 1551.9 1081.7 1555.0C1084.3 1558.1 1089.7 1562.5 1093.3 1566.7C1096.9 1570.8 1101.0 1576.7 1103.3 1580.0C1105.7 1583.3 1108.4 1586.3 1110.0 1590.0C1111.6 1593.7 1112.9 1601.1 1115.0 1606.3C1117.1 1611.6 1120.9 1617.5 1123.3 1623.0C1125.8 1628.5 1127.3 1634.8 1130.0 1639.7C1132.7 1644.5 1136.8 1648.5 1140.0 1653.0C1143.2 1657.5 1146.2 1663.4 1150.0 1668.0C1153.8 1672.6 1162.7 1680.1 1165.0 1683.0C1167.3 1685.9 1169.6 1689.7 1170.0 1693.0C1170.4 1696.3 1167.1 1699.7 1167.3 1703.0C1167.6 1706.3 1171.3 1710.2 1171.7 1713.0C1172.1 1715.8 1169.0 1718.7 1170.0 1721.3C1171.0 1724.0 1176.1 1727.7 1178.3 1731.3C1180.6 1734.9 1182.3 1739.2 1183.3 1743.0C1184.4 1746.8 1184.1 1752.1 1185.0 1754.7C1185.9 1757.3 1187.7 1759.8 1190.0 1761.3C1192.3 1762.8 1199.1 1764.2 1203.3 1766.3C1207.6 1768.5 1214.3 1773.3 1220.0 1776.3C1225.7 1779.4 1233.1 1783.7 1240.0 1785.7C1246.9 1787.6 1257.5 1787.1 1261.7 1788.0C1265.8 1788.9 1269.9 1791.2 1273.3 1793.0C1276.8 1794.8 1280.4 1798.6 1283.3 1799.0C1286.3 1799.4 1289.1 1797.2 1291.7 1795.7C1294.3 1794.2 1299.3 1789.7 1299.3 1789.7" stroke-dasharray="6 5.45" stroke-dashoffset="3"/>
</g>
</g>
<rect x="30.5" y="178.5" width="2790.0" height="1763.0" fill="none" stroke="#000" stroke-width="3.33" stroke-linejoin="miter"/>
<g shape-rendering="crispEdges">
<rect x="2994.4" y="1597.79" width="73.70" height="134.91" fill="#053061"/>
<rect x="2994.4" y="1463.38" width="73.70" height="134.91" fill="#256baf"/>
<rect x="2994.4" y="1328.97" width="73.70" height="134.91" fill="#559ec9"/>
<rect x="2994.4" y="1194.56" width="73.70" height="134.91" fill="#a7d0e4"/>
<rect x="2994.4" y="1060.15" width="73.70" height="134.91" fill="#e2edf3"/>
<rect x="2994.4" y="925.74" width="73.70" height="134.91" fill="#fae7dc"/>
<rect x="2994.4" y="791.33" width="73.70" height="134.91" fill="#f7b799"/>
<rect x="2994.4" y="656.92" width="73.70" height="134.91" fill="#dd6f59"/>
<rect x="2994.4" y="522.51" width="73.70" height="134.91" fill="#b6202f"/>
<rect x="2994.4" y="388.10" width="73.70" height="134.91" fill="#67001f"/>
</g>
<path d="M2994.4 388.6 L3031.25 320.90 L3068.1 388.6Z" fill="#67001f"/>
<path d="M2994.4 1731.7 L3031.25 1799.40 L3068.1 1731.7Z" fill="#053061"/>
<path d="M2994.4 1732.2 L3031.25 1799.40 L3068.1 1732.2 L3068.1 388.1 L3031.25 320.90 L2994.4 388.1Z" fill="none" stroke="#000" stroke-width="3.33" stroke-linejoin="miter"/>
<g font-family="'DejaVu Sans','Liberation Sans',sans-serif" font-size="41.667" fill="#000" opacity="0.999">
<path d="M3069.7 1732.20h14.6" stroke="#000" stroke-width="3.33" fill="none"/>
<text x="3097.5" y="1747.50">0.0</text>
<path d="M3069.7 1597.79h14.6" stroke="#000" stroke-width="3.33" fill="none"/>
<text x="3097.5" y="1613.09">0.1</text>
<path d="M3069.7 1463.38h14.6" stroke="#000" stroke-width="3.33" fill="none"/>
<text x="3097.5" y="1478.68">0.2</text>
<path d="M3069.7 1328.97h14.6" stroke="#000" stroke-width="3.33" fill="none"/>
<text x="3097.5" y="1344.27">0.3</text>
<path d="M3069.7 1194.56h14.6" stroke="#000" stroke-width="3.33" fill="none"/>
<text x="3097.5" y="1209.86">0.4</text>
<path d="M3069.7 1060.15h14.6" stroke="#000" stroke-width="3.33" fill="none"/>
<text x="3097.5" y="1075.45">0.5</text>
<path d="M3069.7 925.74h14.6" stroke="#000" stroke-width="3.33" fill="none"/>
<text x="3097.5" y="941.04">0.6</text>
<path d="M3069.7 791.33h14.6" stroke="#000" stroke-width="3.33" fill="none"/>
<text x="3097.5" y="806.63">0.7</text>
<path d="M3069.7 656.92h14.6" stroke="#000" stroke-width="3.33" fill="none"/>
<text x="3097.5" y="672.22">0.8</text>
<path d="M3069.7 522.51h14.6" stroke="#000" stroke-width="3.33" fill="none"/>
<text x="3097.5" y="537.81">0.9</text>
<path d="M3069.7 388.10h14.6" stroke="#000" stroke-width="3.33" fill="none"/>
<text x="3097.5" y="403.40">1.0</text>
<text transform="translate(3212,1062.2) rotate(-90)" text-anchor="middle">Hit Rate</text>
</g>
</svg>
</body></html>
